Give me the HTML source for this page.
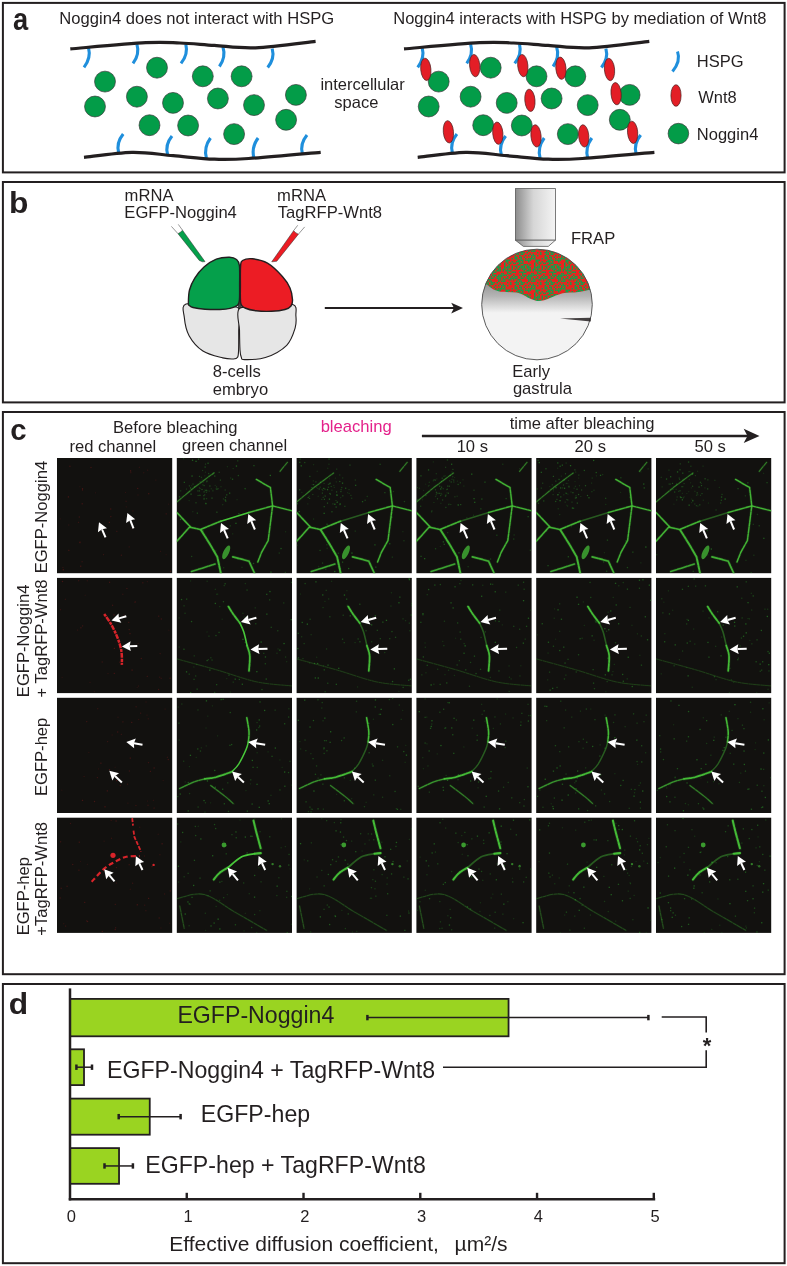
<!DOCTYPE html><html><head><meta charset="utf-8"><style>html,body{margin:0;padding:0;background:#fff;width:787px;height:1266px;overflow:hidden}svg{display:block;will-change:transform}text{font-family:"Liberation Sans",sans-serif}</style></head><body>
<svg width="787" height="1266" viewBox="0 0 787 1266">
<rect x="0" y="0" width="787" height="1266" fill="#fff"/>
<rect x="2.9" y="2.90" width="781.7" height="169.50" fill="none" stroke="#231f20" stroke-width="2"/>
<rect x="2.9" y="182.00" width="781.7" height="220.40" fill="none" stroke="#231f20" stroke-width="2"/>
<rect x="2.9" y="412.00" width="781.7" height="562.20" fill="none" stroke="#231f20" stroke-width="2"/>
<rect x="2.9" y="984.00" width="781.7" height="279.20" fill="none" stroke="#231f20" stroke-width="2"/>
<text transform="translate(12.9,29.5) scale(0.88,1)" x="0" y="0" font-size="31" font-weight="bold" fill="#231f20">a</text>
<text transform="translate(8.9,212.9) scale(1.07,1)" x="0" y="0" font-size="29.7" font-weight="bold" fill="#231f20">b</text>
<text transform="translate(10.2,439.5) scale(0.97,1)" x="0" y="0" font-size="30.3" font-weight="bold" fill="#231f20">c</text>
<text transform="translate(8.87,1013.9) scale(1.08,1)" x="0" y="0" font-size="29.4" font-weight="bold" fill="#231f20">d</text>
<text x="59.34" y="24.00" font-size="16.6" fill="#231f20" >Noggin4 does not interact with HSPG</text>
<text x="393.25" y="23.80" font-size="16.5" fill="#231f20" >Noggin4 interacts with HSPG by mediation of Wnt8</text>
<text x="320.41" y="90.00" font-size="16.5" fill="#231f20" >intercellular</text>
<text x="334.34" y="108.40" font-size="16.5" fill="#231f20" >space</text>
<text x="696.85" y="66.90" font-size="16.5" fill="#231f20" >HSPG</text>
<text x="698.13" y="102.60" font-size="16.5" fill="#231f20" >Wnt8</text>
<text x="696.85" y="140.40" font-size="16.5" fill="#231f20" >Noggin4</text>
<g transform="translate(0,0)">
<path d="M88.5,47.7 Q91.25,58.050000000000004 84,67.4" fill="none" stroke="#1f8fdc" stroke-width="3.1"/>
<path d="M136.9,44.1 Q139.95,54.25 133,63.4" fill="none" stroke="#1f8fdc" stroke-width="3.1"/>
<path d="M185.8,44.1 Q188.4,54.25 181,63.4" fill="none" stroke="#1f8fdc" stroke-width="3.1"/>
<path d="M222.9,46.8 Q226.15,57.15 219.4,66.5" fill="none" stroke="#1f8fdc" stroke-width="3.1"/>
<path d="M272.2,48.6 Q274.95,58.5 267.7,67.4" fill="none" stroke="#1f8fdc" stroke-width="3.1"/>
<path d="M123.2,134.1 Q115.95,143.0 118.7,152.9" fill="none" stroke="#1f8fdc" stroke-width="3.1"/>
<path d="M172,135.9 Q164.8,144.75 167.6,154.6" fill="none" stroke="#1f8fdc" stroke-width="3.1"/>
<path d="M210.5,138 Q203.45,147.6 206.4,158.2" fill="none" stroke="#1f8fdc" stroke-width="3.1"/>
<path d="M258.1,138 Q251.05,147.6 254,158.2" fill="none" stroke="#1f8fdc" stroke-width="3.1"/>
<path d="M307,135 Q299.7,143.9 302.4,153.8" fill="none" stroke="#1f8fdc" stroke-width="3.1"/>
<path d="M70.30,48.90 C82.88,47.87 127.52,43.68 145.80,42.70 C164.08,41.72 168.57,42.55 180.00,43.00 C191.43,43.45 201.82,44.60 214.40,45.40 C226.98,46.20 238.63,48.48 255.50,47.80 C272.37,47.12 305.58,42.38 315.60,41.30" fill="none" stroke="#231f20" stroke-width="3.2"/>
<path d="M84.00,157.40 C92.00,156.55 117.13,152.58 132.00,152.30 C146.87,152.02 159.47,154.55 173.20,155.70 C186.93,156.85 201.82,158.73 214.40,159.20 C226.98,159.67 230.98,159.65 248.70,158.50 C266.42,157.35 308.70,153.33 320.70,152.30" fill="none" stroke="#231f20" stroke-width="3.2"/>
<circle cx="105" cy="81.6" r="10.45" fill="#039c48" stroke="#3a3a3a" stroke-width="0.7"/>
<circle cx="95" cy="106.5" r="10.45" fill="#039c48" stroke="#3a3a3a" stroke-width="0.7"/>
<circle cx="136.9" cy="96.7" r="10.45" fill="#039c48" stroke="#3a3a3a" stroke-width="0.7"/>
<circle cx="157" cy="67.7" r="10.45" fill="#039c48" stroke="#3a3a3a" stroke-width="0.7"/>
<circle cx="173" cy="102.9" r="10.45" fill="#039c48" stroke="#3a3a3a" stroke-width="0.7"/>
<circle cx="149.5" cy="125.2" r="10.45" fill="#039c48" stroke="#3a3a3a" stroke-width="0.7"/>
<circle cx="188.1" cy="125.5" r="10.45" fill="#039c48" stroke="#3a3a3a" stroke-width="0.7"/>
<circle cx="202.8" cy="76.3" r="10.45" fill="#039c48" stroke="#3a3a3a" stroke-width="0.7"/>
<circle cx="241.6" cy="76.3" r="10.45" fill="#039c48" stroke="#3a3a3a" stroke-width="0.7"/>
<circle cx="217.9" cy="98.5" r="10.45" fill="#039c48" stroke="#3a3a3a" stroke-width="0.7"/>
<circle cx="254" cy="105.1" r="10.45" fill="#039c48" stroke="#3a3a3a" stroke-width="0.7"/>
<circle cx="295.9" cy="94.9" r="10.45" fill="#039c48" stroke="#3a3a3a" stroke-width="0.7"/>
<circle cx="286.1" cy="119.8" r="10.45" fill="#039c48" stroke="#3a3a3a" stroke-width="0.7"/>
<circle cx="234.1" cy="134.1" r="10.45" fill="#039c48" stroke="#3a3a3a" stroke-width="0.7"/>
</g>
<g transform="translate(333.7,0)">
<path d="M88.5,47.7 Q91.25,58.050000000000004 84,67.4" fill="none" stroke="#1f8fdc" stroke-width="3.1"/>
<path d="M136.9,44.1 Q139.95,54.25 133,63.4" fill="none" stroke="#1f8fdc" stroke-width="3.1"/>
<path d="M185.8,44.1 Q188.4,54.25 181,63.4" fill="none" stroke="#1f8fdc" stroke-width="3.1"/>
<path d="M222.9,46.8 Q226.15,57.15 219.4,66.5" fill="none" stroke="#1f8fdc" stroke-width="3.1"/>
<path d="M272.2,48.6 Q274.95,58.5 267.7,67.4" fill="none" stroke="#1f8fdc" stroke-width="3.1"/>
<path d="M123.2,134.1 Q115.95,143.0 118.7,152.9" fill="none" stroke="#1f8fdc" stroke-width="3.1"/>
<path d="M172,135.9 Q164.8,144.75 167.6,154.6" fill="none" stroke="#1f8fdc" stroke-width="3.1"/>
<path d="M210.5,138 Q203.45,147.6 206.4,158.2" fill="none" stroke="#1f8fdc" stroke-width="3.1"/>
<path d="M258.1,138 Q251.05,147.6 254,158.2" fill="none" stroke="#1f8fdc" stroke-width="3.1"/>
<path d="M307,135 Q299.7,143.9 302.4,153.8" fill="none" stroke="#1f8fdc" stroke-width="3.1"/>
<path d="M70.30,48.90 C82.88,47.87 127.52,43.68 145.80,42.70 C164.08,41.72 168.57,42.55 180.00,43.00 C191.43,43.45 201.82,44.60 214.40,45.40 C226.98,46.20 238.63,48.48 255.50,47.80 C272.37,47.12 305.58,42.38 315.60,41.30" fill="none" stroke="#231f20" stroke-width="3.2"/>
<path d="M84.00,157.40 C92.00,156.55 117.13,152.58 132.00,152.30 C146.87,152.02 159.47,154.55 173.20,155.70 C186.93,156.85 201.82,158.73 214.40,159.20 C226.98,159.67 230.98,159.65 248.70,158.50 C266.42,157.35 308.70,153.33 320.70,152.30" fill="none" stroke="#231f20" stroke-width="3.2"/>
<circle cx="105" cy="81.6" r="10.45" fill="#039c48" stroke="#3a3a3a" stroke-width="0.7"/>
<circle cx="95" cy="106.5" r="10.45" fill="#039c48" stroke="#3a3a3a" stroke-width="0.7"/>
<circle cx="136.9" cy="96.7" r="10.45" fill="#039c48" stroke="#3a3a3a" stroke-width="0.7"/>
<circle cx="157" cy="67.7" r="10.45" fill="#039c48" stroke="#3a3a3a" stroke-width="0.7"/>
<circle cx="173" cy="102.9" r="10.45" fill="#039c48" stroke="#3a3a3a" stroke-width="0.7"/>
<circle cx="149.5" cy="125.2" r="10.45" fill="#039c48" stroke="#3a3a3a" stroke-width="0.7"/>
<circle cx="188.1" cy="125.5" r="10.45" fill="#039c48" stroke="#3a3a3a" stroke-width="0.7"/>
<circle cx="202.8" cy="76.3" r="10.45" fill="#039c48" stroke="#3a3a3a" stroke-width="0.7"/>
<circle cx="241.6" cy="76.3" r="10.45" fill="#039c48" stroke="#3a3a3a" stroke-width="0.7"/>
<circle cx="217.9" cy="98.5" r="10.45" fill="#039c48" stroke="#3a3a3a" stroke-width="0.7"/>
<circle cx="254" cy="105.1" r="10.45" fill="#039c48" stroke="#3a3a3a" stroke-width="0.7"/>
<circle cx="295.9" cy="94.9" r="10.45" fill="#039c48" stroke="#3a3a3a" stroke-width="0.7"/>
<circle cx="286.1" cy="119.8" r="10.45" fill="#039c48" stroke="#3a3a3a" stroke-width="0.7"/>
<circle cx="234.1" cy="134.1" r="10.45" fill="#039c48" stroke="#3a3a3a" stroke-width="0.7"/>
</g>
<ellipse cx="425.8" cy="69.3" rx="5.1" ry="11.2" transform="rotate(-5 425.8 69.3)" fill="#e31e26" stroke="#4a2020" stroke-width="0.7"/>
<ellipse cx="474.7" cy="65.6" rx="5.1" ry="11.2" transform="rotate(-5 474.7 65.6)" fill="#e31e26" stroke="#4a2020" stroke-width="0.7"/>
<ellipse cx="522.8" cy="65.6" rx="5.1" ry="11.2" transform="rotate(-5 522.8 65.6)" fill="#e31e26" stroke="#4a2020" stroke-width="0.7"/>
<ellipse cx="560.9" cy="68.2" rx="5.1" ry="11.2" transform="rotate(-5 560.9 68.2)" fill="#e31e26" stroke="#4a2020" stroke-width="0.7"/>
<ellipse cx="609.5" cy="69.5" rx="5.1" ry="11.2" transform="rotate(-5 609.5 69.5)" fill="#e31e26" stroke="#4a2020" stroke-width="0.7"/>
<ellipse cx="529.9" cy="100.3" rx="5.1" ry="11.2" transform="rotate(-5 529.9 100.3)" fill="#e31e26" stroke="#4a2020" stroke-width="0.7"/>
<ellipse cx="616.1" cy="93.7" rx="5.1" ry="11.2" transform="rotate(-5 616.1 93.7)" fill="#e31e26" stroke="#4a2020" stroke-width="0.7"/>
<ellipse cx="448.4" cy="131.8" rx="5.1" ry="11.2" transform="rotate(-5 448.4 131.8)" fill="#e31e26" stroke="#4a2020" stroke-width="0.7"/>
<ellipse cx="497.8" cy="133.2" rx="5.1" ry="11.2" transform="rotate(-5 497.8 133.2)" fill="#e31e26" stroke="#4a2020" stroke-width="0.7"/>
<ellipse cx="536" cy="135.9" rx="5.1" ry="11.2" transform="rotate(-5 536 135.9)" fill="#e31e26" stroke="#4a2020" stroke-width="0.7"/>
<ellipse cx="583.7" cy="135.9" rx="5.1" ry="11.2" transform="rotate(-5 583.7 135.9)" fill="#e31e26" stroke="#4a2020" stroke-width="0.7"/>
<ellipse cx="632.6" cy="132.3" rx="5.1" ry="11.2" transform="rotate(-5 632.6 132.3)" fill="#e31e26" stroke="#4a2020" stroke-width="0.7"/>
<path d="M677.5,51.5 Q681,61 672.5,71.5" fill="none" stroke="#1f8fdc" stroke-width="3"/>
<ellipse cx="676" cy="95.5" rx="5.1" ry="10.8" fill="#e31e26" stroke="#4a2020" stroke-width="0.7"/>
<circle cx="678.4" cy="133.6" r="10.3" fill="#039c48" stroke="#3a3a3a" stroke-width="0.7"/>
<text x="124.60" y="200.60" font-size="16.6" fill="#231f20" >mRNA</text>
<text x="124.34" y="218.30" font-size="16.6" fill="#231f20" >EGFP-Noggin4</text>
<text x="277.10" y="200.60" font-size="16.6" fill="#231f20" >mRNA</text>
<text x="277.83" y="218.30" font-size="16.6" fill="#231f20" >TagRFP-Wnt8</text>
<text x="570.94" y="243.70" font-size="16.6" fill="#231f20" >FRAP</text>
<text x="212.77" y="376.50" font-size="16.6" fill="#231f20" >8-cells</text>
<text x="212.80" y="395.00" font-size="16.6" fill="#231f20" >embryo</text>
<text x="512.24" y="377.00" font-size="16.6" fill="#231f20" >Early</text>
<text x="512.90" y="393.90" font-size="16.6" fill="#231f20" >gastrula</text>
<rect x="238" y="301" width="3" height="8" fill="#444"/>
<path d="M186.00,304.00 C180.88,305.82 183.78,312.12 184.30,317.40 C184.82,322.68 186.00,330.10 189.10,335.70 C192.20,341.30 197.30,347.30 202.90,351.00 C208.50,354.70 217.60,356.57 222.70,357.90 C227.80,359.23 231.02,359.10 233.50,359.00 C235.98,358.90 236.75,358.80 237.60,357.30 C238.45,355.80 238.42,354.55 238.60,350.00 C238.78,345.45 238.68,336.95 238.70,330.00 C238.72,323.05 242.65,312.22 238.70,308.30 C234.75,304.38 223.78,307.22 215.00,306.50 C206.22,305.78 191.12,302.18 186.00,304.00Z" fill="#e6e6e6" stroke="#231f20" stroke-width="1.1"/>
<path d="M239.50,308.50 C235.25,312.25 239.42,323.08 239.50,330.00 C239.58,336.92 239.70,345.45 240.00,350.00 C240.30,354.55 240.55,355.70 241.30,357.30 C242.05,358.90 240.48,359.55 244.50,359.60 C248.52,359.65 258.37,359.98 265.40,357.60 C272.43,355.22 281.75,350.22 286.70,345.30 C291.65,340.38 293.57,333.00 295.10,328.10 C296.63,323.20 296.28,319.83 295.90,315.90 C295.52,311.97 297.95,305.90 292.80,304.50 C287.65,303.10 273.88,306.83 265.00,307.50 C256.12,308.17 243.75,304.75 239.50,308.50Z" fill="#e6e6e6" stroke="#231f20" stroke-width="1.1"/>
<path d="M188.40,303.50 C188.40,300.92 188.43,294.23 189.50,290.00 C190.57,285.77 192.38,281.93 194.80,278.10 C197.22,274.27 200.42,270.17 204.00,267.00 C207.58,263.83 212.05,260.73 216.30,259.10 C220.55,257.47 226.13,257.13 229.50,257.20 C232.87,257.27 234.85,258.12 236.50,259.50 C238.15,260.88 238.88,261.25 239.40,265.50 C239.92,269.75 239.60,279.25 239.60,285.00 C239.60,290.75 239.75,296.62 239.40,300.00 C239.05,303.38 239.07,303.90 237.50,305.30 C235.93,306.70 232.92,307.70 230.00,308.40 C227.08,309.10 224.17,309.37 220.00,309.50 C215.83,309.63 209.50,309.53 205.00,309.20 C200.50,308.87 195.58,308.12 193.00,307.50 C190.42,306.88 190.27,306.17 189.50,305.50 C188.73,304.83 188.40,306.08 188.40,303.50Z" fill="#05a04b" stroke="#231f20" stroke-width="1.4"/>
<path d="M240.60,266.00 C240.95,261.92 240.50,261.70 242.50,260.50 C244.50,259.30 248.43,258.35 252.60,258.80 C256.77,259.25 262.53,260.25 267.50,263.20 C272.47,266.15 278.65,272.37 282.40,276.50 C286.15,280.63 288.32,284.15 290.00,288.00 C291.68,291.85 292.33,296.60 292.50,299.60 C292.67,302.60 292.25,304.35 291.00,306.00 C289.75,307.65 288.25,308.62 285.00,309.50 C281.75,310.38 276.33,311.08 271.50,311.30 C266.67,311.52 260.42,311.35 256.00,310.80 C251.58,310.25 247.53,309.22 245.00,308.00 C242.47,306.78 241.57,307.33 240.80,303.50 C240.03,299.67 240.43,291.25 240.40,285.00 C240.37,278.75 240.25,270.08 240.60,266.00Z" fill="#ec1c24" stroke="#231f20" stroke-width="1.4"/>
<path d="M171.4,226.4 L178,233.7 M178.3,224.4 L182.5,230.2" stroke="#6a6a6a" stroke-width="0.7" fill="none"/>
<path d="M178,233.7 Q180.5,232.5 182.5,230.2 L205,261.6 L202.5,261.8 L199.3,260.5 Z" fill="#05a04b" stroke="#2a2a2a" stroke-width="0.5"/>
<path d="M297.7,225.3 L293.6,230.7 M304.7,226.9 L298.4,234.2" stroke="#6a6a6a" stroke-width="0.7" fill="none"/>
<path d="M293.6,230.7 Q295.5,233 298.4,234.2 L276.8,261.2 L274,261.6 L271.7,261.8 Z" fill="#ec1c24" stroke="#2a2a2a" stroke-width="0.5"/>
<line x1="324.8" y1="308.1" x2="455" y2="308.1" stroke="#231f20" stroke-width="2"/>
<path d="M463,308.1 L451.2,302.8 L454,308.1 L451.2,313.4 Z" fill="#231f20"/>
<defs><linearGradient id="obj" x1="0" x2="1" y1="0" y2="0"><stop offset="0" stop-color="#8c8c8c"/><stop offset="0.45" stop-color="#d6d6d6"/><stop offset="1" stop-color="#f4f4f4"/></linearGradient><linearGradient id="gast" x1="0" x2="0" y1="0" y2="1"><stop offset="0" stop-color="#8c8c8c"/><stop offset="0.2" stop-color="#b4b4b4"/><stop offset="0.41" stop-color="#f3f3f3"/><stop offset="1" stop-color="#f3f3f3"/></linearGradient><clipPath id="gclip"><circle cx="537" cy="304.5" r="55.3"/></clipPath></defs>
<rect x="515.4" y="188.6" width="40" height="51.6" fill="url(#obj)" stroke="#5a5a5a" stroke-width="0.8"/>
<path d="M515.4,240.2 L523.4,246.4 L548.3,246.4 L555.4,240.2 Z" fill="url(#obj)" stroke="#5a5a5a" stroke-width="0.8"/>
<g clip-path="url(#gclip)">
<rect x="480" y="280" width="115" height="80" fill="url(#gast)"/>
</g>
<defs><pattern id="rg" width="30" height="30" patternUnits="userSpaceOnUse"><rect width="30" height="30" fill="#e8241f"/>
<rect x="0.0" y="0.0" width="1.5" height="1.5" fill="#12a04a"/>
<rect x="0.0" y="3.0" width="1.5" height="1.5" fill="#12a04a"/>
<rect x="0.0" y="7.5" width="1.5" height="1.5" fill="#12a04a"/>
<rect x="0.0" y="9.0" width="1.5" height="1.5" fill="#12a04a"/>
<rect x="0.0" y="12.0" width="1.5" height="1.5" fill="#12a04a"/>
<rect x="0.0" y="13.5" width="1.5" height="1.5" fill="#12a04a"/>
<rect x="0.0" y="22.5" width="1.5" height="1.5" fill="#12a04a"/>
<rect x="1.5" y="1.5" width="1.5" height="1.5" fill="#12a04a"/>
<rect x="1.5" y="6.0" width="1.5" height="1.5" fill="#12a04a"/>
<rect x="1.5" y="7.5" width="1.5" height="1.5" fill="#12a04a"/>
<rect x="1.5" y="18.0" width="1.5" height="1.5" fill="#12a04a"/>
<rect x="1.5" y="21.0" width="1.5" height="1.5" fill="#12a04a"/>
<rect x="1.5" y="25.5" width="1.5" height="1.5" fill="#12a04a"/>
<rect x="1.5" y="27.0" width="1.5" height="1.5" fill="#12a04a"/>
<rect x="1.5" y="28.5" width="1.5" height="1.5" fill="#12a04a"/>
<rect x="3.0" y="1.5" width="1.5" height="1.5" fill="#12a04a"/>
<rect x="3.0" y="4.5" width="1.5" height="1.5" fill="#12a04a"/>
<rect x="3.0" y="7.5" width="1.5" height="1.5" fill="#12a04a"/>
<rect x="3.0" y="9.0" width="1.5" height="1.5" fill="#12a04a"/>
<rect x="3.0" y="22.5" width="1.5" height="1.5" fill="#12a04a"/>
<rect x="4.5" y="1.5" width="1.5" height="1.5" fill="#12a04a"/>
<rect x="4.5" y="6.0" width="1.5" height="1.5" fill="#12a04a"/>
<rect x="4.5" y="7.5" width="1.5" height="1.5" fill="#12a04a"/>
<rect x="4.5" y="12.0" width="1.5" height="1.5" fill="#12a04a"/>
<rect x="4.5" y="15.0" width="1.5" height="1.5" fill="#12a04a"/>
<rect x="4.5" y="16.5" width="1.5" height="1.5" fill="#12a04a"/>
<rect x="4.5" y="18.0" width="1.5" height="1.5" fill="#12a04a"/>
<rect x="4.5" y="22.5" width="1.5" height="1.5" fill="#12a04a"/>
<rect x="4.5" y="25.5" width="1.5" height="1.5" fill="#12a04a"/>
<rect x="4.5" y="28.5" width="1.5" height="1.5" fill="#12a04a"/>
<rect x="6.0" y="6.0" width="1.5" height="1.5" fill="#12a04a"/>
<rect x="6.0" y="7.5" width="1.5" height="1.5" fill="#12a04a"/>
<rect x="6.0" y="10.5" width="1.5" height="1.5" fill="#12a04a"/>
<rect x="6.0" y="12.0" width="1.5" height="1.5" fill="#12a04a"/>
<rect x="6.0" y="13.5" width="1.5" height="1.5" fill="#12a04a"/>
<rect x="6.0" y="16.5" width="1.5" height="1.5" fill="#12a04a"/>
<rect x="6.0" y="18.0" width="1.5" height="1.5" fill="#12a04a"/>
<rect x="6.0" y="21.0" width="1.5" height="1.5" fill="#12a04a"/>
<rect x="6.0" y="25.5" width="1.5" height="1.5" fill="#12a04a"/>
<rect x="6.0" y="27.0" width="1.5" height="1.5" fill="#12a04a"/>
<rect x="7.5" y="9.0" width="1.5" height="1.5" fill="#12a04a"/>
<rect x="7.5" y="12.0" width="1.5" height="1.5" fill="#12a04a"/>
<rect x="7.5" y="13.5" width="1.5" height="1.5" fill="#12a04a"/>
<rect x="7.5" y="19.5" width="1.5" height="1.5" fill="#12a04a"/>
<rect x="7.5" y="21.0" width="1.5" height="1.5" fill="#12a04a"/>
<rect x="7.5" y="24.0" width="1.5" height="1.5" fill="#12a04a"/>
<rect x="7.5" y="28.5" width="1.5" height="1.5" fill="#12a04a"/>
<rect x="9.0" y="1.5" width="1.5" height="1.5" fill="#12a04a"/>
<rect x="9.0" y="4.5" width="1.5" height="1.5" fill="#12a04a"/>
<rect x="9.0" y="9.0" width="1.5" height="1.5" fill="#12a04a"/>
<rect x="9.0" y="10.5" width="1.5" height="1.5" fill="#12a04a"/>
<rect x="9.0" y="15.0" width="1.5" height="1.5" fill="#12a04a"/>
<rect x="9.0" y="16.5" width="1.5" height="1.5" fill="#12a04a"/>
<rect x="9.0" y="19.5" width="1.5" height="1.5" fill="#12a04a"/>
<rect x="9.0" y="21.0" width="1.5" height="1.5" fill="#12a04a"/>
<rect x="9.0" y="22.5" width="1.5" height="1.5" fill="#12a04a"/>
<rect x="9.0" y="24.0" width="1.5" height="1.5" fill="#12a04a"/>
<rect x="9.0" y="27.0" width="1.5" height="1.5" fill="#12a04a"/>
<rect x="9.0" y="28.5" width="1.5" height="1.5" fill="#12a04a"/>
<rect x="10.5" y="1.5" width="1.5" height="1.5" fill="#12a04a"/>
<rect x="10.5" y="6.0" width="1.5" height="1.5" fill="#12a04a"/>
<rect x="10.5" y="7.5" width="1.5" height="1.5" fill="#12a04a"/>
<rect x="10.5" y="10.5" width="1.5" height="1.5" fill="#12a04a"/>
<rect x="10.5" y="12.0" width="1.5" height="1.5" fill="#12a04a"/>
<rect x="10.5" y="13.5" width="1.5" height="1.5" fill="#12a04a"/>
<rect x="10.5" y="16.5" width="1.5" height="1.5" fill="#12a04a"/>
<rect x="10.5" y="18.0" width="1.5" height="1.5" fill="#12a04a"/>
<rect x="10.5" y="19.5" width="1.5" height="1.5" fill="#12a04a"/>
<rect x="10.5" y="22.5" width="1.5" height="1.5" fill="#12a04a"/>
<rect x="10.5" y="25.5" width="1.5" height="1.5" fill="#12a04a"/>
<rect x="10.5" y="27.0" width="1.5" height="1.5" fill="#12a04a"/>
<rect x="12.0" y="1.5" width="1.5" height="1.5" fill="#12a04a"/>
<rect x="12.0" y="3.0" width="1.5" height="1.5" fill="#12a04a"/>
<rect x="12.0" y="4.5" width="1.5" height="1.5" fill="#12a04a"/>
<rect x="12.0" y="7.5" width="1.5" height="1.5" fill="#12a04a"/>
<rect x="12.0" y="12.0" width="1.5" height="1.5" fill="#12a04a"/>
<rect x="12.0" y="13.5" width="1.5" height="1.5" fill="#12a04a"/>
<rect x="12.0" y="19.5" width="1.5" height="1.5" fill="#12a04a"/>
<rect x="12.0" y="21.0" width="1.5" height="1.5" fill="#12a04a"/>
<rect x="12.0" y="22.5" width="1.5" height="1.5" fill="#12a04a"/>
<rect x="12.0" y="25.5" width="1.5" height="1.5" fill="#12a04a"/>
<rect x="12.0" y="27.0" width="1.5" height="1.5" fill="#12a04a"/>
<rect x="12.0" y="28.5" width="1.5" height="1.5" fill="#12a04a"/>
<rect x="13.5" y="0.0" width="1.5" height="1.5" fill="#12a04a"/>
<rect x="13.5" y="1.5" width="1.5" height="1.5" fill="#12a04a"/>
<rect x="13.5" y="4.5" width="1.5" height="1.5" fill="#12a04a"/>
<rect x="13.5" y="6.0" width="1.5" height="1.5" fill="#12a04a"/>
<rect x="13.5" y="12.0" width="1.5" height="1.5" fill="#12a04a"/>
<rect x="13.5" y="16.5" width="1.5" height="1.5" fill="#12a04a"/>
<rect x="13.5" y="24.0" width="1.5" height="1.5" fill="#12a04a"/>
<rect x="13.5" y="25.5" width="1.5" height="1.5" fill="#12a04a"/>
<rect x="13.5" y="27.0" width="1.5" height="1.5" fill="#12a04a"/>
<rect x="13.5" y="28.5" width="1.5" height="1.5" fill="#12a04a"/>
<rect x="15.0" y="1.5" width="1.5" height="1.5" fill="#12a04a"/>
<rect x="15.0" y="4.5" width="1.5" height="1.5" fill="#12a04a"/>
<rect x="15.0" y="15.0" width="1.5" height="1.5" fill="#12a04a"/>
<rect x="15.0" y="18.0" width="1.5" height="1.5" fill="#12a04a"/>
<rect x="15.0" y="19.5" width="1.5" height="1.5" fill="#12a04a"/>
<rect x="15.0" y="24.0" width="1.5" height="1.5" fill="#12a04a"/>
<rect x="15.0" y="28.5" width="1.5" height="1.5" fill="#12a04a"/>
<rect x="16.5" y="0.0" width="1.5" height="1.5" fill="#12a04a"/>
<rect x="16.5" y="6.0" width="1.5" height="1.5" fill="#12a04a"/>
<rect x="16.5" y="7.5" width="1.5" height="1.5" fill="#12a04a"/>
<rect x="16.5" y="12.0" width="1.5" height="1.5" fill="#12a04a"/>
<rect x="16.5" y="19.5" width="1.5" height="1.5" fill="#12a04a"/>
<rect x="16.5" y="24.0" width="1.5" height="1.5" fill="#12a04a"/>
<rect x="16.5" y="25.5" width="1.5" height="1.5" fill="#12a04a"/>
<rect x="16.5" y="27.0" width="1.5" height="1.5" fill="#12a04a"/>
<rect x="18.0" y="0.0" width="1.5" height="1.5" fill="#12a04a"/>
<rect x="18.0" y="4.5" width="1.5" height="1.5" fill="#12a04a"/>
<rect x="18.0" y="6.0" width="1.5" height="1.5" fill="#12a04a"/>
<rect x="18.0" y="7.5" width="1.5" height="1.5" fill="#12a04a"/>
<rect x="18.0" y="9.0" width="1.5" height="1.5" fill="#12a04a"/>
<rect x="18.0" y="10.5" width="1.5" height="1.5" fill="#12a04a"/>
<rect x="18.0" y="15.0" width="1.5" height="1.5" fill="#12a04a"/>
<rect x="18.0" y="18.0" width="1.5" height="1.5" fill="#12a04a"/>
<rect x="18.0" y="19.5" width="1.5" height="1.5" fill="#12a04a"/>
<rect x="18.0" y="21.0" width="1.5" height="1.5" fill="#12a04a"/>
<rect x="18.0" y="25.5" width="1.5" height="1.5" fill="#12a04a"/>
<rect x="18.0" y="27.0" width="1.5" height="1.5" fill="#12a04a"/>
<rect x="18.0" y="28.5" width="1.5" height="1.5" fill="#12a04a"/>
<rect x="19.5" y="0.0" width="1.5" height="1.5" fill="#12a04a"/>
<rect x="19.5" y="4.5" width="1.5" height="1.5" fill="#12a04a"/>
<rect x="19.5" y="6.0" width="1.5" height="1.5" fill="#12a04a"/>
<rect x="19.5" y="7.5" width="1.5" height="1.5" fill="#12a04a"/>
<rect x="19.5" y="9.0" width="1.5" height="1.5" fill="#12a04a"/>
<rect x="19.5" y="13.5" width="1.5" height="1.5" fill="#12a04a"/>
<rect x="19.5" y="18.0" width="1.5" height="1.5" fill="#12a04a"/>
<rect x="19.5" y="19.5" width="1.5" height="1.5" fill="#12a04a"/>
<rect x="19.5" y="24.0" width="1.5" height="1.5" fill="#12a04a"/>
<rect x="19.5" y="27.0" width="1.5" height="1.5" fill="#12a04a"/>
<rect x="19.5" y="28.5" width="1.5" height="1.5" fill="#12a04a"/>
<rect x="21.0" y="3.0" width="1.5" height="1.5" fill="#12a04a"/>
<rect x="21.0" y="4.5" width="1.5" height="1.5" fill="#12a04a"/>
<rect x="21.0" y="6.0" width="1.5" height="1.5" fill="#12a04a"/>
<rect x="21.0" y="10.5" width="1.5" height="1.5" fill="#12a04a"/>
<rect x="21.0" y="15.0" width="1.5" height="1.5" fill="#12a04a"/>
<rect x="21.0" y="16.5" width="1.5" height="1.5" fill="#12a04a"/>
<rect x="21.0" y="18.0" width="1.5" height="1.5" fill="#12a04a"/>
<rect x="22.5" y="0.0" width="1.5" height="1.5" fill="#12a04a"/>
<rect x="22.5" y="3.0" width="1.5" height="1.5" fill="#12a04a"/>
<rect x="22.5" y="4.5" width="1.5" height="1.5" fill="#12a04a"/>
<rect x="22.5" y="7.5" width="1.5" height="1.5" fill="#12a04a"/>
<rect x="22.5" y="9.0" width="1.5" height="1.5" fill="#12a04a"/>
<rect x="22.5" y="10.5" width="1.5" height="1.5" fill="#12a04a"/>
<rect x="22.5" y="13.5" width="1.5" height="1.5" fill="#12a04a"/>
<rect x="22.5" y="15.0" width="1.5" height="1.5" fill="#12a04a"/>
<rect x="22.5" y="18.0" width="1.5" height="1.5" fill="#12a04a"/>
<rect x="22.5" y="28.5" width="1.5" height="1.5" fill="#12a04a"/>
<rect x="24.0" y="4.5" width="1.5" height="1.5" fill="#12a04a"/>
<rect x="24.0" y="9.0" width="1.5" height="1.5" fill="#12a04a"/>
<rect x="24.0" y="10.5" width="1.5" height="1.5" fill="#12a04a"/>
<rect x="24.0" y="15.0" width="1.5" height="1.5" fill="#12a04a"/>
<rect x="24.0" y="16.5" width="1.5" height="1.5" fill="#12a04a"/>
<rect x="24.0" y="18.0" width="1.5" height="1.5" fill="#12a04a"/>
<rect x="24.0" y="22.5" width="1.5" height="1.5" fill="#12a04a"/>
<rect x="24.0" y="24.0" width="1.5" height="1.5" fill="#12a04a"/>
<rect x="24.0" y="25.5" width="1.5" height="1.5" fill="#12a04a"/>
<rect x="24.0" y="27.0" width="1.5" height="1.5" fill="#12a04a"/>
<rect x="24.0" y="28.5" width="1.5" height="1.5" fill="#12a04a"/>
<rect x="25.5" y="0.0" width="1.5" height="1.5" fill="#12a04a"/>
<rect x="25.5" y="4.5" width="1.5" height="1.5" fill="#12a04a"/>
<rect x="25.5" y="7.5" width="1.5" height="1.5" fill="#12a04a"/>
<rect x="25.5" y="19.5" width="1.5" height="1.5" fill="#12a04a"/>
<rect x="25.5" y="21.0" width="1.5" height="1.5" fill="#12a04a"/>
<rect x="25.5" y="27.0" width="1.5" height="1.5" fill="#12a04a"/>
<rect x="27.0" y="0.0" width="1.5" height="1.5" fill="#12a04a"/>
<rect x="27.0" y="1.5" width="1.5" height="1.5" fill="#12a04a"/>
<rect x="27.0" y="3.0" width="1.5" height="1.5" fill="#12a04a"/>
<rect x="27.0" y="6.0" width="1.5" height="1.5" fill="#12a04a"/>
<rect x="27.0" y="7.5" width="1.5" height="1.5" fill="#12a04a"/>
<rect x="27.0" y="12.0" width="1.5" height="1.5" fill="#12a04a"/>
<rect x="27.0" y="15.0" width="1.5" height="1.5" fill="#12a04a"/>
<rect x="27.0" y="19.5" width="1.5" height="1.5" fill="#12a04a"/>
<rect x="27.0" y="21.0" width="1.5" height="1.5" fill="#12a04a"/>
<rect x="27.0" y="22.5" width="1.5" height="1.5" fill="#12a04a"/>
<rect x="27.0" y="25.5" width="1.5" height="1.5" fill="#12a04a"/>
<rect x="27.0" y="27.0" width="1.5" height="1.5" fill="#12a04a"/>
<rect x="27.0" y="28.5" width="1.5" height="1.5" fill="#12a04a"/>
<rect x="28.5" y="0.0" width="1.5" height="1.5" fill="#12a04a"/>
<rect x="28.5" y="3.0" width="1.5" height="1.5" fill="#12a04a"/>
<rect x="28.5" y="9.0" width="1.5" height="1.5" fill="#12a04a"/>
<rect x="28.5" y="19.5" width="1.5" height="1.5" fill="#12a04a"/>
<rect x="28.5" y="24.0" width="1.5" height="1.5" fill="#12a04a"/>
<rect x="28.5" y="25.5" width="1.5" height="1.5" fill="#12a04a"/>
<rect x="28.5" y="27.0" width="1.5" height="1.5" fill="#12a04a"/>
</pattern><clipPath id="capclip"><path d="M470,240 L600,240 L600,290 L588.3,290 C580,292 576.7,292.6 570,292.6 C562,292.8 559,294.4 550,298 C545,300.5 540,301.5 536,300.8 C528,299 522,293 516.3,292.6 C508,292 503,291.7 500.2,291.7 C493,290.5 490,287 486.9,284.6 L470,284.6 Z"/></clipPath></defs>
<g clip-path="url(#gclip)"><rect x="470" y="240" width="130" height="70" fill="url(#rg)" clip-path="url(#capclip)"/></g>
<circle cx="537" cy="304.5" r="55.3" fill="none" stroke="#4a4a4a" stroke-width="0.9"/>
<path d="M560,318.4 L590.8,317.7 L590.8,321.6 Z" fill="#231f20" opacity="0.85"/>
<text x="113.04" y="433.00" font-size="16.6" fill="#231f20" >Before bleaching</text>
<text x="69.40" y="451.50" font-size="16.6" fill="#231f20" >red channel</text>
<text x="182.00" y="450.60" font-size="16.6" fill="#231f20" >green channel</text>
<text x="320.64" y="432.10" font-size="16.6" fill="#e4218b" >bleaching</text>
<text x="509.63" y="429.30" font-size="16.6" fill="#231f20" >time after bleaching</text>
<text x="456.64" y="452.00" font-size="16.6" fill="#231f20" >10 s</text>
<text x="574.57" y="451.80" font-size="16.6" fill="#231f20" >20 s</text>
<text x="694.44" y="451.60" font-size="16.6" fill="#231f20" >50 s</text>
<line x1="421.9" y1="436" x2="748" y2="436" stroke="#231f20" stroke-width="2.5"/>
<path d="M759.5,435.9 L743.7,428.8 L747.5,435.9 L743.7,443 Z" fill="#231f20"/>
<text transform="translate(46.90,573.36) rotate(-90)" x="0" y="0" font-size="16.6" fill="#231f20">EGFP-Noggin4</text>
<text transform="translate(29.10,697.16) rotate(-90)" x="0" y="0" font-size="16.6" fill="#231f20">EGFP-Noggin4</text>
<text transform="translate(47.10,697.60) rotate(-90)" x="0" y="0" font-size="16.6" fill="#231f20">+ TagRFP-Wnt8</text>
<text transform="translate(46.60,796.06) rotate(-90)" x="0" y="0" font-size="16.6" fill="#231f20">EGFP-hep</text>
<text transform="translate(29.20,935.36) rotate(-90)" x="0" y="0" font-size="16.6" fill="#231f20">EGFP-hep</text>
<text transform="translate(46.60,935.80) rotate(-90)" x="0" y="0" font-size="16.6" fill="#231f20">+TagRFP-Wnt8</text>
<rect x="57.00" y="458.00" width="115.2" height="115.2" fill="#12110f"/>
<rect x="176.80" y="458.00" width="115.2" height="115.2" fill="#12110f"/>
<rect x="296.60" y="458.00" width="115.2" height="115.2" fill="#12110f"/>
<rect x="416.40" y="458.00" width="115.2" height="115.2" fill="#12110f"/>
<rect x="536.20" y="458.00" width="115.2" height="115.2" fill="#12110f"/>
<rect x="656.00" y="458.00" width="115.2" height="115.2" fill="#12110f"/>
<rect x="57.00" y="577.90" width="115.2" height="115.2" fill="#12110f"/>
<rect x="176.80" y="577.90" width="115.2" height="115.2" fill="#12110f"/>
<rect x="296.60" y="577.90" width="115.2" height="115.2" fill="#12110f"/>
<rect x="416.40" y="577.90" width="115.2" height="115.2" fill="#12110f"/>
<rect x="536.20" y="577.90" width="115.2" height="115.2" fill="#12110f"/>
<rect x="656.00" y="577.90" width="115.2" height="115.2" fill="#12110f"/>
<rect x="57.00" y="697.80" width="115.2" height="115.2" fill="#12110f"/>
<rect x="176.80" y="697.80" width="115.2" height="115.2" fill="#12110f"/>
<rect x="296.60" y="697.80" width="115.2" height="115.2" fill="#12110f"/>
<rect x="416.40" y="697.80" width="115.2" height="115.2" fill="#12110f"/>
<rect x="536.20" y="697.80" width="115.2" height="115.2" fill="#12110f"/>
<rect x="656.00" y="697.80" width="115.2" height="115.2" fill="#12110f"/>
<rect x="57.00" y="817.70" width="115.2" height="115.2" fill="#12110f"/>
<rect x="176.80" y="817.70" width="115.2" height="115.2" fill="#12110f"/>
<rect x="296.60" y="817.70" width="115.2" height="115.2" fill="#12110f"/>
<rect x="416.40" y="817.70" width="115.2" height="115.2" fill="#12110f"/>
<rect x="536.20" y="817.70" width="115.2" height="115.2" fill="#12110f"/>
<rect x="656.00" y="817.70" width="115.2" height="115.2" fill="#12110f"/>
<g transform="translate(176.80,458.00)">
<clipPath id="tc10"><rect width="115.2" height="115.2"/></clipPath><g clip-path="url(#tc10)">
<rect x="37.3" y="17.4" width="1.3" height="1.3" fill="#2fae2f" opacity="0.38"/>
<rect x="50.0" y="8.0" width="1.3" height="1.3" fill="#2fae2f" opacity="0.18"/>
<rect x="25.7" y="72.3" width="1.3" height="1.3" fill="#2fae2f" opacity="0.35"/>
<rect x="13.6" y="35.5" width="1.3" height="1.3" fill="#2fae2f" opacity="0.44"/>
<rect x="6.9" y="23.7" width="1.3" height="1.3" fill="#2fae2f" opacity="0.39"/>
<rect x="49.3" y="36.2" width="1.3" height="1.3" fill="#2fae2f" opacity="0.35"/>
<rect x="52.2" y="34.5" width="1.3" height="1.3" fill="#2fae2f" opacity="0.43"/>
<rect x="60.5" y="100.8" width="1.3" height="1.3" fill="#2fae2f" opacity="0.25"/>
<rect x="4.5" y="77.0" width="1.3" height="1.3" fill="#2fae2f" opacity="0.35"/>
<rect x="76.5" y="7.0" width="1.3" height="1.3" fill="#2fae2f" opacity="0.38"/>
<rect x="53.2" y="19.4" width="1.3" height="1.3" fill="#2fae2f" opacity="0.19"/>
<rect x="28.5" y="45.0" width="1.3" height="1.3" fill="#2fae2f" opacity="0.45"/>
<rect x="101.8" y="94.4" width="1.3" height="1.3" fill="#2fae2f" opacity="0.25"/>
<rect x="47.8" y="41.3" width="1.3" height="1.3" fill="#2fae2f" opacity="0.46"/>
<rect x="26.7" y="26.9" width="1.3" height="1.3" fill="#2fae2f" opacity="0.32"/>
<rect x="67.9" y="30.3" width="1.3" height="1.3" fill="#2fae2f" opacity="0.15"/>
<rect x="48.3" y="42.5" width="1.3" height="1.3" fill="#2fae2f" opacity="0.35"/>
<rect x="103.6" y="89.9" width="1.3" height="1.3" fill="#2fae2f" opacity="0.43"/>
<rect x="45.2" y="46.0" width="1.3" height="1.3" fill="#2fae2f" opacity="0.19"/>
<rect x="24.0" y="18.7" width="1.3" height="1.3" fill="#2fae2f" opacity="0.27"/>
<rect x="6.1" y="0.0" width="1.3" height="1.3" fill="#2fae2f" opacity="0.20"/>
<rect x="11.7" y="41.9" width="1.3" height="1.3" fill="#2fae2f" opacity="0.16"/>
<rect x="29.1" y="40.0" width="1.3" height="1.3" fill="#2fae2f" opacity="0.28"/>
<rect x="14.2" y="97.8" width="1.3" height="1.3" fill="#2fae2f" opacity="0.31"/>
<rect x="55.7" y="9.9" width="1.3" height="1.3" fill="#2fae2f" opacity="0.19"/>
<rect x="39.5" y="30.5" width="1.3" height="1.3" fill="#2fae2f" opacity="0.44"/>
<rect x="18.6" y="2.7" width="1.3" height="1.3" fill="#2fae2f" opacity="0.48"/>
<rect x="60.9" y="16.9" width="1.3" height="1.3" fill="#2fae2f" opacity="0.34"/>
<rect x="3.1" y="60.8" width="1.3" height="1.3" fill="#2fae2f" opacity="0.45"/>
<rect x="93.5" y="113.5" width="1.3" height="1.3" fill="#2fae2f" opacity="0.43"/>
<rect x="59.6" y="41.0" width="1.3" height="1.3" fill="#2fae2f" opacity="0.16"/>
<rect x="3.2" y="32.2" width="1.3" height="1.3" fill="#2fae2f" opacity="0.24"/>
<rect x="107.9" y="113.8" width="1.3" height="1.3" fill="#2fae2f" opacity="0.28"/>
<rect x="25.4" y="26.1" width="1.3" height="1.3" fill="#2fae2f" opacity="0.22"/>
<rect x="23.5" y="71.9" width="1.3" height="1.3" fill="#2fae2f" opacity="0.44"/>
<rect x="55.2" y="75.2" width="1.3" height="1.3" fill="#2fae2f" opacity="0.18"/>
<rect x="76.1" y="104.8" width="1.3" height="1.3" fill="#2fae2f" opacity="0.41"/>
<rect x="55.1" y="20.6" width="1.3" height="1.3" fill="#2fae2f" opacity="0.43"/>
<rect x="38.3" y="92.3" width="1.3" height="1.3" fill="#2fae2f" opacity="0.29"/>
<rect x="46.2" y="109.1" width="1.3" height="1.3" fill="#2fae2f" opacity="0.21"/>
<rect x="14.6" y="17.4" width="1.3" height="1.3" fill="#2fae2f" opacity="0.47"/>
<rect x="92.9" y="16.8" width="1.3" height="1.3" fill="#2fae2f" opacity="0.49"/>
<rect x="15.1" y="1.6" width="1.3" height="1.3" fill="#2fae2f" opacity="0.49"/>
<rect x="74.8" y="60.7" width="1.3" height="1.3" fill="#2fae2f" opacity="0.30"/>
<rect x="29.0" y="33.7" width="1.3" height="1.3" fill="#2fae2f" opacity="0.23"/>
<rect x="67.6" y="29.9" width="1.3" height="1.3" fill="#2fae2f" opacity="0.30"/>
<rect x="52.8" y="67.2" width="1.3" height="1.3" fill="#2fae2f" opacity="0.30"/>
<rect x="60.3" y="2.2" width="1.3" height="1.3" fill="#2fae2f" opacity="0.30"/>
<rect x="21.1" y="0.5" width="1.3" height="1.3" fill="#2fae2f" opacity="0.43"/>
<rect x="19.9" y="54.5" width="1.3" height="1.3" fill="#2fae2f" opacity="0.34"/>
<rect x="28.6" y="31.9" width="1.3" height="1.3" fill="#2fae2f" opacity="0.42"/>
<rect x="58.5" y="64.7" width="1.3" height="1.3" fill="#2fae2f" opacity="0.47"/>
<rect x="61.4" y="55.1" width="1.3" height="1.3" fill="#2fae2f" opacity="0.39"/>
<rect x="64.5" y="108.7" width="1.3" height="1.3" fill="#2fae2f" opacity="0.20"/>
<rect x="27.7" y="8.4" width="1.3" height="1.3" fill="#2fae2f" opacity="0.38"/>
<rect x="22.5" y="36.7" width="1.3" height="1.3" fill="#2fae2f" opacity="0.40"/>
<rect x="2.1" y="38.2" width="1.3" height="1.3" fill="#2fae2f" opacity="0.37"/>
<rect x="59.0" y="7.4" width="1.3" height="1.3" fill="#2fae2f" opacity="0.49"/>
<rect x="30.6" y="4.6" width="1.3" height="1.3" fill="#2fae2f" opacity="0.42"/>
<rect x="31.2" y="14.9" width="1.3" height="1.3" fill="#2fae2f" opacity="0.30"/>
<rect x="108.1" y="73.1" width="1.3" height="1.3" fill="#2fae2f" opacity="0.18"/>
<rect x="32.5" y="27.4" width="1.2" height="1.2" fill="#3cbe3c" opacity="0.36"/>
<rect x="20.4" y="32.3" width="1.2" height="1.2" fill="#3cbe3c" opacity="0.27"/>
<rect x="37.8" y="26.8" width="1.2" height="1.2" fill="#3cbe3c" opacity="0.16"/>
<rect x="22.0" y="28.9" width="1.2" height="1.2" fill="#3cbe3c" opacity="0.15"/>
<rect x="31.9" y="32.5" width="1.2" height="1.2" fill="#3cbe3c" opacity="0.18"/>
<rect x="26.4" y="37.1" width="1.2" height="1.2" fill="#3cbe3c" opacity="0.33"/>
<rect x="26.8" y="40.3" width="1.2" height="1.2" fill="#3cbe3c" opacity="0.17"/>
<rect x="28.8" y="31.4" width="1.2" height="1.2" fill="#3cbe3c" opacity="0.19"/>
<rect x="47.8" y="31.4" width="1.2" height="1.2" fill="#3cbe3c" opacity="0.27"/>
<rect x="34.6" y="39.5" width="1.2" height="1.2" fill="#3cbe3c" opacity="0.38"/>
<rect x="46.0" y="40.3" width="1.2" height="1.2" fill="#3cbe3c" opacity="0.24"/>
<rect x="9.1" y="30.5" width="1.2" height="1.2" fill="#3cbe3c" opacity="0.23"/>
<rect x="13.2" y="29.4" width="1.2" height="1.2" fill="#3cbe3c" opacity="0.40"/>
<rect x="18.6" y="44.2" width="1.2" height="1.2" fill="#3cbe3c" opacity="0.32"/>
<rect x="22.6" y="23.1" width="1.2" height="1.2" fill="#3cbe3c" opacity="0.22"/>
<rect x="35.5" y="31.6" width="1.2" height="1.2" fill="#3cbe3c" opacity="0.14"/>
<rect x="29.5" y="23.1" width="1.2" height="1.2" fill="#3cbe3c" opacity="0.17"/>
<rect x="48.2" y="38.7" width="1.2" height="1.2" fill="#3cbe3c" opacity="0.36"/>
<rect x="25.7" y="23.6" width="1.2" height="1.2" fill="#3cbe3c" opacity="0.19"/>
<rect x="26.7" y="39.6" width="1.2" height="1.2" fill="#3cbe3c" opacity="0.16"/>
<rect x="21.9" y="32.3" width="1.2" height="1.2" fill="#3cbe3c" opacity="0.39"/>
<rect x="43.6" y="28.1" width="1.2" height="1.2" fill="#3cbe3c" opacity="0.19"/>
<rect x="39.2" y="28.3" width="1.2" height="1.2" fill="#3cbe3c" opacity="0.22"/>
<rect x="40.8" y="30.1" width="1.2" height="1.2" fill="#3cbe3c" opacity="0.25"/>
<rect x="22.6" y="29.9" width="1.2" height="1.2" fill="#3cbe3c" opacity="0.26"/>
<rect x="38.6" y="30.2" width="1.2" height="1.2" fill="#3cbe3c" opacity="0.15"/>
<rect x="27.4" y="31.5" width="1.2" height="1.2" fill="#3cbe3c" opacity="0.13"/>
<rect x="27.3" y="36.2" width="1.2" height="1.2" fill="#3cbe3c" opacity="0.28"/>
<rect x="12.0" y="27.3" width="1.2" height="1.2" fill="#3cbe3c" opacity="0.30"/>
<rect x="25.2" y="11.9" width="1.2" height="1.2" fill="#3cbe3c" opacity="0.23"/>
<rect x="15.4" y="53.1" width="1.2" height="1.2" fill="#3cbe3c" opacity="0.16"/>
<rect x="27.4" y="17.2" width="1.2" height="1.2" fill="#3cbe3c" opacity="0.13"/>
<rect x="41.8" y="13.7" width="1.2" height="1.2" fill="#3cbe3c" opacity="0.30"/>
<rect x="28.0" y="13.6" width="1.2" height="1.2" fill="#3cbe3c" opacity="0.16"/>
<rect x="17.1" y="28.4" width="1.2" height="1.2" fill="#3cbe3c" opacity="0.35"/>
<rect x="36.9" y="14.1" width="1.2" height="1.2" fill="#3cbe3c" opacity="0.28"/>
<rect x="43.0" y="21.5" width="1.2" height="1.2" fill="#3cbe3c" opacity="0.31"/>
<rect x="30.3" y="32.2" width="1.2" height="1.2" fill="#3cbe3c" opacity="0.16"/>
<rect x="26.7" y="33.3" width="1.2" height="1.2" fill="#3cbe3c" opacity="0.35"/>
<rect x="15.6" y="25.5" width="1.2" height="1.2" fill="#3cbe3c" opacity="0.30"/>
<rect x="24.6" y="20.5" width="1.2" height="1.2" fill="#3cbe3c" opacity="0.12"/>
<rect x="35.4" y="15.7" width="1.2" height="1.2" fill="#3cbe3c" opacity="0.26"/>
<rect x="14.3" y="27.1" width="1.2" height="1.2" fill="#3cbe3c" opacity="0.14"/>
<rect x="29.3" y="23.2" width="1.2" height="1.2" fill="#3cbe3c" opacity="0.14"/>
<rect x="28.3" y="44.5" width="1.2" height="1.2" fill="#3cbe3c" opacity="0.18"/>
<rect x="28.1" y="5.5" width="1.2" height="1.2" fill="#3cbe3c" opacity="0.26"/>
<rect x="20.7" y="36.9" width="1.2" height="1.2" fill="#3cbe3c" opacity="0.31"/>
<rect x="31.6" y="17.6" width="1.2" height="1.2" fill="#3cbe3c" opacity="0.30"/>
<rect x="35.5" y="32.4" width="1.2" height="1.2" fill="#3cbe3c" opacity="0.19"/>
<rect x="29.6" y="22.3" width="1.2" height="1.2" fill="#3cbe3c" opacity="0.28"/>
<rect x="33.9" y="30.2" width="1.2" height="1.2" fill="#3cbe3c" opacity="0.20"/>
<rect x="22.1" y="17.8" width="1.2" height="1.2" fill="#3cbe3c" opacity="0.31"/>
<rect x="26.6" y="40.5" width="1.2" height="1.2" fill="#3cbe3c" opacity="0.25"/>
<rect x="24.6" y="30.9" width="1.2" height="1.2" fill="#3cbe3c" opacity="0.37"/>
<rect x="39.5" y="53.6" width="1.2" height="1.2" fill="#3cbe3c" opacity="0.38"/>
<path d="M0.00,44.00 L18.00,29.00 L37.00,15.00" fill="none" stroke="#48c83a" stroke-width="2.44" opacity="0.090" stroke-linecap="round"/>
<path d="M0.00,44.00 L18.00,29.00 L37.00,15.00" fill="none" stroke="#48c83a" stroke-width="1.04" opacity="0.55" stroke-linecap="round" stroke-dasharray="6 1.2 3 1"/>
<path d="M0.00,54.50 L13.30,68.50 L0.00,83.30" fill="none" stroke="#48c83a" stroke-width="2.92" opacity="0.142" stroke-linecap="round"/>
<path d="M0.00,54.50 L13.30,68.50 L0.00,83.30" fill="none" stroke="#48c83a" stroke-width="1.52" opacity="0.87" stroke-linecap="round" stroke-dasharray="6 1.2 3 1"/>
<path d="M24.30,72.20 L33.00,86.00 L40.50,98.80 L44.20,116.00" fill="none" stroke="#48c83a" stroke-width="3.32" opacity="0.142" stroke-linecap="round"/>
<path d="M24.30,72.20 L33.00,86.00 L40.50,98.80 L44.20,116.00" fill="none" stroke="#48c83a" stroke-width="1.92" opacity="0.87" stroke-linecap="round" stroke-dasharray="6 1.2 3 1"/>
<path d="M79.60,21.40 L93.60,29.50 L95.80,47.90 L91.40,82.50 L84.80,94.30 L81.00,104.00" fill="none" stroke="#48c83a" stroke-width="2.84" opacity="0.142" stroke-linecap="round"/>
<path d="M79.60,21.40 L93.60,29.50 L95.80,47.90 L91.40,82.50 L84.80,94.30 L81.00,104.00" fill="none" stroke="#48c83a" stroke-width="1.44" opacity="0.87" stroke-linecap="round" stroke-dasharray="6 1.2 3 1"/>
<path d="M14.70,113.50 L38.30,106.10" fill="none" stroke="#48c83a" stroke-width="3.00" opacity="0.128" stroke-linecap="round"/>
<path d="M14.70,113.50 L38.30,106.10" fill="none" stroke="#48c83a" stroke-width="1.60" opacity="0.78" stroke-linecap="round" stroke-dasharray="6 1.2 3 1"/>
<path d="M56.00,98.80 L72.20,103.20 L78.10,116.00" fill="none" stroke="#48c83a" stroke-width="3.16" opacity="0.135" stroke-linecap="round"/>
<path d="M56.00,98.80 L72.20,103.20 L78.10,116.00" fill="none" stroke="#48c83a" stroke-width="1.76" opacity="0.83" stroke-linecap="round" stroke-dasharray="6 1.2 3 1"/>
<path d="M103.20,13.30 L110.60,4.40" fill="none" stroke="#48c83a" stroke-width="2.52" opacity="0.090" stroke-linecap="round"/>
<path d="M103.20,13.30 L110.60,4.40" fill="none" stroke="#48c83a" stroke-width="1.12" opacity="0.55" stroke-linecap="round" stroke-dasharray="6 1.2 3 1"/>
<path d="M72.20,54.50 L95.80,47.90 L116.00,53.00" fill="none" stroke="#48c83a" stroke-width="2.84" opacity="0.142" stroke-linecap="round"/>
<path d="M72.20,54.50 L95.80,47.90 L116.00,53.00" fill="none" stroke="#48c83a" stroke-width="1.44" opacity="0.87" stroke-linecap="round" stroke-dasharray="6 1.2 3 1"/>
<path d="M13.30,69.30 L23.60,71.50 L44.00,63.20" fill="none" stroke="#48c83a" stroke-width="2.92" opacity="0.142" stroke-linecap="round"/>
<path d="M13.30,69.30 L23.60,71.50 L44.00,63.20" fill="none" stroke="#48c83a" stroke-width="1.52" opacity="0.87" stroke-linecap="round" stroke-dasharray="6 1.2 3 1"/>
<path d="M44.00,63.20 L72.20,54.50" fill="none" stroke="#48c83a" stroke-width="1.44" opacity="1.0" stroke-linecap="round"/>
<ellipse cx="49.4" cy="94.3" rx="7.5" ry="2.8" transform="rotate(-65 49.4 94.3)" fill="#48c83a" opacity="0.7"/>
</g></g>
<line x1="227.70" y1="538.30" x2="224.09" y2="530.00" stroke="#ffffff" stroke-width="2.0"/>
<path d="M221.00,522.90 L229.00,529.01 L224.09,530.00 L220.02,532.92 Z" fill="#ffffff"/>
<line x1="254.90" y1="529.50" x2="251.33" y2="521.12" stroke="#ffffff" stroke-width="2.0"/>
<path d="M248.30,514.00 L256.26,520.18 L251.33,521.12 L247.24,524.02 Z" fill="#ffffff"/>
<g transform="translate(296.60,458.00)">
<clipPath id="tc20"><rect width="115.2" height="115.2"/></clipPath><g clip-path="url(#tc20)">
<rect x="2.0" y="52.9" width="1.3" height="1.3" fill="#2fae2f" opacity="0.49"/>
<rect x="51.8" y="30.9" width="1.3" height="1.3" fill="#2fae2f" opacity="0.22"/>
<rect x="16.3" y="60.4" width="1.3" height="1.3" fill="#2fae2f" opacity="0.20"/>
<rect x="94.5" y="58.6" width="1.3" height="1.3" fill="#2fae2f" opacity="0.40"/>
<rect x="2.9" y="0.4" width="1.3" height="1.3" fill="#2fae2f" opacity="0.32"/>
<rect x="51.9" y="34.8" width="1.3" height="1.3" fill="#2fae2f" opacity="0.20"/>
<rect x="39.6" y="36.4" width="1.3" height="1.3" fill="#2fae2f" opacity="0.44"/>
<rect x="0.2" y="86.5" width="1.3" height="1.3" fill="#2fae2f" opacity="0.19"/>
<rect x="106.7" y="82.1" width="1.3" height="1.3" fill="#2fae2f" opacity="0.25"/>
<rect x="42.9" y="45.3" width="1.3" height="1.3" fill="#2fae2f" opacity="0.50"/>
<rect x="67.9" y="41.6" width="1.3" height="1.3" fill="#2fae2f" opacity="0.30"/>
<rect x="31.7" y="5.6" width="1.3" height="1.3" fill="#2fae2f" opacity="0.19"/>
<rect x="96.2" y="32.9" width="1.3" height="1.3" fill="#2fae2f" opacity="0.24"/>
<rect x="43.0" y="110.2" width="1.3" height="1.3" fill="#2fae2f" opacity="0.43"/>
<rect x="72.7" y="105.2" width="1.3" height="1.3" fill="#2fae2f" opacity="0.34"/>
<rect x="82.9" y="5.7" width="1.3" height="1.3" fill="#2fae2f" opacity="0.31"/>
<rect x="54.4" y="39.6" width="1.3" height="1.3" fill="#2fae2f" opacity="0.25"/>
<rect x="45.4" y="19.3" width="1.3" height="1.3" fill="#2fae2f" opacity="0.21"/>
<rect x="25.3" y="104.4" width="1.3" height="1.3" fill="#2fae2f" opacity="0.31"/>
<rect x="16.1" y="22.2" width="1.3" height="1.3" fill="#2fae2f" opacity="0.18"/>
<rect x="39.4" y="10.5" width="1.3" height="1.3" fill="#2fae2f" opacity="0.23"/>
<rect x="29.8" y="65.6" width="1.3" height="1.3" fill="#2fae2f" opacity="0.41"/>
<rect x="47.6" y="47.7" width="1.3" height="1.3" fill="#2fae2f" opacity="0.33"/>
<rect x="43.4" y="39.0" width="1.3" height="1.3" fill="#2fae2f" opacity="0.17"/>
<rect x="58.0" y="72.5" width="1.3" height="1.3" fill="#2fae2f" opacity="0.23"/>
<rect x="31.2" y="28.6" width="1.3" height="1.3" fill="#2fae2f" opacity="0.29"/>
<rect x="51.4" y="109.9" width="1.3" height="1.3" fill="#2fae2f" opacity="0.46"/>
<rect x="2.5" y="3.7" width="1.3" height="1.3" fill="#2fae2f" opacity="0.40"/>
<rect x="0.0" y="45.1" width="1.3" height="1.3" fill="#2fae2f" opacity="0.47"/>
<rect x="95.1" y="98.5" width="1.3" height="1.3" fill="#2fae2f" opacity="0.24"/>
<rect x="12.6" y="17.8" width="1.3" height="1.3" fill="#2fae2f" opacity="0.33"/>
<rect x="78.6" y="108.5" width="1.3" height="1.3" fill="#2fae2f" opacity="0.38"/>
<rect x="14.7" y="29.0" width="1.3" height="1.3" fill="#2fae2f" opacity="0.37"/>
<rect x="34.7" y="53.1" width="1.3" height="1.3" fill="#2fae2f" opacity="0.38"/>
<rect x="28.5" y="110.7" width="1.3" height="1.3" fill="#2fae2f" opacity="0.26"/>
<rect x="48.4" y="29.6" width="1.3" height="1.3" fill="#2fae2f" opacity="0.38"/>
<rect x="38.9" y="48.4" width="1.3" height="1.3" fill="#2fae2f" opacity="0.39"/>
<rect x="22.8" y="91.8" width="1.3" height="1.3" fill="#2fae2f" opacity="0.33"/>
<rect x="87.6" y="34.0" width="1.3" height="1.3" fill="#2fae2f" opacity="0.32"/>
<rect x="21.6" y="25.7" width="1.3" height="1.3" fill="#2fae2f" opacity="0.30"/>
<rect x="45.3" y="24.5" width="1.3" height="1.3" fill="#2fae2f" opacity="0.49"/>
<rect x="16.3" y="6.0" width="1.3" height="1.3" fill="#2fae2f" opacity="0.17"/>
<rect x="45.3" y="103.5" width="1.3" height="1.3" fill="#2fae2f" opacity="0.41"/>
<rect x="21.4" y="107.8" width="1.3" height="1.3" fill="#2fae2f" opacity="0.16"/>
<rect x="38.2" y="19.5" width="1.3" height="1.3" fill="#2fae2f" opacity="0.15"/>
<rect x="32.2" y="40.5" width="1.3" height="1.3" fill="#2fae2f" opacity="0.48"/>
<rect x="41.1" y="94.6" width="1.3" height="1.3" fill="#2fae2f" opacity="0.30"/>
<rect x="4.0" y="7.2" width="1.3" height="1.3" fill="#2fae2f" opacity="0.47"/>
<rect x="29.6" y="86.1" width="1.3" height="1.3" fill="#2fae2f" opacity="0.27"/>
<rect x="31.8" y="0.4" width="1.3" height="1.3" fill="#2fae2f" opacity="0.41"/>
<rect x="105.6" y="73.0" width="1.3" height="1.3" fill="#2fae2f" opacity="0.16"/>
<rect x="26.9" y="54.7" width="1.3" height="1.3" fill="#2fae2f" opacity="0.48"/>
<rect x="44.5" y="28.9" width="1.3" height="1.3" fill="#2fae2f" opacity="0.30"/>
<rect x="92.5" y="85.1" width="1.3" height="1.3" fill="#2fae2f" opacity="0.42"/>
<rect x="70.0" y="37.8" width="1.3" height="1.3" fill="#2fae2f" opacity="0.26"/>
<rect x="7.5" y="3.9" width="1.3" height="1.3" fill="#2fae2f" opacity="0.34"/>
<rect x="37.5" y="112.9" width="1.3" height="1.3" fill="#2fae2f" opacity="0.50"/>
<rect x="30.5" y="9.7" width="1.3" height="1.3" fill="#2fae2f" opacity="0.18"/>
<rect x="27.0" y="48.0" width="1.3" height="1.3" fill="#2fae2f" opacity="0.37"/>
<rect x="77.7" y="86.2" width="1.3" height="1.3" fill="#2fae2f" opacity="0.38"/>
<rect x="65.3" y="43.0" width="1.3" height="1.3" fill="#2fae2f" opacity="0.41"/>
<rect x="22.9" y="28.5" width="1.3" height="1.3" fill="#2fae2f" opacity="0.24"/>
<rect x="37.6" y="45.6" width="1.3" height="1.3" fill="#2fae2f" opacity="0.50"/>
<rect x="58.4" y="26.7" width="1.3" height="1.3" fill="#2fae2f" opacity="0.43"/>
<rect x="54.7" y="94.4" width="1.3" height="1.3" fill="#2fae2f" opacity="0.47"/>
<rect x="4.6" y="33.8" width="1.3" height="1.3" fill="#2fae2f" opacity="0.19"/>
<rect x="107.2" y="42.9" width="1.3" height="1.3" fill="#2fae2f" opacity="0.31"/>
<rect x="29.9" y="89.6" width="1.3" height="1.3" fill="#2fae2f" opacity="0.19"/>
<rect x="42.5" y="16.3" width="1.3" height="1.3" fill="#2fae2f" opacity="0.22"/>
<rect x="30.5" y="31.3" width="1.2" height="1.2" fill="#3cbe3c" opacity="0.21"/>
<rect x="26.9" y="24.8" width="1.2" height="1.2" fill="#3cbe3c" opacity="0.21"/>
<rect x="35.7" y="45.3" width="1.2" height="1.2" fill="#3cbe3c" opacity="0.27"/>
<rect x="34.7" y="31.6" width="1.2" height="1.2" fill="#3cbe3c" opacity="0.23"/>
<rect x="15.1" y="26.0" width="1.2" height="1.2" fill="#3cbe3c" opacity="0.15"/>
<rect x="38.8" y="41.9" width="1.2" height="1.2" fill="#3cbe3c" opacity="0.23"/>
<rect x="28.0" y="37.5" width="1.2" height="1.2" fill="#3cbe3c" opacity="0.39"/>
<rect x="24.6" y="40.8" width="1.2" height="1.2" fill="#3cbe3c" opacity="0.22"/>
<rect x="11.0" y="39.0" width="1.2" height="1.2" fill="#3cbe3c" opacity="0.40"/>
<rect x="25.2" y="34.5" width="1.2" height="1.2" fill="#3cbe3c" opacity="0.32"/>
<rect x="30.3" y="30.9" width="1.2" height="1.2" fill="#3cbe3c" opacity="0.37"/>
<rect x="11.9" y="37.7" width="1.2" height="1.2" fill="#3cbe3c" opacity="0.23"/>
<rect x="39.1" y="23.3" width="1.2" height="1.2" fill="#3cbe3c" opacity="0.17"/>
<rect x="43.9" y="31.1" width="1.2" height="1.2" fill="#3cbe3c" opacity="0.30"/>
<rect x="34.0" y="27.9" width="1.2" height="1.2" fill="#3cbe3c" opacity="0.29"/>
<rect x="21.0" y="37.7" width="1.2" height="1.2" fill="#3cbe3c" opacity="0.16"/>
<rect x="27.2" y="40.7" width="1.2" height="1.2" fill="#3cbe3c" opacity="0.38"/>
<rect x="39.9" y="36.6" width="1.2" height="1.2" fill="#3cbe3c" opacity="0.35"/>
<rect x="37.1" y="28.8" width="1.2" height="1.2" fill="#3cbe3c" opacity="0.16"/>
<rect x="58.1" y="21.4" width="1.2" height="1.2" fill="#3cbe3c" opacity="0.26"/>
<rect x="53.7" y="36.8" width="1.2" height="1.2" fill="#3cbe3c" opacity="0.23"/>
<rect x="42.6" y="22.9" width="1.2" height="1.2" fill="#3cbe3c" opacity="0.35"/>
<rect x="40.3" y="43.4" width="1.2" height="1.2" fill="#3cbe3c" opacity="0.18"/>
<rect x="12.4" y="39.8" width="1.2" height="1.2" fill="#3cbe3c" opacity="0.35"/>
<rect x="33.2" y="35.8" width="1.2" height="1.2" fill="#3cbe3c" opacity="0.23"/>
<rect x="19.2" y="29.0" width="1.2" height="1.2" fill="#3cbe3c" opacity="0.15"/>
<rect x="30.3" y="44.5" width="1.2" height="1.2" fill="#3cbe3c" opacity="0.37"/>
<rect x="43.7" y="33.0" width="1.2" height="1.2" fill="#3cbe3c" opacity="0.33"/>
<rect x="50.4" y="34.1" width="1.2" height="1.2" fill="#3cbe3c" opacity="0.15"/>
<rect x="18.7" y="23.3" width="1.2" height="1.2" fill="#3cbe3c" opacity="0.30"/>
<rect x="26.0" y="38.8" width="1.2" height="1.2" fill="#3cbe3c" opacity="0.28"/>
<rect x="15.6" y="35.9" width="1.2" height="1.2" fill="#3cbe3c" opacity="0.25"/>
<rect x="27.8" y="30.7" width="1.2" height="1.2" fill="#3cbe3c" opacity="0.29"/>
<rect x="22.0" y="30.4" width="1.2" height="1.2" fill="#3cbe3c" opacity="0.33"/>
<rect x="32.3" y="20.2" width="1.2" height="1.2" fill="#3cbe3c" opacity="0.17"/>
<rect x="24.8" y="30.7" width="1.2" height="1.2" fill="#3cbe3c" opacity="0.16"/>
<rect x="25.6" y="31.7" width="1.2" height="1.2" fill="#3cbe3c" opacity="0.24"/>
<rect x="26.8" y="29.8" width="1.2" height="1.2" fill="#3cbe3c" opacity="0.30"/>
<rect x="45.6" y="37.2" width="1.2" height="1.2" fill="#3cbe3c" opacity="0.34"/>
<rect x="26.3" y="29.8" width="1.2" height="1.2" fill="#3cbe3c" opacity="0.26"/>
<rect x="10.6" y="45.3" width="1.2" height="1.2" fill="#3cbe3c" opacity="0.16"/>
<rect x="52.8" y="6.5" width="1.2" height="1.2" fill="#3cbe3c" opacity="0.32"/>
<rect x="32.9" y="24.6" width="1.2" height="1.2" fill="#3cbe3c" opacity="0.39"/>
<rect x="2.5" y="31.2" width="1.2" height="1.2" fill="#3cbe3c" opacity="0.38"/>
<rect x="39.9" y="43.7" width="1.2" height="1.2" fill="#3cbe3c" opacity="0.38"/>
<rect x="39.4" y="33.3" width="1.2" height="1.2" fill="#3cbe3c" opacity="0.33"/>
<rect x="42.7" y="46.1" width="1.2" height="1.2" fill="#3cbe3c" opacity="0.20"/>
<rect x="32.5" y="25.4" width="1.2" height="1.2" fill="#3cbe3c" opacity="0.26"/>
<rect x="36.6" y="27.0" width="1.2" height="1.2" fill="#3cbe3c" opacity="0.19"/>
<rect x="20.4" y="29.7" width="1.2" height="1.2" fill="#3cbe3c" opacity="0.13"/>
<rect x="32.7" y="34.9" width="1.2" height="1.2" fill="#3cbe3c" opacity="0.38"/>
<rect x="20.0" y="12.7" width="1.2" height="1.2" fill="#3cbe3c" opacity="0.17"/>
<rect x="31.2" y="25.7" width="1.2" height="1.2" fill="#3cbe3c" opacity="0.27"/>
<rect x="23.2" y="23.6" width="1.2" height="1.2" fill="#3cbe3c" opacity="0.36"/>
<rect x="16.4" y="26.0" width="1.2" height="1.2" fill="#3cbe3c" opacity="0.37"/>
<path d="M0.00,44.00 L18.00,29.00 L37.00,15.00" fill="none" stroke="#48c83a" stroke-width="2.44" opacity="0.090" stroke-linecap="round"/>
<path d="M0.00,44.00 L18.00,29.00 L37.00,15.00" fill="none" stroke="#48c83a" stroke-width="1.04" opacity="0.55" stroke-linecap="round" stroke-dasharray="6 1.2 3 1"/>
<path d="M0.00,54.50 L13.30,68.50 L0.00,83.30" fill="none" stroke="#48c83a" stroke-width="2.92" opacity="0.142" stroke-linecap="round"/>
<path d="M0.00,54.50 L13.30,68.50 L0.00,83.30" fill="none" stroke="#48c83a" stroke-width="1.52" opacity="0.87" stroke-linecap="round" stroke-dasharray="6 1.2 3 1"/>
<path d="M24.30,72.20 L33.00,86.00 L40.50,98.80 L44.20,116.00" fill="none" stroke="#48c83a" stroke-width="3.32" opacity="0.142" stroke-linecap="round"/>
<path d="M24.30,72.20 L33.00,86.00 L40.50,98.80 L44.20,116.00" fill="none" stroke="#48c83a" stroke-width="1.92" opacity="0.87" stroke-linecap="round" stroke-dasharray="6 1.2 3 1"/>
<path d="M79.60,21.40 L93.60,29.50 L95.80,47.90 L91.40,82.50 L84.80,94.30 L81.00,104.00" fill="none" stroke="#48c83a" stroke-width="2.84" opacity="0.142" stroke-linecap="round"/>
<path d="M79.60,21.40 L93.60,29.50 L95.80,47.90 L91.40,82.50 L84.80,94.30 L81.00,104.00" fill="none" stroke="#48c83a" stroke-width="1.44" opacity="0.87" stroke-linecap="round" stroke-dasharray="6 1.2 3 1"/>
<path d="M14.70,113.50 L38.30,106.10" fill="none" stroke="#48c83a" stroke-width="3.00" opacity="0.128" stroke-linecap="round"/>
<path d="M14.70,113.50 L38.30,106.10" fill="none" stroke="#48c83a" stroke-width="1.60" opacity="0.78" stroke-linecap="round" stroke-dasharray="6 1.2 3 1"/>
<path d="M56.00,98.80 L72.20,103.20 L78.10,116.00" fill="none" stroke="#48c83a" stroke-width="3.16" opacity="0.135" stroke-linecap="round"/>
<path d="M56.00,98.80 L72.20,103.20 L78.10,116.00" fill="none" stroke="#48c83a" stroke-width="1.76" opacity="0.83" stroke-linecap="round" stroke-dasharray="6 1.2 3 1"/>
<path d="M103.20,13.30 L110.60,4.40" fill="none" stroke="#48c83a" stroke-width="2.52" opacity="0.090" stroke-linecap="round"/>
<path d="M103.20,13.30 L110.60,4.40" fill="none" stroke="#48c83a" stroke-width="1.12" opacity="0.55" stroke-linecap="round" stroke-dasharray="6 1.2 3 1"/>
<path d="M72.20,54.50 L95.80,47.90 L116.00,53.00" fill="none" stroke="#48c83a" stroke-width="2.84" opacity="0.142" stroke-linecap="round"/>
<path d="M72.20,54.50 L95.80,47.90 L116.00,53.00" fill="none" stroke="#48c83a" stroke-width="1.44" opacity="0.87" stroke-linecap="round" stroke-dasharray="6 1.2 3 1"/>
<path d="M13.30,69.30 L23.60,71.50 L44.00,63.20" fill="none" stroke="#48c83a" stroke-width="2.92" opacity="0.142" stroke-linecap="round"/>
<path d="M13.30,69.30 L23.60,71.50 L44.00,63.20" fill="none" stroke="#48c83a" stroke-width="1.52" opacity="0.87" stroke-linecap="round" stroke-dasharray="6 1.2 3 1"/>
<path d="M44.00,63.20 L72.20,54.50" fill="none" stroke="#48c83a" stroke-width="1.44" opacity="0.4" stroke-linecap="round"/>
<ellipse cx="49.4" cy="94.3" rx="7.5" ry="2.8" transform="rotate(-65 49.4 94.3)" fill="#48c83a" opacity="0.7"/>
</g></g>
<line x1="347.50" y1="538.30" x2="343.89" y2="530.00" stroke="#ffffff" stroke-width="2.0"/>
<path d="M340.80,522.90 L348.80,529.01 L343.89,530.00 L339.82,532.92 Z" fill="#ffffff"/>
<line x1="374.70" y1="529.50" x2="371.13" y2="521.12" stroke="#ffffff" stroke-width="2.0"/>
<path d="M368.10,514.00 L376.06,520.18 L371.13,521.12 L367.04,524.02 Z" fill="#ffffff"/>
<g transform="translate(416.40,458.00)">
<clipPath id="tc30"><rect width="115.2" height="115.2"/></clipPath><g clip-path="url(#tc30)">
<rect x="85.7" y="5.6" width="1.3" height="1.3" fill="#2fae2f" opacity="0.24"/>
<rect x="3.9" y="17.2" width="1.3" height="1.3" fill="#2fae2f" opacity="0.37"/>
<rect x="49.8" y="59.1" width="1.3" height="1.3" fill="#2fae2f" opacity="0.20"/>
<rect x="0.3" y="40.9" width="1.3" height="1.3" fill="#2fae2f" opacity="0.19"/>
<rect x="41.1" y="25.8" width="1.3" height="1.3" fill="#2fae2f" opacity="0.35"/>
<rect x="67.9" y="23.5" width="1.3" height="1.3" fill="#2fae2f" opacity="0.37"/>
<rect x="54.7" y="15.5" width="1.3" height="1.3" fill="#2fae2f" opacity="0.48"/>
<rect x="28.1" y="17.2" width="1.3" height="1.3" fill="#2fae2f" opacity="0.18"/>
<rect x="73.5" y="100.4" width="1.3" height="1.3" fill="#2fae2f" opacity="0.29"/>
<rect x="30.4" y="1.3" width="1.3" height="1.3" fill="#2fae2f" opacity="0.38"/>
<rect x="64.8" y="40.4" width="1.3" height="1.3" fill="#2fae2f" opacity="0.38"/>
<rect x="51.1" y="108.0" width="1.3" height="1.3" fill="#2fae2f" opacity="0.24"/>
<rect x="46.8" y="27.4" width="1.3" height="1.3" fill="#2fae2f" opacity="0.17"/>
<rect x="34.6" y="5.6" width="1.3" height="1.3" fill="#2fae2f" opacity="0.46"/>
<rect x="12.1" y="26.8" width="1.3" height="1.3" fill="#2fae2f" opacity="0.16"/>
<rect x="63.8" y="50.2" width="1.3" height="1.3" fill="#2fae2f" opacity="0.33"/>
<rect x="30.6" y="74.0" width="1.3" height="1.3" fill="#2fae2f" opacity="0.23"/>
<rect x="27.2" y="85.7" width="1.3" height="1.3" fill="#2fae2f" opacity="0.41"/>
<rect x="79.8" y="76.6" width="1.3" height="1.3" fill="#2fae2f" opacity="0.31"/>
<rect x="96.7" y="80.4" width="1.3" height="1.3" fill="#2fae2f" opacity="0.30"/>
<rect x="16.3" y="3.3" width="1.3" height="1.3" fill="#2fae2f" opacity="0.16"/>
<rect x="41.9" y="94.2" width="1.3" height="1.3" fill="#2fae2f" opacity="0.46"/>
<rect x="7.6" y="100.0" width="1.3" height="1.3" fill="#2fae2f" opacity="0.48"/>
<rect x="12.3" y="23.7" width="1.3" height="1.3" fill="#2fae2f" opacity="0.19"/>
<rect x="4.0" y="97.7" width="1.3" height="1.3" fill="#2fae2f" opacity="0.37"/>
<rect x="11.5" y="11.3" width="1.3" height="1.3" fill="#2fae2f" opacity="0.42"/>
<rect x="23.6" y="36.8" width="1.3" height="1.3" fill="#2fae2f" opacity="0.30"/>
<rect x="2.4" y="29.6" width="1.3" height="1.3" fill="#2fae2f" opacity="0.25"/>
<rect x="111.1" y="58.0" width="1.3" height="1.3" fill="#2fae2f" opacity="0.37"/>
<rect x="3.6" y="47.6" width="1.3" height="1.3" fill="#2fae2f" opacity="0.30"/>
<rect x="89.1" y="39.9" width="1.3" height="1.3" fill="#2fae2f" opacity="0.34"/>
<rect x="23.3" y="87.8" width="1.3" height="1.3" fill="#2fae2f" opacity="0.15"/>
<rect x="56.5" y="56.6" width="1.3" height="1.3" fill="#2fae2f" opacity="0.21"/>
<rect x="57.0" y="40.0" width="1.3" height="1.3" fill="#2fae2f" opacity="0.44"/>
<rect x="90.8" y="80.3" width="1.3" height="1.3" fill="#2fae2f" opacity="0.37"/>
<rect x="41.0" y="46.2" width="1.3" height="1.3" fill="#2fae2f" opacity="0.29"/>
<rect x="102.6" y="9.9" width="1.3" height="1.3" fill="#2fae2f" opacity="0.16"/>
<rect x="23.7" y="30.3" width="1.3" height="1.3" fill="#2fae2f" opacity="0.47"/>
<rect x="57.7" y="43.7" width="1.3" height="1.3" fill="#2fae2f" opacity="0.46"/>
<rect x="40.1" y="37.6" width="1.3" height="1.3" fill="#2fae2f" opacity="0.20"/>
<rect x="97.1" y="76.3" width="1.3" height="1.3" fill="#2fae2f" opacity="0.21"/>
<rect x="14.5" y="53.2" width="1.3" height="1.3" fill="#2fae2f" opacity="0.23"/>
<rect x="22.1" y="34.7" width="1.3" height="1.3" fill="#2fae2f" opacity="0.40"/>
<rect x="28.5" y="37.6" width="1.3" height="1.3" fill="#2fae2f" opacity="0.33"/>
<rect x="18.5" y="37.8" width="1.3" height="1.3" fill="#2fae2f" opacity="0.22"/>
<rect x="113.3" y="91.6" width="1.3" height="1.3" fill="#2fae2f" opacity="0.30"/>
<rect x="23.8" y="44.7" width="1.3" height="1.3" fill="#2fae2f" opacity="0.16"/>
<rect x="26.3" y="83.2" width="1.3" height="1.3" fill="#2fae2f" opacity="0.42"/>
<rect x="28.8" y="48.8" width="1.3" height="1.3" fill="#2fae2f" opacity="0.31"/>
<rect x="18.5" y="90.1" width="1.3" height="1.3" fill="#2fae2f" opacity="0.33"/>
<rect x="31.6" y="46.0" width="1.3" height="1.3" fill="#2fae2f" opacity="0.15"/>
<rect x="20.0" y="34.6" width="1.2" height="1.2" fill="#3cbe3c" opacity="0.32"/>
<rect x="24.8" y="35.7" width="1.2" height="1.2" fill="#3cbe3c" opacity="0.18"/>
<rect x="28.6" y="8.7" width="1.2" height="1.2" fill="#3cbe3c" opacity="0.27"/>
<rect x="33.8" y="45.9" width="1.2" height="1.2" fill="#3cbe3c" opacity="0.23"/>
<rect x="31.4" y="34.6" width="1.2" height="1.2" fill="#3cbe3c" opacity="0.34"/>
<rect x="35.7" y="18.1" width="1.2" height="1.2" fill="#3cbe3c" opacity="0.25"/>
<rect x="22.7" y="27.6" width="1.2" height="1.2" fill="#3cbe3c" opacity="0.39"/>
<rect x="20.5" y="40.2" width="1.2" height="1.2" fill="#3cbe3c" opacity="0.35"/>
<rect x="35.0" y="20.7" width="1.2" height="1.2" fill="#3cbe3c" opacity="0.20"/>
<rect x="24.6" y="28.6" width="1.2" height="1.2" fill="#3cbe3c" opacity="0.35"/>
<rect x="16.9" y="43.9" width="1.2" height="1.2" fill="#3cbe3c" opacity="0.19"/>
<rect x="24.0" y="34.8" width="1.2" height="1.2" fill="#3cbe3c" opacity="0.24"/>
<rect x="30.3" y="30.6" width="1.2" height="1.2" fill="#3cbe3c" opacity="0.32"/>
<rect x="28.4" y="36.6" width="1.2" height="1.2" fill="#3cbe3c" opacity="0.20"/>
<rect x="18.5" y="31.2" width="1.2" height="1.2" fill="#3cbe3c" opacity="0.30"/>
<rect x="24.4" y="22.8" width="1.2" height="1.2" fill="#3cbe3c" opacity="0.38"/>
<rect x="32.3" y="27.6" width="1.2" height="1.2" fill="#3cbe3c" opacity="0.35"/>
<rect x="46.0" y="21.2" width="1.2" height="1.2" fill="#3cbe3c" opacity="0.16"/>
<rect x="37.6" y="18.9" width="1.2" height="1.2" fill="#3cbe3c" opacity="0.12"/>
<rect x="57.0" y="31.6" width="1.2" height="1.2" fill="#3cbe3c" opacity="0.30"/>
<rect x="30.0" y="34.2" width="1.2" height="1.2" fill="#3cbe3c" opacity="0.16"/>
<rect x="32.0" y="45.5" width="1.2" height="1.2" fill="#3cbe3c" opacity="0.22"/>
<rect x="43.7" y="46.0" width="1.2" height="1.2" fill="#3cbe3c" opacity="0.34"/>
<rect x="41.4" y="46.5" width="1.2" height="1.2" fill="#3cbe3c" opacity="0.29"/>
<rect x="33.2" y="16.9" width="1.2" height="1.2" fill="#3cbe3c" opacity="0.37"/>
<rect x="35.0" y="13.3" width="1.2" height="1.2" fill="#3cbe3c" opacity="0.18"/>
<rect x="25.2" y="19.6" width="1.2" height="1.2" fill="#3cbe3c" opacity="0.33"/>
<rect x="8.9" y="37.0" width="1.2" height="1.2" fill="#3cbe3c" opacity="0.28"/>
<rect x="29.3" y="36.5" width="1.2" height="1.2" fill="#3cbe3c" opacity="0.16"/>
<rect x="26.2" y="30.1" width="1.2" height="1.2" fill="#3cbe3c" opacity="0.25"/>
<rect x="37.9" y="38.2" width="1.2" height="1.2" fill="#3cbe3c" opacity="0.26"/>
<rect x="8.7" y="25.6" width="1.2" height="1.2" fill="#3cbe3c" opacity="0.12"/>
<rect x="36.7" y="21.5" width="1.2" height="1.2" fill="#3cbe3c" opacity="0.28"/>
<rect x="19.3" y="15.1" width="1.2" height="1.2" fill="#3cbe3c" opacity="0.22"/>
<rect x="5.6" y="41.2" width="1.2" height="1.2" fill="#3cbe3c" opacity="0.14"/>
<rect x="19.8" y="20.3" width="1.2" height="1.2" fill="#3cbe3c" opacity="0.13"/>
<rect x="17.1" y="21.3" width="1.2" height="1.2" fill="#3cbe3c" opacity="0.38"/>
<rect x="14.9" y="52.3" width="1.2" height="1.2" fill="#3cbe3c" opacity="0.26"/>
<rect x="6.6" y="31.8" width="1.2" height="1.2" fill="#3cbe3c" opacity="0.13"/>
<rect x="26.9" y="17.6" width="1.2" height="1.2" fill="#3cbe3c" opacity="0.21"/>
<rect x="36.8" y="23.4" width="1.2" height="1.2" fill="#3cbe3c" opacity="0.25"/>
<rect x="11.4" y="27.5" width="1.2" height="1.2" fill="#3cbe3c" opacity="0.18"/>
<rect x="19.4" y="33.7" width="1.2" height="1.2" fill="#3cbe3c" opacity="0.28"/>
<rect x="34.2" y="23.4" width="1.2" height="1.2" fill="#3cbe3c" opacity="0.35"/>
<rect x="19.3" y="36.1" width="1.2" height="1.2" fill="#3cbe3c" opacity="0.20"/>
<rect x="0.1" y="29.0" width="1.2" height="1.2" fill="#3cbe3c" opacity="0.30"/>
<rect x="32.6" y="22.2" width="1.2" height="1.2" fill="#3cbe3c" opacity="0.21"/>
<rect x="25.6" y="41.4" width="1.2" height="1.2" fill="#3cbe3c" opacity="0.30"/>
<rect x="30.7" y="27.5" width="1.2" height="1.2" fill="#3cbe3c" opacity="0.32"/>
<rect x="40.4" y="22.6" width="1.2" height="1.2" fill="#3cbe3c" opacity="0.13"/>
<rect x="29.6" y="31.0" width="1.2" height="1.2" fill="#3cbe3c" opacity="0.17"/>
<rect x="43.3" y="24.2" width="1.2" height="1.2" fill="#3cbe3c" opacity="0.30"/>
<rect x="35.9" y="10.8" width="1.2" height="1.2" fill="#3cbe3c" opacity="0.29"/>
<rect x="18.5" y="21.5" width="1.2" height="1.2" fill="#3cbe3c" opacity="0.31"/>
<rect x="16.3" y="22.3" width="1.2" height="1.2" fill="#3cbe3c" opacity="0.18"/>
<path d="M0.00,44.00 L18.00,29.00 L37.00,15.00" fill="none" stroke="#48c83a" stroke-width="2.44" opacity="0.090" stroke-linecap="round"/>
<path d="M0.00,44.00 L18.00,29.00 L37.00,15.00" fill="none" stroke="#48c83a" stroke-width="1.04" opacity="0.55" stroke-linecap="round" stroke-dasharray="6 1.2 3 1"/>
<path d="M0.00,54.50 L13.30,68.50 L0.00,83.30" fill="none" stroke="#48c83a" stroke-width="2.92" opacity="0.142" stroke-linecap="round"/>
<path d="M0.00,54.50 L13.30,68.50 L0.00,83.30" fill="none" stroke="#48c83a" stroke-width="1.52" opacity="0.87" stroke-linecap="round" stroke-dasharray="6 1.2 3 1"/>
<path d="M24.30,72.20 L33.00,86.00 L40.50,98.80 L44.20,116.00" fill="none" stroke="#48c83a" stroke-width="3.32" opacity="0.142" stroke-linecap="round"/>
<path d="M24.30,72.20 L33.00,86.00 L40.50,98.80 L44.20,116.00" fill="none" stroke="#48c83a" stroke-width="1.92" opacity="0.87" stroke-linecap="round" stroke-dasharray="6 1.2 3 1"/>
<path d="M79.60,21.40 L93.60,29.50 L95.80,47.90 L91.40,82.50 L84.80,94.30 L81.00,104.00" fill="none" stroke="#48c83a" stroke-width="2.84" opacity="0.142" stroke-linecap="round"/>
<path d="M79.60,21.40 L93.60,29.50 L95.80,47.90 L91.40,82.50 L84.80,94.30 L81.00,104.00" fill="none" stroke="#48c83a" stroke-width="1.44" opacity="0.87" stroke-linecap="round" stroke-dasharray="6 1.2 3 1"/>
<path d="M14.70,113.50 L38.30,106.10" fill="none" stroke="#48c83a" stroke-width="3.00" opacity="0.128" stroke-linecap="round"/>
<path d="M14.70,113.50 L38.30,106.10" fill="none" stroke="#48c83a" stroke-width="1.60" opacity="0.78" stroke-linecap="round" stroke-dasharray="6 1.2 3 1"/>
<path d="M56.00,98.80 L72.20,103.20 L78.10,116.00" fill="none" stroke="#48c83a" stroke-width="3.16" opacity="0.135" stroke-linecap="round"/>
<path d="M56.00,98.80 L72.20,103.20 L78.10,116.00" fill="none" stroke="#48c83a" stroke-width="1.76" opacity="0.83" stroke-linecap="round" stroke-dasharray="6 1.2 3 1"/>
<path d="M103.20,13.30 L110.60,4.40" fill="none" stroke="#48c83a" stroke-width="2.52" opacity="0.090" stroke-linecap="round"/>
<path d="M103.20,13.30 L110.60,4.40" fill="none" stroke="#48c83a" stroke-width="1.12" opacity="0.55" stroke-linecap="round" stroke-dasharray="6 1.2 3 1"/>
<path d="M72.20,54.50 L95.80,47.90 L116.00,53.00" fill="none" stroke="#48c83a" stroke-width="2.84" opacity="0.142" stroke-linecap="round"/>
<path d="M72.20,54.50 L95.80,47.90 L116.00,53.00" fill="none" stroke="#48c83a" stroke-width="1.44" opacity="0.87" stroke-linecap="round" stroke-dasharray="6 1.2 3 1"/>
<path d="M13.30,69.30 L23.60,71.50 L44.00,63.20" fill="none" stroke="#48c83a" stroke-width="2.92" opacity="0.142" stroke-linecap="round"/>
<path d="M13.30,69.30 L23.60,71.50 L44.00,63.20" fill="none" stroke="#48c83a" stroke-width="1.52" opacity="0.87" stroke-linecap="round" stroke-dasharray="6 1.2 3 1"/>
<path d="M44.00,63.20 L72.20,54.50" fill="none" stroke="#48c83a" stroke-width="1.44" opacity="0.4" stroke-linecap="round"/>
<ellipse cx="49.4" cy="94.3" rx="7.5" ry="2.8" transform="rotate(-65 49.4 94.3)" fill="#48c83a" opacity="0.7"/>
</g></g>
<line x1="467.30" y1="538.30" x2="463.69" y2="530.00" stroke="#ffffff" stroke-width="2.0"/>
<path d="M460.60,522.90 L468.60,529.01 L463.69,530.00 L459.62,532.92 Z" fill="#ffffff"/>
<line x1="494.50" y1="529.50" x2="490.93" y2="521.12" stroke="#ffffff" stroke-width="2.0"/>
<path d="M487.90,514.00 L495.86,520.18 L490.93,521.12 L486.84,524.02 Z" fill="#ffffff"/>
<g transform="translate(536.20,458.00)">
<clipPath id="tc40"><rect width="115.2" height="115.2"/></clipPath><g clip-path="url(#tc40)">
<rect x="76.8" y="52.7" width="1.3" height="1.3" fill="#2fae2f" opacity="0.19"/>
<rect x="20.9" y="4.3" width="1.3" height="1.3" fill="#2fae2f" opacity="0.42"/>
<rect x="29.7" y="34.8" width="1.3" height="1.3" fill="#2fae2f" opacity="0.30"/>
<rect x="36.7" y="49.6" width="1.3" height="1.3" fill="#2fae2f" opacity="0.37"/>
<rect x="4.5" y="13.7" width="1.3" height="1.3" fill="#2fae2f" opacity="0.43"/>
<rect x="1.6" y="44.6" width="1.3" height="1.3" fill="#2fae2f" opacity="0.36"/>
<rect x="47.5" y="11.8" width="1.3" height="1.3" fill="#2fae2f" opacity="0.38"/>
<rect x="24.5" y="17.5" width="1.3" height="1.3" fill="#2fae2f" opacity="0.16"/>
<rect x="111.3" y="10.2" width="1.3" height="1.3" fill="#2fae2f" opacity="0.20"/>
<rect x="89.2" y="82.2" width="1.3" height="1.3" fill="#2fae2f" opacity="0.41"/>
<rect x="9.7" y="72.4" width="1.3" height="1.3" fill="#2fae2f" opacity="0.31"/>
<rect x="107.4" y="29.3" width="1.3" height="1.3" fill="#2fae2f" opacity="0.40"/>
<rect x="1.3" y="1.7" width="1.3" height="1.3" fill="#2fae2f" opacity="0.38"/>
<rect x="84.0" y="19.1" width="1.3" height="1.3" fill="#2fae2f" opacity="0.32"/>
<rect x="6.9" y="42.3" width="1.3" height="1.3" fill="#2fae2f" opacity="0.35"/>
<rect x="90.6" y="108.9" width="1.3" height="1.3" fill="#2fae2f" opacity="0.35"/>
<rect x="33.7" y="7.0" width="1.3" height="1.3" fill="#2fae2f" opacity="0.49"/>
<rect x="69.8" y="112.6" width="1.3" height="1.3" fill="#2fae2f" opacity="0.36"/>
<rect x="35.6" y="49.4" width="1.3" height="1.3" fill="#2fae2f" opacity="0.46"/>
<rect x="0.2" y="30.3" width="1.3" height="1.3" fill="#2fae2f" opacity="0.30"/>
<rect x="67.6" y="94.0" width="1.3" height="1.3" fill="#2fae2f" opacity="0.16"/>
<rect x="96.0" y="93.5" width="1.3" height="1.3" fill="#2fae2f" opacity="0.35"/>
<rect x="31.5" y="98.1" width="1.3" height="1.3" fill="#2fae2f" opacity="0.39"/>
<rect x="23.8" y="29.3" width="1.3" height="1.3" fill="#2fae2f" opacity="0.41"/>
<rect x="66.8" y="103.3" width="1.3" height="1.3" fill="#2fae2f" opacity="0.33"/>
<rect x="22.2" y="20.8" width="1.3" height="1.3" fill="#2fae2f" opacity="0.40"/>
<rect x="59.6" y="17.2" width="1.3" height="1.3" fill="#2fae2f" opacity="0.17"/>
<rect x="68.8" y="39.7" width="1.3" height="1.3" fill="#2fae2f" opacity="0.33"/>
<rect x="2.4" y="3.9" width="1.3" height="1.3" fill="#2fae2f" opacity="0.50"/>
<rect x="109.0" y="88.4" width="1.3" height="1.3" fill="#2fae2f" opacity="0.49"/>
<rect x="29.3" y="4.4" width="1.3" height="1.3" fill="#2fae2f" opacity="0.22"/>
<rect x="20.8" y="9.6" width="1.3" height="1.3" fill="#2fae2f" opacity="0.17"/>
<rect x="68.9" y="45.8" width="1.3" height="1.3" fill="#2fae2f" opacity="0.19"/>
<rect x="4.5" y="29.5" width="1.3" height="1.3" fill="#2fae2f" opacity="0.27"/>
<rect x="104.0" y="104.2" width="1.3" height="1.3" fill="#2fae2f" opacity="0.17"/>
<rect x="34.4" y="68.1" width="1.3" height="1.3" fill="#2fae2f" opacity="0.19"/>
<rect x="37.3" y="29.6" width="1.3" height="1.3" fill="#2fae2f" opacity="0.19"/>
<rect x="55.4" y="19.4" width="1.3" height="1.3" fill="#2fae2f" opacity="0.23"/>
<rect x="106.9" y="25.4" width="1.3" height="1.3" fill="#2fae2f" opacity="0.45"/>
<rect x="11.2" y="107.0" width="1.3" height="1.3" fill="#2fae2f" opacity="0.37"/>
<rect x="52.1" y="39.1" width="1.3" height="1.3" fill="#2fae2f" opacity="0.44"/>
<rect x="25.5" y="6.5" width="1.3" height="1.3" fill="#2fae2f" opacity="0.40"/>
<rect x="63.7" y="16.7" width="1.3" height="1.3" fill="#2fae2f" opacity="0.45"/>
<rect x="30.7" y="47.4" width="1.3" height="1.3" fill="#2fae2f" opacity="0.20"/>
<rect x="104.0" y="13.2" width="1.3" height="1.3" fill="#2fae2f" opacity="0.17"/>
<rect x="55.0" y="33.0" width="1.3" height="1.3" fill="#2fae2f" opacity="0.24"/>
<rect x="23.2" y="42.0" width="1.3" height="1.3" fill="#2fae2f" opacity="0.50"/>
<rect x="83.7" y="33.8" width="1.3" height="1.3" fill="#2fae2f" opacity="0.16"/>
<rect x="21.4" y="50.1" width="1.3" height="1.3" fill="#2fae2f" opacity="0.23"/>
<rect x="65.8" y="15.9" width="1.3" height="1.3" fill="#2fae2f" opacity="0.21"/>
<rect x="9.1" y="10.1" width="1.3" height="1.3" fill="#2fae2f" opacity="0.36"/>
<rect x="57.1" y="31.6" width="1.3" height="1.3" fill="#2fae2f" opacity="0.22"/>
<rect x="70.6" y="81.5" width="1.3" height="1.3" fill="#2fae2f" opacity="0.35"/>
<rect x="23.3" y="7.6" width="1.3" height="1.3" fill="#2fae2f" opacity="0.41"/>
<rect x="93.4" y="38.6" width="1.3" height="1.3" fill="#2fae2f" opacity="0.45"/>
<rect x="56.8" y="1.8" width="1.3" height="1.3" fill="#2fae2f" opacity="0.47"/>
<rect x="18.8" y="42.8" width="1.3" height="1.3" fill="#2fae2f" opacity="0.36"/>
<rect x="59.4" y="13.9" width="1.3" height="1.3" fill="#2fae2f" opacity="0.40"/>
<rect x="38.9" y="13.5" width="1.2" height="1.2" fill="#3cbe3c" opacity="0.21"/>
<rect x="27.4" y="21.4" width="1.2" height="1.2" fill="#3cbe3c" opacity="0.33"/>
<rect x="50.7" y="36.9" width="1.2" height="1.2" fill="#3cbe3c" opacity="0.39"/>
<rect x="16.8" y="30.4" width="1.2" height="1.2" fill="#3cbe3c" opacity="0.27"/>
<rect x="27.8" y="29.6" width="1.2" height="1.2" fill="#3cbe3c" opacity="0.39"/>
<rect x="31.1" y="35.6" width="1.2" height="1.2" fill="#3cbe3c" opacity="0.15"/>
<rect x="29.9" y="46.6" width="1.2" height="1.2" fill="#3cbe3c" opacity="0.13"/>
<rect x="44.0" y="37.9" width="1.2" height="1.2" fill="#3cbe3c" opacity="0.17"/>
<rect x="44.8" y="31.4" width="1.2" height="1.2" fill="#3cbe3c" opacity="0.28"/>
<rect x="13.0" y="28.0" width="1.2" height="1.2" fill="#3cbe3c" opacity="0.15"/>
<rect x="41.9" y="19.5" width="1.2" height="1.2" fill="#3cbe3c" opacity="0.13"/>
<rect x="39.2" y="37.3" width="1.2" height="1.2" fill="#3cbe3c" opacity="0.26"/>
<rect x="29.0" y="34.5" width="1.2" height="1.2" fill="#3cbe3c" opacity="0.23"/>
<rect x="39.6" y="39.1" width="1.2" height="1.2" fill="#3cbe3c" opacity="0.36"/>
<rect x="38.6" y="39.4" width="1.2" height="1.2" fill="#3cbe3c" opacity="0.33"/>
<rect x="40.5" y="44.5" width="1.2" height="1.2" fill="#3cbe3c" opacity="0.38"/>
<rect x="21.2" y="36.0" width="1.2" height="1.2" fill="#3cbe3c" opacity="0.36"/>
<rect x="19.1" y="28.6" width="1.2" height="1.2" fill="#3cbe3c" opacity="0.38"/>
<rect x="31.7" y="21.9" width="1.2" height="1.2" fill="#3cbe3c" opacity="0.19"/>
<rect x="24.0" y="38.3" width="1.2" height="1.2" fill="#3cbe3c" opacity="0.39"/>
<rect x="38.1" y="11.3" width="1.2" height="1.2" fill="#3cbe3c" opacity="0.35"/>
<rect x="32.1" y="27.6" width="1.2" height="1.2" fill="#3cbe3c" opacity="0.26"/>
<rect x="54.8" y="24.5" width="1.2" height="1.2" fill="#3cbe3c" opacity="0.19"/>
<rect x="16.3" y="36.0" width="1.2" height="1.2" fill="#3cbe3c" opacity="0.22"/>
<rect x="25.9" y="29.3" width="1.2" height="1.2" fill="#3cbe3c" opacity="0.24"/>
<rect x="27.7" y="29.9" width="1.2" height="1.2" fill="#3cbe3c" opacity="0.16"/>
<rect x="48.7" y="27.1" width="1.2" height="1.2" fill="#3cbe3c" opacity="0.38"/>
<rect x="16.6" y="17.8" width="1.2" height="1.2" fill="#3cbe3c" opacity="0.37"/>
<rect x="32.2" y="28.4" width="1.2" height="1.2" fill="#3cbe3c" opacity="0.30"/>
<rect x="28.4" y="43.5" width="1.2" height="1.2" fill="#3cbe3c" opacity="0.20"/>
<rect x="5.9" y="24.6" width="1.2" height="1.2" fill="#3cbe3c" opacity="0.29"/>
<rect x="30.0" y="40.9" width="1.2" height="1.2" fill="#3cbe3c" opacity="0.24"/>
<rect x="38.6" y="27.7" width="1.2" height="1.2" fill="#3cbe3c" opacity="0.21"/>
<rect x="26.7" y="26.4" width="1.2" height="1.2" fill="#3cbe3c" opacity="0.29"/>
<rect x="42.7" y="27.1" width="1.2" height="1.2" fill="#3cbe3c" opacity="0.20"/>
<rect x="16.7" y="32.3" width="1.2" height="1.2" fill="#3cbe3c" opacity="0.16"/>
<rect x="34.2" y="33.4" width="1.2" height="1.2" fill="#3cbe3c" opacity="0.20"/>
<rect x="22.4" y="34.1" width="1.2" height="1.2" fill="#3cbe3c" opacity="0.19"/>
<rect x="41.8" y="35.9" width="1.2" height="1.2" fill="#3cbe3c" opacity="0.36"/>
<rect x="19.0" y="22.5" width="1.2" height="1.2" fill="#3cbe3c" opacity="0.30"/>
<rect x="35.2" y="43.5" width="1.2" height="1.2" fill="#3cbe3c" opacity="0.25"/>
<rect x="15.5" y="26.3" width="1.2" height="1.2" fill="#3cbe3c" opacity="0.25"/>
<rect x="27.0" y="36.2" width="1.2" height="1.2" fill="#3cbe3c" opacity="0.18"/>
<rect x="19.2" y="29.3" width="1.2" height="1.2" fill="#3cbe3c" opacity="0.28"/>
<rect x="40.2" y="30.6" width="1.2" height="1.2" fill="#3cbe3c" opacity="0.36"/>
<rect x="31.0" y="41.4" width="1.2" height="1.2" fill="#3cbe3c" opacity="0.26"/>
<rect x="22.9" y="56.0" width="1.2" height="1.2" fill="#3cbe3c" opacity="0.20"/>
<rect x="30.9" y="24.8" width="1.2" height="1.2" fill="#3cbe3c" opacity="0.14"/>
<rect x="38.2" y="23.0" width="1.2" height="1.2" fill="#3cbe3c" opacity="0.14"/>
<rect x="21.0" y="36.3" width="1.2" height="1.2" fill="#3cbe3c" opacity="0.33"/>
<rect x="36.1" y="34.1" width="1.2" height="1.2" fill="#3cbe3c" opacity="0.39"/>
<rect x="29.5" y="24.8" width="1.2" height="1.2" fill="#3cbe3c" opacity="0.21"/>
<rect x="20.1" y="40.8" width="1.2" height="1.2" fill="#3cbe3c" opacity="0.29"/>
<rect x="42.0" y="16.5" width="1.2" height="1.2" fill="#3cbe3c" opacity="0.26"/>
<rect x="28.7" y="15.2" width="1.2" height="1.2" fill="#3cbe3c" opacity="0.33"/>
<path d="M0.00,44.00 L18.00,29.00 L37.00,15.00" fill="none" stroke="#48c83a" stroke-width="2.44" opacity="0.090" stroke-linecap="round"/>
<path d="M0.00,44.00 L18.00,29.00 L37.00,15.00" fill="none" stroke="#48c83a" stroke-width="1.04" opacity="0.55" stroke-linecap="round" stroke-dasharray="6 1.2 3 1"/>
<path d="M0.00,54.50 L13.30,68.50 L0.00,83.30" fill="none" stroke="#48c83a" stroke-width="2.92" opacity="0.142" stroke-linecap="round"/>
<path d="M0.00,54.50 L13.30,68.50 L0.00,83.30" fill="none" stroke="#48c83a" stroke-width="1.52" opacity="0.87" stroke-linecap="round" stroke-dasharray="6 1.2 3 1"/>
<path d="M24.30,72.20 L33.00,86.00 L40.50,98.80 L44.20,116.00" fill="none" stroke="#48c83a" stroke-width="3.32" opacity="0.142" stroke-linecap="round"/>
<path d="M24.30,72.20 L33.00,86.00 L40.50,98.80 L44.20,116.00" fill="none" stroke="#48c83a" stroke-width="1.92" opacity="0.87" stroke-linecap="round" stroke-dasharray="6 1.2 3 1"/>
<path d="M79.60,21.40 L93.60,29.50 L95.80,47.90 L91.40,82.50 L84.80,94.30 L81.00,104.00" fill="none" stroke="#48c83a" stroke-width="2.84" opacity="0.142" stroke-linecap="round"/>
<path d="M79.60,21.40 L93.60,29.50 L95.80,47.90 L91.40,82.50 L84.80,94.30 L81.00,104.00" fill="none" stroke="#48c83a" stroke-width="1.44" opacity="0.87" stroke-linecap="round" stroke-dasharray="6 1.2 3 1"/>
<path d="M14.70,113.50 L38.30,106.10" fill="none" stroke="#48c83a" stroke-width="3.00" opacity="0.128" stroke-linecap="round"/>
<path d="M14.70,113.50 L38.30,106.10" fill="none" stroke="#48c83a" stroke-width="1.60" opacity="0.78" stroke-linecap="round" stroke-dasharray="6 1.2 3 1"/>
<path d="M56.00,98.80 L72.20,103.20 L78.10,116.00" fill="none" stroke="#48c83a" stroke-width="3.16" opacity="0.135" stroke-linecap="round"/>
<path d="M56.00,98.80 L72.20,103.20 L78.10,116.00" fill="none" stroke="#48c83a" stroke-width="1.76" opacity="0.83" stroke-linecap="round" stroke-dasharray="6 1.2 3 1"/>
<path d="M103.20,13.30 L110.60,4.40" fill="none" stroke="#48c83a" stroke-width="2.52" opacity="0.090" stroke-linecap="round"/>
<path d="M103.20,13.30 L110.60,4.40" fill="none" stroke="#48c83a" stroke-width="1.12" opacity="0.55" stroke-linecap="round" stroke-dasharray="6 1.2 3 1"/>
<path d="M72.20,54.50 L95.80,47.90 L116.00,53.00" fill="none" stroke="#48c83a" stroke-width="2.84" opacity="0.142" stroke-linecap="round"/>
<path d="M72.20,54.50 L95.80,47.90 L116.00,53.00" fill="none" stroke="#48c83a" stroke-width="1.44" opacity="0.87" stroke-linecap="round" stroke-dasharray="6 1.2 3 1"/>
<path d="M13.30,69.30 L23.60,71.50 L44.00,63.20" fill="none" stroke="#48c83a" stroke-width="2.92" opacity="0.142" stroke-linecap="round"/>
<path d="M13.30,69.30 L23.60,71.50 L44.00,63.20" fill="none" stroke="#48c83a" stroke-width="1.52" opacity="0.87" stroke-linecap="round" stroke-dasharray="6 1.2 3 1"/>
<path d="M44.00,63.20 L72.20,54.50" fill="none" stroke="#48c83a" stroke-width="1.44" opacity="0.4" stroke-linecap="round"/>
<ellipse cx="49.4" cy="94.3" rx="7.5" ry="2.8" transform="rotate(-65 49.4 94.3)" fill="#48c83a" opacity="0.7"/>
</g></g>
<line x1="587.10" y1="538.30" x2="583.49" y2="530.00" stroke="#ffffff" stroke-width="2.0"/>
<path d="M580.40,522.90 L588.40,529.01 L583.49,530.00 L579.42,532.92 Z" fill="#ffffff"/>
<line x1="614.30" y1="529.50" x2="610.73" y2="521.12" stroke="#ffffff" stroke-width="2.0"/>
<path d="M607.70,514.00 L615.66,520.18 L610.73,521.12 L606.64,524.02 Z" fill="#ffffff"/>
<g transform="translate(656.00,458.00)">
<clipPath id="tc50"><rect width="115.2" height="115.2"/></clipPath><g clip-path="url(#tc50)">
<rect x="54.7" y="90.4" width="1.3" height="1.3" fill="#2fae2f" opacity="0.47"/>
<rect x="64.0" y="44.3" width="1.3" height="1.3" fill="#2fae2f" opacity="0.26"/>
<rect x="51.2" y="21.2" width="1.3" height="1.3" fill="#2fae2f" opacity="0.26"/>
<rect x="97.2" y="96.6" width="1.3" height="1.3" fill="#2fae2f" opacity="0.22"/>
<rect x="68.5" y="40.4" width="1.3" height="1.3" fill="#2fae2f" opacity="0.48"/>
<rect x="43.1" y="46.2" width="1.3" height="1.3" fill="#2fae2f" opacity="0.35"/>
<rect x="66.1" y="101.4" width="1.3" height="1.3" fill="#2fae2f" opacity="0.32"/>
<rect x="50.7" y="72.0" width="1.3" height="1.3" fill="#2fae2f" opacity="0.27"/>
<rect x="36.6" y="112.7" width="1.3" height="1.3" fill="#2fae2f" opacity="0.33"/>
<rect x="94.5" y="114.1" width="1.3" height="1.3" fill="#2fae2f" opacity="0.30"/>
<rect x="18.0" y="33.4" width="1.3" height="1.3" fill="#2fae2f" opacity="0.33"/>
<rect x="58.2" y="21.7" width="1.3" height="1.3" fill="#2fae2f" opacity="0.21"/>
<rect x="14.0" y="18.1" width="1.3" height="1.3" fill="#2fae2f" opacity="0.42"/>
<rect x="12.3" y="11.5" width="1.3" height="1.3" fill="#2fae2f" opacity="0.21"/>
<rect x="88.8" y="37.2" width="1.3" height="1.3" fill="#2fae2f" opacity="0.27"/>
<rect x="19.5" y="30.7" width="1.3" height="1.3" fill="#2fae2f" opacity="0.18"/>
<rect x="51.8" y="44.4" width="1.3" height="1.3" fill="#2fae2f" opacity="0.17"/>
<rect x="102.6" y="67.1" width="1.3" height="1.3" fill="#2fae2f" opacity="0.30"/>
<rect x="100.8" y="55.8" width="1.3" height="1.3" fill="#2fae2f" opacity="0.24"/>
<rect x="20.0" y="41.3" width="1.3" height="1.3" fill="#2fae2f" opacity="0.22"/>
<rect x="46.4" y="7.5" width="1.3" height="1.3" fill="#2fae2f" opacity="0.19"/>
<rect x="22.0" y="32.7" width="1.3" height="1.3" fill="#2fae2f" opacity="0.23"/>
<rect x="51.1" y="96.3" width="1.3" height="1.3" fill="#2fae2f" opacity="0.21"/>
<rect x="110.4" y="24.0" width="1.3" height="1.3" fill="#2fae2f" opacity="0.33"/>
<rect x="81.4" y="30.0" width="1.3" height="1.3" fill="#2fae2f" opacity="0.36"/>
<rect x="42.4" y="28.4" width="1.3" height="1.3" fill="#2fae2f" opacity="0.36"/>
<rect x="65.4" y="35.8" width="1.3" height="1.3" fill="#2fae2f" opacity="0.29"/>
<rect x="9.9" y="20.4" width="1.3" height="1.3" fill="#2fae2f" opacity="0.45"/>
<rect x="64.7" y="41.6" width="1.3" height="1.3" fill="#2fae2f" opacity="0.33"/>
<rect x="34.2" y="7.6" width="1.3" height="1.3" fill="#2fae2f" opacity="0.26"/>
<rect x="26.1" y="14.5" width="1.3" height="1.3" fill="#2fae2f" opacity="0.40"/>
<rect x="32.5" y="46.5" width="1.3" height="1.3" fill="#2fae2f" opacity="0.47"/>
<rect x="89.3" y="101.7" width="1.3" height="1.3" fill="#2fae2f" opacity="0.20"/>
<rect x="31.9" y="3.4" width="1.3" height="1.3" fill="#2fae2f" opacity="0.39"/>
<rect x="20.9" y="13.3" width="1.3" height="1.3" fill="#2fae2f" opacity="0.47"/>
<rect x="4.6" y="18.7" width="1.3" height="1.3" fill="#2fae2f" opacity="0.22"/>
<rect x="34.9" y="43.9" width="1.3" height="1.3" fill="#2fae2f" opacity="0.16"/>
<rect x="96.7" y="65.7" width="1.3" height="1.3" fill="#2fae2f" opacity="0.24"/>
<rect x="0.1" y="96.1" width="1.3" height="1.3" fill="#2fae2f" opacity="0.25"/>
<rect x="5.5" y="28.2" width="1.3" height="1.3" fill="#2fae2f" opacity="0.19"/>
<rect x="91.2" y="24.2" width="1.3" height="1.3" fill="#2fae2f" opacity="0.41"/>
<rect x="107.2" y="79.7" width="1.3" height="1.3" fill="#2fae2f" opacity="0.44"/>
<rect x="106.9" y="14.7" width="1.3" height="1.3" fill="#2fae2f" opacity="0.17"/>
<rect x="62.7" y="28.8" width="1.3" height="1.3" fill="#2fae2f" opacity="0.17"/>
<rect x="41.2" y="47.4" width="1.3" height="1.3" fill="#2fae2f" opacity="0.22"/>
<rect x="35.8" y="15.7" width="1.3" height="1.3" fill="#2fae2f" opacity="0.40"/>
<rect x="59.4" y="51.3" width="1.3" height="1.3" fill="#2fae2f" opacity="0.27"/>
<rect x="64.9" y="38.4" width="1.3" height="1.3" fill="#2fae2f" opacity="0.44"/>
<rect x="12.3" y="25.5" width="1.2" height="1.2" fill="#3cbe3c" opacity="0.17"/>
<rect x="22.6" y="19.5" width="1.2" height="1.2" fill="#3cbe3c" opacity="0.25"/>
<rect x="32.1" y="13.1" width="1.2" height="1.2" fill="#3cbe3c" opacity="0.15"/>
<rect x="27.5" y="38.3" width="1.2" height="1.2" fill="#3cbe3c" opacity="0.18"/>
<rect x="38.3" y="32.7" width="1.2" height="1.2" fill="#3cbe3c" opacity="0.18"/>
<rect x="26.4" y="20.6" width="1.2" height="1.2" fill="#3cbe3c" opacity="0.15"/>
<rect x="24.4" y="39.0" width="1.2" height="1.2" fill="#3cbe3c" opacity="0.22"/>
<rect x="32.1" y="33.0" width="1.2" height="1.2" fill="#3cbe3c" opacity="0.12"/>
<rect x="48.3" y="29.3" width="1.2" height="1.2" fill="#3cbe3c" opacity="0.14"/>
<rect x="23.7" y="5.3" width="1.2" height="1.2" fill="#3cbe3c" opacity="0.28"/>
<rect x="39.9" y="36.6" width="1.2" height="1.2" fill="#3cbe3c" opacity="0.24"/>
<rect x="35.1" y="40.5" width="1.2" height="1.2" fill="#3cbe3c" opacity="0.12"/>
<rect x="43.8" y="23.7" width="1.2" height="1.2" fill="#3cbe3c" opacity="0.30"/>
<rect x="44.7" y="24.8" width="1.2" height="1.2" fill="#3cbe3c" opacity="0.19"/>
<rect x="30.2" y="34.9" width="1.2" height="1.2" fill="#3cbe3c" opacity="0.13"/>
<rect x="33.2" y="13.0" width="1.2" height="1.2" fill="#3cbe3c" opacity="0.20"/>
<rect x="36.2" y="41.8" width="1.2" height="1.2" fill="#3cbe3c" opacity="0.36"/>
<rect x="36.0" y="27.6" width="1.2" height="1.2" fill="#3cbe3c" opacity="0.34"/>
<rect x="38.8" y="17.0" width="1.2" height="1.2" fill="#3cbe3c" opacity="0.21"/>
<rect x="38.2" y="45.4" width="1.2" height="1.2" fill="#3cbe3c" opacity="0.21"/>
<rect x="20.6" y="38.4" width="1.2" height="1.2" fill="#3cbe3c" opacity="0.22"/>
<rect x="34.0" y="24.2" width="1.2" height="1.2" fill="#3cbe3c" opacity="0.13"/>
<rect x="15.9" y="24.8" width="1.2" height="1.2" fill="#3cbe3c" opacity="0.35"/>
<rect x="23.4" y="11.2" width="1.2" height="1.2" fill="#3cbe3c" opacity="0.38"/>
<rect x="17.1" y="30.4" width="1.2" height="1.2" fill="#3cbe3c" opacity="0.16"/>
<rect x="25.6" y="41.3" width="1.2" height="1.2" fill="#3cbe3c" opacity="0.14"/>
<rect x="27.5" y="25.0" width="1.2" height="1.2" fill="#3cbe3c" opacity="0.24"/>
<rect x="34.7" y="29.3" width="1.2" height="1.2" fill="#3cbe3c" opacity="0.13"/>
<rect x="23.4" y="32.2" width="1.2" height="1.2" fill="#3cbe3c" opacity="0.32"/>
<rect x="51.1" y="30.3" width="1.2" height="1.2" fill="#3cbe3c" opacity="0.36"/>
<rect x="32.7" y="20.8" width="1.2" height="1.2" fill="#3cbe3c" opacity="0.20"/>
<rect x="23.0" y="20.8" width="1.2" height="1.2" fill="#3cbe3c" opacity="0.24"/>
<rect x="23.7" y="38.2" width="1.2" height="1.2" fill="#3cbe3c" opacity="0.31"/>
<rect x="41.0" y="12.7" width="1.2" height="1.2" fill="#3cbe3c" opacity="0.17"/>
<rect x="26.6" y="39.3" width="1.2" height="1.2" fill="#3cbe3c" opacity="0.28"/>
<rect x="25.8" y="34.8" width="1.2" height="1.2" fill="#3cbe3c" opacity="0.14"/>
<rect x="24.5" y="38.9" width="1.2" height="1.2" fill="#3cbe3c" opacity="0.39"/>
<rect x="48.5" y="20.2" width="1.2" height="1.2" fill="#3cbe3c" opacity="0.39"/>
<rect x="44.9" y="27.0" width="1.2" height="1.2" fill="#3cbe3c" opacity="0.35"/>
<rect x="45.4" y="35.0" width="1.2" height="1.2" fill="#3cbe3c" opacity="0.29"/>
<rect x="25.8" y="41.2" width="1.2" height="1.2" fill="#3cbe3c" opacity="0.39"/>
<rect x="14.2" y="31.6" width="1.2" height="1.2" fill="#3cbe3c" opacity="0.20"/>
<rect x="17.3" y="45.6" width="1.2" height="1.2" fill="#3cbe3c" opacity="0.13"/>
<rect x="36.2" y="42.6" width="1.2" height="1.2" fill="#3cbe3c" opacity="0.25"/>
<rect x="43.9" y="36.7" width="1.2" height="1.2" fill="#3cbe3c" opacity="0.22"/>
<rect x="20.0" y="25.5" width="1.2" height="1.2" fill="#3cbe3c" opacity="0.27"/>
<rect x="19.9" y="26.4" width="1.2" height="1.2" fill="#3cbe3c" opacity="0.15"/>
<rect x="39.8" y="47.1" width="1.2" height="1.2" fill="#3cbe3c" opacity="0.27"/>
<rect x="46.7" y="41.6" width="1.2" height="1.2" fill="#3cbe3c" opacity="0.19"/>
<rect x="41.2" y="36.2" width="1.2" height="1.2" fill="#3cbe3c" opacity="0.19"/>
<rect x="16.1" y="30.8" width="1.2" height="1.2" fill="#3cbe3c" opacity="0.18"/>
<rect x="25.2" y="28.1" width="1.2" height="1.2" fill="#3cbe3c" opacity="0.26"/>
<rect x="26.2" y="28.1" width="1.2" height="1.2" fill="#3cbe3c" opacity="0.23"/>
<rect x="40.6" y="34.3" width="1.2" height="1.2" fill="#3cbe3c" opacity="0.36"/>
<rect x="13.5" y="25.5" width="1.2" height="1.2" fill="#3cbe3c" opacity="0.33"/>
<path d="M0.00,44.00 L18.00,29.00 L37.00,15.00" fill="none" stroke="#48c83a" stroke-width="2.44" opacity="0.090" stroke-linecap="round"/>
<path d="M0.00,44.00 L18.00,29.00 L37.00,15.00" fill="none" stroke="#48c83a" stroke-width="1.04" opacity="0.55" stroke-linecap="round" stroke-dasharray="6 1.2 3 1"/>
<path d="M0.00,54.50 L13.30,68.50 L0.00,83.30" fill="none" stroke="#48c83a" stroke-width="2.92" opacity="0.142" stroke-linecap="round"/>
<path d="M0.00,54.50 L13.30,68.50 L0.00,83.30" fill="none" stroke="#48c83a" stroke-width="1.52" opacity="0.87" stroke-linecap="round" stroke-dasharray="6 1.2 3 1"/>
<path d="M24.30,72.20 L33.00,86.00 L40.50,98.80 L44.20,116.00" fill="none" stroke="#48c83a" stroke-width="3.32" opacity="0.142" stroke-linecap="round"/>
<path d="M24.30,72.20 L33.00,86.00 L40.50,98.80 L44.20,116.00" fill="none" stroke="#48c83a" stroke-width="1.92" opacity="0.87" stroke-linecap="round" stroke-dasharray="6 1.2 3 1"/>
<path d="M79.60,21.40 L93.60,29.50 L95.80,47.90 L91.40,82.50 L84.80,94.30 L81.00,104.00" fill="none" stroke="#48c83a" stroke-width="2.84" opacity="0.142" stroke-linecap="round"/>
<path d="M79.60,21.40 L93.60,29.50 L95.80,47.90 L91.40,82.50 L84.80,94.30 L81.00,104.00" fill="none" stroke="#48c83a" stroke-width="1.44" opacity="0.87" stroke-linecap="round" stroke-dasharray="6 1.2 3 1"/>
<path d="M14.70,113.50 L38.30,106.10" fill="none" stroke="#48c83a" stroke-width="3.00" opacity="0.128" stroke-linecap="round"/>
<path d="M14.70,113.50 L38.30,106.10" fill="none" stroke="#48c83a" stroke-width="1.60" opacity="0.78" stroke-linecap="round" stroke-dasharray="6 1.2 3 1"/>
<path d="M56.00,98.80 L72.20,103.20 L78.10,116.00" fill="none" stroke="#48c83a" stroke-width="3.16" opacity="0.135" stroke-linecap="round"/>
<path d="M56.00,98.80 L72.20,103.20 L78.10,116.00" fill="none" stroke="#48c83a" stroke-width="1.76" opacity="0.83" stroke-linecap="round" stroke-dasharray="6 1.2 3 1"/>
<path d="M103.20,13.30 L110.60,4.40" fill="none" stroke="#48c83a" stroke-width="2.52" opacity="0.090" stroke-linecap="round"/>
<path d="M103.20,13.30 L110.60,4.40" fill="none" stroke="#48c83a" stroke-width="1.12" opacity="0.55" stroke-linecap="round" stroke-dasharray="6 1.2 3 1"/>
<path d="M72.20,54.50 L95.80,47.90 L116.00,53.00" fill="none" stroke="#48c83a" stroke-width="2.84" opacity="0.142" stroke-linecap="round"/>
<path d="M72.20,54.50 L95.80,47.90 L116.00,53.00" fill="none" stroke="#48c83a" stroke-width="1.44" opacity="0.87" stroke-linecap="round" stroke-dasharray="6 1.2 3 1"/>
<path d="M13.30,69.30 L23.60,71.50 L44.00,63.20" fill="none" stroke="#48c83a" stroke-width="2.92" opacity="0.142" stroke-linecap="round"/>
<path d="M13.30,69.30 L23.60,71.50 L44.00,63.20" fill="none" stroke="#48c83a" stroke-width="1.52" opacity="0.87" stroke-linecap="round" stroke-dasharray="6 1.2 3 1"/>
<path d="M44.00,63.20 L72.20,54.50" fill="none" stroke="#48c83a" stroke-width="1.44" opacity="0.4" stroke-linecap="round"/>
<ellipse cx="49.4" cy="94.3" rx="7.5" ry="2.8" transform="rotate(-65 49.4 94.3)" fill="#48c83a" opacity="0.7"/>
</g></g>
<line x1="706.90" y1="538.30" x2="703.29" y2="530.00" stroke="#ffffff" stroke-width="2.0"/>
<path d="M700.20,522.90 L708.20,529.01 L703.29,530.00 L699.22,532.92 Z" fill="#ffffff"/>
<line x1="734.10" y1="529.50" x2="730.53" y2="521.12" stroke="#ffffff" stroke-width="2.0"/>
<path d="M727.50,514.00 L735.46,520.18 L730.53,521.12 L726.44,524.02 Z" fill="#ffffff"/>
<g transform="translate(176.80,577.90)">
<clipPath id="tc11"><rect width="115.2" height="115.2"/></clipPath><g clip-path="url(#tc11)">
<rect x="13.2" y="114.1" width="1.3" height="1.3" fill="#2fae2f" opacity="0.40"/>
<rect x="11.8" y="95.6" width="1.3" height="1.3" fill="#2fae2f" opacity="0.29"/>
<rect x="19.7" y="110.6" width="1.3" height="1.3" fill="#2fae2f" opacity="0.35"/>
<rect x="89.3" y="15.8" width="1.3" height="1.3" fill="#2fae2f" opacity="0.42"/>
<rect x="6.6" y="27.3" width="1.3" height="1.3" fill="#2fae2f" opacity="0.28"/>
<rect x="1.7" y="68.5" width="1.3" height="1.3" fill="#2fae2f" opacity="0.22"/>
<rect x="34.6" y="81.5" width="1.3" height="1.3" fill="#2fae2f" opacity="0.30"/>
<rect x="102.4" y="71.6" width="1.3" height="1.3" fill="#2fae2f" opacity="0.46"/>
<rect x="64.9" y="105.7" width="1.3" height="1.3" fill="#2fae2f" opacity="0.45"/>
<rect x="19.4" y="85.9" width="1.3" height="1.3" fill="#2fae2f" opacity="0.27"/>
<rect x="88.0" y="78.4" width="1.3" height="1.3" fill="#2fae2f" opacity="0.44"/>
<rect x="14.1" y="43.0" width="1.3" height="1.3" fill="#2fae2f" opacity="0.41"/>
<rect x="109.2" y="83.1" width="1.3" height="1.3" fill="#2fae2f" opacity="0.17"/>
<rect x="69.6" y="11.5" width="1.3" height="1.3" fill="#2fae2f" opacity="0.34"/>
<rect x="92.5" y="13.0" width="1.3" height="1.3" fill="#2fae2f" opacity="0.47"/>
<rect x="77.8" y="29.3" width="1.3" height="1.3" fill="#2fae2f" opacity="0.22"/>
<rect x="51.5" y="96.6" width="1.3" height="1.3" fill="#2fae2f" opacity="0.35"/>
<rect x="13.1" y="2.4" width="1.3" height="1.3" fill="#2fae2f" opacity="0.19"/>
<rect x="92.2" y="21.3" width="1.3" height="1.3" fill="#2fae2f" opacity="0.34"/>
<rect x="33.4" y="79.2" width="1.3" height="1.3" fill="#2fae2f" opacity="0.28"/>
<rect x="16.6" y="100.8" width="1.3" height="1.3" fill="#2fae2f" opacity="0.34"/>
<rect x="79.4" y="93.1" width="1.3" height="1.3" fill="#2fae2f" opacity="0.48"/>
<rect x="1.6" y="39.4" width="1.3" height="1.3" fill="#2fae2f" opacity="0.20"/>
<rect x="57.8" y="100.6" width="1.3" height="1.3" fill="#2fae2f" opacity="0.43"/>
<rect x="4.1" y="21.0" width="1.3" height="1.3" fill="#2fae2f" opacity="0.44"/>
<rect x="78.3" y="45.2" width="1.3" height="1.3" fill="#2fae2f" opacity="0.32"/>
<rect x="18.2" y="97.4" width="1.3" height="1.3" fill="#2fae2f" opacity="0.29"/>
<rect x="100.6" y="70.4" width="1.3" height="1.3" fill="#2fae2f" opacity="0.18"/>
<rect x="37.9" y="24.9" width="1.3" height="1.3" fill="#2fae2f" opacity="0.46"/>
<rect x="67.9" y="5.0" width="1.3" height="1.3" fill="#2fae2f" opacity="0.21"/>
<rect x="41.6" y="53.9" width="1.3" height="1.3" fill="#2fae2f" opacity="0.35"/>
<rect x="44.7" y="40.7" width="1.3" height="1.3" fill="#2fae2f" opacity="0.15"/>
<rect x="66.7" y="38.5" width="1.3" height="1.3" fill="#2fae2f" opacity="0.16"/>
<rect x="52.9" y="113.6" width="1.3" height="1.3" fill="#2fae2f" opacity="0.17"/>
<rect x="16.8" y="77.3" width="1.3" height="1.3" fill="#2fae2f" opacity="0.25"/>
<rect x="31.5" y="57.6" width="1.3" height="1.3" fill="#2fae2f" opacity="0.24"/>
<rect x="65.5" y="60.8" width="1.3" height="1.3" fill="#2fae2f" opacity="0.48"/>
<rect x="114.3" y="3.9" width="1.3" height="1.3" fill="#2fae2f" opacity="0.35"/>
<rect x="88.8" y="100.5" width="1.3" height="1.3" fill="#2fae2f" opacity="0.42"/>
<rect x="72.9" y="73.1" width="1.3" height="1.3" fill="#2fae2f" opacity="0.28"/>
<rect x="32.4" y="91.6" width="1.3" height="1.3" fill="#2fae2f" opacity="0.46"/>
<rect x="108.1" y="78.5" width="1.3" height="1.3" fill="#2fae2f" opacity="0.26"/>
<rect x="87.9" y="85.2" width="1.3" height="1.3" fill="#2fae2f" opacity="0.33"/>
<rect x="73.2" y="40.4" width="1.3" height="1.3" fill="#2fae2f" opacity="0.34"/>
<rect x="46.8" y="7.0" width="1.3" height="1.3" fill="#2fae2f" opacity="0.27"/>
<rect x="37.2" y="113.9" width="1.3" height="1.3" fill="#2fae2f" opacity="0.32"/>
<rect x="42.3" y="28.0" width="1.3" height="1.3" fill="#2fae2f" opacity="0.23"/>
<rect x="40.2" y="15.6" width="1.3" height="1.3" fill="#2fae2f" opacity="0.15"/>
<rect x="100.3" y="52.2" width="1.3" height="1.3" fill="#2fae2f" opacity="0.31"/>
<rect x="65.5" y="34.8" width="1.3" height="1.3" fill="#2fae2f" opacity="0.21"/>
<rect x="7.6" y="34.7" width="1.3" height="1.3" fill="#2fae2f" opacity="0.26"/>
<rect x="83.7" y="63.5" width="1.3" height="1.3" fill="#2fae2f" opacity="0.48"/>
<rect x="39.2" y="106.1" width="1.3" height="1.3" fill="#2fae2f" opacity="0.35"/>
<rect x="9.2" y="20.6" width="1.3" height="1.3" fill="#2fae2f" opacity="0.35"/>
<rect x="113.8" y="41.1" width="1.3" height="1.3" fill="#2fae2f" opacity="0.42"/>
<rect x="49.3" y="100.0" width="1.3" height="1.3" fill="#2fae2f" opacity="0.17"/>
<rect x="55.8" y="103.6" width="1.3" height="1.3" fill="#2fae2f" opacity="0.25"/>
<rect x="29.7" y="2.7" width="1.3" height="1.3" fill="#2fae2f" opacity="0.21"/>
<rect x="30.9" y="81.1" width="1.3" height="1.3" fill="#2fae2f" opacity="0.23"/>
<rect x="46.0" y="23.1" width="1.3" height="1.3" fill="#2fae2f" opacity="0.36"/>
<rect x="99.5" y="74.7" width="1.3" height="1.3" fill="#2fae2f" opacity="0.22"/>
<rect x="84.5" y="111.0" width="1.3" height="1.3" fill="#2fae2f" opacity="0.36"/>
<rect x="9.1" y="93.3" width="1.3" height="1.3" fill="#2fae2f" opacity="0.46"/>
<rect x="39.3" y="15.7" width="1.3" height="1.3" fill="#2fae2f" opacity="0.22"/>
<rect x="61.9" y="100.9" width="1.3" height="1.3" fill="#2fae2f" opacity="0.37"/>
<rect x="106.3" y="24.4" width="1.3" height="1.3" fill="#2fae2f" opacity="0.26"/>
<rect x="86.3" y="74.8" width="1.3" height="1.3" fill="#2fae2f" opacity="0.29"/>
<rect x="78.2" y="38.9" width="1.3" height="1.3" fill="#2fae2f" opacity="0.17"/>
<rect x="47.7" y="5.2" width="1.3" height="1.3" fill="#2fae2f" opacity="0.37"/>
<rect x="38.5" y="57.0" width="1.3" height="1.3" fill="#2fae2f" opacity="0.36"/>
<rect x="29.6" y="53.4" width="1.3" height="1.3" fill="#2fae2f" opacity="0.15"/>
<rect x="106.6" y="65.0" width="1.3" height="1.3" fill="#2fae2f" opacity="0.50"/>
<rect x="6.5" y="70.7" width="1.3" height="1.3" fill="#2fae2f" opacity="0.40"/>
<rect x="37.9" y="10.8" width="1.3" height="1.3" fill="#2fae2f" opacity="0.20"/>
<rect x="16.4" y="88.4" width="1.3" height="1.3" fill="#2fae2f" opacity="0.18"/>
<rect x="93.8" y="48.8" width="1.3" height="1.3" fill="#2fae2f" opacity="0.34"/>
<rect x="67.8" y="63.9" width="1.3" height="1.3" fill="#2fae2f" opacity="0.38"/>
<rect x="69.3" y="38.1" width="1.3" height="1.3" fill="#2fae2f" opacity="0.41"/>
<rect x="29.7" y="82.0" width="1.3" height="1.3" fill="#2fae2f" opacity="0.42"/>
<rect x="89.4" y="35.6" width="1.3" height="1.3" fill="#2fae2f" opacity="0.42"/>
<path d="M0.00,81.00 C6.67,82.83 26.67,88.17 40.00,92.00 C53.33,95.83 67.50,101.33 80.00,104.00 C92.50,106.67 109.17,107.33 115.00,108.00" fill="none" stroke="#48c83a" stroke-width="2.36" opacity="0.037" stroke-linecap="round"/>
<path d="M0.00,81.00 C6.67,82.83 26.67,88.17 40.00,92.00 C53.33,95.83 67.50,101.33 80.00,104.00 C92.50,106.67 109.17,107.33 115.00,108.00" fill="none" stroke="#48c83a" stroke-width="0.96" opacity="0.23" stroke-linecap="round" stroke-dasharray="6 1.2 3 1"/>
<path d="M51.60,28.70 C52.50,30.08 55.08,34.27 57.00,37.00 C58.92,39.73 62.08,43.75 63.10,45.10" fill="none" stroke="#48c83a" stroke-width="3.16" opacity="0.150" stroke-linecap="round"/>
<path d="M51.60,28.70 C52.50,30.08 55.08,34.27 57.00,37.00 C58.92,39.73 62.08,43.75 63.10,45.10" fill="none" stroke="#48c83a" stroke-width="1.76" opacity="0.92" stroke-linecap="round" stroke-dasharray="6 1.2 3 1"/>
<path d="M70.30,67.70 C70.75,69.42 72.68,73.80 73.00,78.00 C73.32,82.20 72.33,90.42 72.20,92.90" fill="none" stroke="#48c83a" stroke-width="3.16" opacity="0.150" stroke-linecap="round"/>
<path d="M70.30,67.70 C70.75,69.42 72.68,73.80 73.00,78.00 C73.32,82.20 72.33,90.42 72.20,92.90" fill="none" stroke="#48c83a" stroke-width="1.76" opacity="0.92" stroke-linecap="round" stroke-dasharray="6 1.2 3 1"/>
<path d="M63.10,45.10 C63.75,46.58 65.80,50.23 67.00,54.00 C68.20,57.77 69.75,65.42 70.30,67.70" fill="none" stroke="#48c83a" stroke-width="1.60" opacity="1.0" stroke-linecap="round"/>
</g></g>
<line x1="256.40" y1="617.70" x2="248.35" y2="619.99" stroke="#ffffff" stroke-width="2.0"/>
<path d="M240.90,622.10 L248.03,614.98 L248.35,619.99 L250.70,624.41 Z" fill="#ffffff"/>
<line x1="267.50" y1="648.70" x2="258.24" y2="649.08" stroke="#ffffff" stroke-width="2.0"/>
<path d="M250.50,649.40 L259.09,644.14 L258.24,649.08 L259.49,653.93 Z" fill="#ffffff"/>
<g transform="translate(296.60,577.90)">
<clipPath id="tc21"><rect width="115.2" height="115.2"/></clipPath><g clip-path="url(#tc21)">
<rect x="112.6" y="52.2" width="1.3" height="1.3" fill="#2fae2f" opacity="0.25"/>
<rect x="60.3" y="108.4" width="1.3" height="1.3" fill="#2fae2f" opacity="0.20"/>
<rect x="1.0" y="54.8" width="1.3" height="1.3" fill="#2fae2f" opacity="0.38"/>
<rect x="89.2" y="41.8" width="1.3" height="1.3" fill="#2fae2f" opacity="0.50"/>
<rect x="26.3" y="87.2" width="1.3" height="1.3" fill="#2fae2f" opacity="0.18"/>
<rect x="3.2" y="15.5" width="1.3" height="1.3" fill="#2fae2f" opacity="0.17"/>
<rect x="57.8" y="64.0" width="1.3" height="1.3" fill="#2fae2f" opacity="0.21"/>
<rect x="108.3" y="42.1" width="1.3" height="1.3" fill="#2fae2f" opacity="0.20"/>
<rect x="20.4" y="85.0" width="1.3" height="1.3" fill="#2fae2f" opacity="0.47"/>
<rect x="18.7" y="3.3" width="1.3" height="1.3" fill="#2fae2f" opacity="0.42"/>
<rect x="27.9" y="113.2" width="1.3" height="1.3" fill="#2fae2f" opacity="0.32"/>
<rect x="73.3" y="39.7" width="1.3" height="1.3" fill="#2fae2f" opacity="0.43"/>
<rect x="53.0" y="37.3" width="1.3" height="1.3" fill="#2fae2f" opacity="0.47"/>
<rect x="12.4" y="84.5" width="1.3" height="1.3" fill="#2fae2f" opacity="0.17"/>
<rect x="74.4" y="46.3" width="1.3" height="1.3" fill="#2fae2f" opacity="0.45"/>
<rect x="6.9" y="65.0" width="1.3" height="1.3" fill="#2fae2f" opacity="0.29"/>
<rect x="105.9" y="108.9" width="1.3" height="1.3" fill="#2fae2f" opacity="0.37"/>
<rect x="25.8" y="29.0" width="1.3" height="1.3" fill="#2fae2f" opacity="0.24"/>
<rect x="50.0" y="26.7" width="1.3" height="1.3" fill="#2fae2f" opacity="0.22"/>
<rect x="87.5" y="74.0" width="1.3" height="1.3" fill="#2fae2f" opacity="0.25"/>
<rect x="114.5" y="25.0" width="1.3" height="1.3" fill="#2fae2f" opacity="0.35"/>
<rect x="18.1" y="99.4" width="1.3" height="1.3" fill="#2fae2f" opacity="0.45"/>
<rect x="30.8" y="86.6" width="1.3" height="1.3" fill="#2fae2f" opacity="0.44"/>
<rect x="32.6" y="38.2" width="1.3" height="1.3" fill="#2fae2f" opacity="0.32"/>
<rect x="102.6" y="18.6" width="1.3" height="1.3" fill="#2fae2f" opacity="0.39"/>
<rect x="68.8" y="52.2" width="1.3" height="1.3" fill="#2fae2f" opacity="0.35"/>
<rect x="101.7" y="24.2" width="1.3" height="1.3" fill="#2fae2f" opacity="0.46"/>
<rect x="41.5" y="89.8" width="1.3" height="1.3" fill="#2fae2f" opacity="0.45"/>
<rect x="21.0" y="99.5" width="1.3" height="1.3" fill="#2fae2f" opacity="0.50"/>
<rect x="34.3" y="2.8" width="1.3" height="1.3" fill="#2fae2f" opacity="0.19"/>
<rect x="112.2" y="1.1" width="1.3" height="1.3" fill="#2fae2f" opacity="0.47"/>
<rect x="17.4" y="84.8" width="1.3" height="1.3" fill="#2fae2f" opacity="0.18"/>
<rect x="19.4" y="78.7" width="1.3" height="1.3" fill="#2fae2f" opacity="0.18"/>
<rect x="39.1" y="105.8" width="1.3" height="1.3" fill="#2fae2f" opacity="0.40"/>
<rect x="101.6" y="112.9" width="1.3" height="1.3" fill="#2fae2f" opacity="0.16"/>
<rect x="27.0" y="91.3" width="1.3" height="1.3" fill="#2fae2f" opacity="0.39"/>
<rect x="4.4" y="58.2" width="1.3" height="1.3" fill="#2fae2f" opacity="0.23"/>
<rect x="49.6" y="12.1" width="1.3" height="1.3" fill="#2fae2f" opacity="0.16"/>
<rect x="114.1" y="36.5" width="1.3" height="1.3" fill="#2fae2f" opacity="0.46"/>
<rect x="13.9" y="56.1" width="1.3" height="1.3" fill="#2fae2f" opacity="0.20"/>
<rect x="49.4" y="20.6" width="1.3" height="1.3" fill="#2fae2f" opacity="0.39"/>
<rect x="17.0" y="85.0" width="1.3" height="1.3" fill="#2fae2f" opacity="0.33"/>
<rect x="12.9" y="40.7" width="1.3" height="1.3" fill="#2fae2f" opacity="0.32"/>
<rect x="105.8" y="40.3" width="1.3" height="1.3" fill="#2fae2f" opacity="0.23"/>
<rect x="111.5" y="101.7" width="1.3" height="1.3" fill="#2fae2f" opacity="0.41"/>
<rect x="31.4" y="20.4" width="1.3" height="1.3" fill="#2fae2f" opacity="0.24"/>
<rect x="7.9" y="5.0" width="1.3" height="1.3" fill="#2fae2f" opacity="0.33"/>
<rect x="47.0" y="64.1" width="1.3" height="1.3" fill="#2fae2f" opacity="0.28"/>
<rect x="1.2" y="79.3" width="1.3" height="1.3" fill="#2fae2f" opacity="0.38"/>
<rect x="62.7" y="63.2" width="1.3" height="1.3" fill="#2fae2f" opacity="0.39"/>
<rect x="113.2" y="100.7" width="1.3" height="1.3" fill="#2fae2f" opacity="0.40"/>
<rect x="46.0" y="36.7" width="1.3" height="1.3" fill="#2fae2f" opacity="0.30"/>
<rect x="112.1" y="44.6" width="1.3" height="1.3" fill="#2fae2f" opacity="0.28"/>
<rect x="47.2" y="16.5" width="1.3" height="1.3" fill="#2fae2f" opacity="0.50"/>
<rect x="0.6" y="70.0" width="1.3" height="1.3" fill="#2fae2f" opacity="0.47"/>
<rect x="29.3" y="70.4" width="1.3" height="1.3" fill="#2fae2f" opacity="0.28"/>
<rect x="27.7" y="22.9" width="1.3" height="1.3" fill="#2fae2f" opacity="0.19"/>
<rect x="97.1" y="90.3" width="1.3" height="1.3" fill="#2fae2f" opacity="0.47"/>
<rect x="5.7" y="80.0" width="1.3" height="1.3" fill="#2fae2f" opacity="0.26"/>
<rect x="74.4" y="63.2" width="1.3" height="1.3" fill="#2fae2f" opacity="0.26"/>
<rect x="111.9" y="0.1" width="1.3" height="1.3" fill="#2fae2f" opacity="0.41"/>
<rect x="98.3" y="58.8" width="1.3" height="1.3" fill="#2fae2f" opacity="0.36"/>
<rect x="114.6" y="27.0" width="1.3" height="1.3" fill="#2fae2f" opacity="0.37"/>
<rect x="85.6" y="43.6" width="1.3" height="1.3" fill="#2fae2f" opacity="0.40"/>
<rect x="45.3" y="60.6" width="1.3" height="1.3" fill="#2fae2f" opacity="0.36"/>
<rect x="78.0" y="37.1" width="1.3" height="1.3" fill="#2fae2f" opacity="0.37"/>
<rect x="62.6" y="25.7" width="1.3" height="1.3" fill="#2fae2f" opacity="0.36"/>
<rect x="30.5" y="104.7" width="1.3" height="1.3" fill="#2fae2f" opacity="0.32"/>
<rect x="83.1" y="60.1" width="1.3" height="1.3" fill="#2fae2f" opacity="0.32"/>
<rect x="25.5" y="16.4" width="1.3" height="1.3" fill="#2fae2f" opacity="0.47"/>
<rect x="60.9" y="60.4" width="1.3" height="1.3" fill="#2fae2f" opacity="0.33"/>
<rect x="93.7" y="27.5" width="1.3" height="1.3" fill="#2fae2f" opacity="0.21"/>
<rect x="94.7" y="53.0" width="1.3" height="1.3" fill="#2fae2f" opacity="0.37"/>
<rect x="95.3" y="103.0" width="1.3" height="1.3" fill="#2fae2f" opacity="0.45"/>
<rect x="5.0" y="43.9" width="1.3" height="1.3" fill="#2fae2f" opacity="0.44"/>
<rect x="94.2" y="14.2" width="1.3" height="1.3" fill="#2fae2f" opacity="0.20"/>
<rect x="29.0" y="11.8" width="1.3" height="1.3" fill="#2fae2f" opacity="0.27"/>
<rect x="92.5" y="60.1" width="1.3" height="1.3" fill="#2fae2f" opacity="0.31"/>
<rect x="10.1" y="45.6" width="1.3" height="1.3" fill="#2fae2f" opacity="0.50"/>
<rect x="80.1" y="51.8" width="1.3" height="1.3" fill="#2fae2f" opacity="0.32"/>
<path d="M0.00,81.00 C6.67,82.83 26.67,88.17 40.00,92.00 C53.33,95.83 67.50,101.33 80.00,104.00 C92.50,106.67 109.17,107.33 115.00,108.00" fill="none" stroke="#48c83a" stroke-width="2.36" opacity="0.037" stroke-linecap="round"/>
<path d="M0.00,81.00 C6.67,82.83 26.67,88.17 40.00,92.00 C53.33,95.83 67.50,101.33 80.00,104.00 C92.50,106.67 109.17,107.33 115.00,108.00" fill="none" stroke="#48c83a" stroke-width="0.96" opacity="0.23" stroke-linecap="round" stroke-dasharray="6 1.2 3 1"/>
<path d="M51.60,28.70 C52.50,30.08 55.08,34.27 57.00,37.00 C58.92,39.73 62.08,43.75 63.10,45.10" fill="none" stroke="#48c83a" stroke-width="3.16" opacity="0.150" stroke-linecap="round"/>
<path d="M51.60,28.70 C52.50,30.08 55.08,34.27 57.00,37.00 C58.92,39.73 62.08,43.75 63.10,45.10" fill="none" stroke="#48c83a" stroke-width="1.76" opacity="0.92" stroke-linecap="round" stroke-dasharray="6 1.2 3 1"/>
<path d="M70.30,67.70 C70.75,69.42 72.68,73.80 73.00,78.00 C73.32,82.20 72.33,90.42 72.20,92.90" fill="none" stroke="#48c83a" stroke-width="3.16" opacity="0.150" stroke-linecap="round"/>
<path d="M70.30,67.70 C70.75,69.42 72.68,73.80 73.00,78.00 C73.32,82.20 72.33,90.42 72.20,92.90" fill="none" stroke="#48c83a" stroke-width="1.76" opacity="0.92" stroke-linecap="round" stroke-dasharray="6 1.2 3 1"/>
<path d="M63.10,45.10 C63.75,46.58 65.80,50.23 67.00,54.00 C68.20,57.77 69.75,65.42 70.30,67.70" fill="none" stroke="#48c83a" stroke-width="1.60" opacity="0.4" stroke-linecap="round"/>
</g></g>
<line x1="376.20" y1="617.70" x2="368.15" y2="619.99" stroke="#ffffff" stroke-width="2.0"/>
<path d="M360.70,622.10 L367.83,614.98 L368.15,619.99 L370.50,624.41 Z" fill="#ffffff"/>
<line x1="387.30" y1="648.70" x2="378.04" y2="649.08" stroke="#ffffff" stroke-width="2.0"/>
<path d="M370.30,649.40 L378.89,644.14 L378.04,649.08 L379.29,653.93 Z" fill="#ffffff"/>
<g transform="translate(416.40,577.90)">
<clipPath id="tc31"><rect width="115.2" height="115.2"/></clipPath><g clip-path="url(#tc31)">
<rect x="92.0" y="87.4" width="1.3" height="1.3" fill="#2fae2f" opacity="0.20"/>
<rect x="78.4" y="42.3" width="1.3" height="1.3" fill="#2fae2f" opacity="0.33"/>
<rect x="27.4" y="42.7" width="1.3" height="1.3" fill="#2fae2f" opacity="0.27"/>
<rect x="43.9" y="2.0" width="1.3" height="1.3" fill="#2fae2f" opacity="0.22"/>
<rect x="65.7" y="6.7" width="1.3" height="1.3" fill="#2fae2f" opacity="0.21"/>
<rect x="82.7" y="31.6" width="1.3" height="1.3" fill="#2fae2f" opacity="0.26"/>
<rect x="27.9" y="96.1" width="1.3" height="1.3" fill="#2fae2f" opacity="0.18"/>
<rect x="73.3" y="98.9" width="1.3" height="1.3" fill="#2fae2f" opacity="0.22"/>
<rect x="48.7" y="91.3" width="1.3" height="1.3" fill="#2fae2f" opacity="0.37"/>
<rect x="42.8" y="5.1" width="1.3" height="1.3" fill="#2fae2f" opacity="0.30"/>
<rect x="42.3" y="82.1" width="1.3" height="1.3" fill="#2fae2f" opacity="0.25"/>
<rect x="47.0" y="74.7" width="1.3" height="1.3" fill="#2fae2f" opacity="0.43"/>
<rect x="40.6" y="44.4" width="1.3" height="1.3" fill="#2fae2f" opacity="0.35"/>
<rect x="106.5" y="22.1" width="1.3" height="1.3" fill="#2fae2f" opacity="0.49"/>
<rect x="82.0" y="42.9" width="1.3" height="1.3" fill="#2fae2f" opacity="0.38"/>
<rect x="38.0" y="8.2" width="1.3" height="1.3" fill="#2fae2f" opacity="0.41"/>
<rect x="43.7" y="60.6" width="1.3" height="1.3" fill="#2fae2f" opacity="0.32"/>
<rect x="103.8" y="87.2" width="1.3" height="1.3" fill="#2fae2f" opacity="0.16"/>
<rect x="68.3" y="53.3" width="1.3" height="1.3" fill="#2fae2f" opacity="0.31"/>
<rect x="96.7" y="47.8" width="1.3" height="1.3" fill="#2fae2f" opacity="0.32"/>
<rect x="102.6" y="50.7" width="1.3" height="1.3" fill="#2fae2f" opacity="0.32"/>
<rect x="59.0" y="95.0" width="1.3" height="1.3" fill="#2fae2f" opacity="0.38"/>
<rect x="85.3" y="46.3" width="1.3" height="1.3" fill="#2fae2f" opacity="0.16"/>
<rect x="78.3" y="63.8" width="1.3" height="1.3" fill="#2fae2f" opacity="0.42"/>
<rect x="88.7" y="13.6" width="1.3" height="1.3" fill="#2fae2f" opacity="0.23"/>
<rect x="8.9" y="94.2" width="1.3" height="1.3" fill="#2fae2f" opacity="0.19"/>
<rect x="10.2" y="86.8" width="1.3" height="1.3" fill="#2fae2f" opacity="0.35"/>
<rect x="6.3" y="78.4" width="1.3" height="1.3" fill="#2fae2f" opacity="0.40"/>
<rect x="55.6" y="6.3" width="1.3" height="1.3" fill="#2fae2f" opacity="0.39"/>
<rect x="48.1" y="67.3" width="1.3" height="1.3" fill="#2fae2f" opacity="0.50"/>
<rect x="94.1" y="100.4" width="1.3" height="1.3" fill="#2fae2f" opacity="0.20"/>
<rect x="38.5" y="59.7" width="1.3" height="1.3" fill="#2fae2f" opacity="0.15"/>
<rect x="113.9" y="31.6" width="1.3" height="1.3" fill="#2fae2f" opacity="0.24"/>
<rect x="36.1" y="29.4" width="1.3" height="1.3" fill="#2fae2f" opacity="0.45"/>
<rect x="64.0" y="58.9" width="1.3" height="1.3" fill="#2fae2f" opacity="0.30"/>
<rect x="5.9" y="35.1" width="1.3" height="1.3" fill="#2fae2f" opacity="0.45"/>
<rect x="92.4" y="98.7" width="1.3" height="1.3" fill="#2fae2f" opacity="0.24"/>
<rect x="23.3" y="6.0" width="1.3" height="1.3" fill="#2fae2f" opacity="0.34"/>
<rect x="43.1" y="53.5" width="1.3" height="1.3" fill="#2fae2f" opacity="0.32"/>
<rect x="67.3" y="42.1" width="1.3" height="1.3" fill="#2fae2f" opacity="0.43"/>
<rect x="23.1" y="105.9" width="1.3" height="1.3" fill="#2fae2f" opacity="0.34"/>
<rect x="5.9" y="36.2" width="1.3" height="1.3" fill="#2fae2f" opacity="0.34"/>
<rect x="47.1" y="65.1" width="1.3" height="1.3" fill="#2fae2f" opacity="0.26"/>
<rect x="31.5" y="91.7" width="1.3" height="1.3" fill="#2fae2f" opacity="0.25"/>
<rect x="81.9" y="92.4" width="1.3" height="1.3" fill="#2fae2f" opacity="0.36"/>
<rect x="52.4" y="107.7" width="1.3" height="1.3" fill="#2fae2f" opacity="0.31"/>
<rect x="101.2" y="6.6" width="1.3" height="1.3" fill="#2fae2f" opacity="0.30"/>
<rect x="73.6" y="5.6" width="1.3" height="1.3" fill="#2fae2f" opacity="0.45"/>
<rect x="8.3" y="68.7" width="1.3" height="1.3" fill="#2fae2f" opacity="0.21"/>
<rect x="106.3" y="64.6" width="1.3" height="1.3" fill="#2fae2f" opacity="0.43"/>
<rect x="57.4" y="77.6" width="1.3" height="1.3" fill="#2fae2f" opacity="0.39"/>
<rect x="34.0" y="24.3" width="1.3" height="1.3" fill="#2fae2f" opacity="0.44"/>
<rect x="16.8" y="105.7" width="1.3" height="1.3" fill="#2fae2f" opacity="0.22"/>
<rect x="11.6" y="11.0" width="1.3" height="1.3" fill="#2fae2f" opacity="0.42"/>
<rect x="109.5" y="47.8" width="1.3" height="1.3" fill="#2fae2f" opacity="0.38"/>
<rect x="29.7" y="104.4" width="1.3" height="1.3" fill="#2fae2f" opacity="0.39"/>
<rect x="17.8" y="6.5" width="1.3" height="1.3" fill="#2fae2f" opacity="0.39"/>
<rect x="4.8" y="96.3" width="1.3" height="1.3" fill="#2fae2f" opacity="0.25"/>
<rect x="26.8" y="67.1" width="1.3" height="1.3" fill="#2fae2f" opacity="0.26"/>
<rect x="64.6" y="17.7" width="1.3" height="1.3" fill="#2fae2f" opacity="0.47"/>
<rect x="37.4" y="96.9" width="1.3" height="1.3" fill="#2fae2f" opacity="0.20"/>
<rect x="92.1" y="112.9" width="1.3" height="1.3" fill="#2fae2f" opacity="0.29"/>
<rect x="3.8" y="43.8" width="1.3" height="1.3" fill="#2fae2f" opacity="0.37"/>
<rect x="25.7" y="62.9" width="1.3" height="1.3" fill="#2fae2f" opacity="0.18"/>
<rect x="53.5" y="83.9" width="1.3" height="1.3" fill="#2fae2f" opacity="0.30"/>
<rect x="78.2" y="13.2" width="1.3" height="1.3" fill="#2fae2f" opacity="0.44"/>
<rect x="14.1" y="106.4" width="1.3" height="1.3" fill="#2fae2f" opacity="0.50"/>
<rect x="108.2" y="60.6" width="1.3" height="1.3" fill="#2fae2f" opacity="0.25"/>
<rect x="40.1" y="86.4" width="1.3" height="1.3" fill="#2fae2f" opacity="0.32"/>
<rect x="107.1" y="10.7" width="1.3" height="1.3" fill="#2fae2f" opacity="0.32"/>
<rect x="99.5" y="68.9" width="1.3" height="1.3" fill="#2fae2f" opacity="0.34"/>
<rect x="10.2" y="16.1" width="1.3" height="1.3" fill="#2fae2f" opacity="0.24"/>
<rect x="102.9" y="97.4" width="1.3" height="1.3" fill="#2fae2f" opacity="0.23"/>
<rect x="106.5" y="3.7" width="1.3" height="1.3" fill="#2fae2f" opacity="0.36"/>
<rect x="111.4" y="39.7" width="1.3" height="1.3" fill="#2fae2f" opacity="0.48"/>
<rect x="75.6" y="5.8" width="1.3" height="1.3" fill="#2fae2f" opacity="0.27"/>
<rect x="51.8" y="28.5" width="1.3" height="1.3" fill="#2fae2f" opacity="0.41"/>
<rect x="20.6" y="90.7" width="1.3" height="1.3" fill="#2fae2f" opacity="0.25"/>
<rect x="8.0" y="64.4" width="1.3" height="1.3" fill="#2fae2f" opacity="0.18"/>
<rect x="63.5" y="90.8" width="1.3" height="1.3" fill="#2fae2f" opacity="0.36"/>
<path d="M0.00,81.00 C6.67,82.83 26.67,88.17 40.00,92.00 C53.33,95.83 67.50,101.33 80.00,104.00 C92.50,106.67 109.17,107.33 115.00,108.00" fill="none" stroke="#48c83a" stroke-width="2.36" opacity="0.037" stroke-linecap="round"/>
<path d="M0.00,81.00 C6.67,82.83 26.67,88.17 40.00,92.00 C53.33,95.83 67.50,101.33 80.00,104.00 C92.50,106.67 109.17,107.33 115.00,108.00" fill="none" stroke="#48c83a" stroke-width="0.96" opacity="0.23" stroke-linecap="round" stroke-dasharray="6 1.2 3 1"/>
<path d="M51.60,28.70 C52.50,30.08 55.08,34.27 57.00,37.00 C58.92,39.73 62.08,43.75 63.10,45.10" fill="none" stroke="#48c83a" stroke-width="3.16" opacity="0.150" stroke-linecap="round"/>
<path d="M51.60,28.70 C52.50,30.08 55.08,34.27 57.00,37.00 C58.92,39.73 62.08,43.75 63.10,45.10" fill="none" stroke="#48c83a" stroke-width="1.76" opacity="0.92" stroke-linecap="round" stroke-dasharray="6 1.2 3 1"/>
<path d="M70.30,67.70 C70.75,69.42 72.68,73.80 73.00,78.00 C73.32,82.20 72.33,90.42 72.20,92.90" fill="none" stroke="#48c83a" stroke-width="3.16" opacity="0.150" stroke-linecap="round"/>
<path d="M70.30,67.70 C70.75,69.42 72.68,73.80 73.00,78.00 C73.32,82.20 72.33,90.42 72.20,92.90" fill="none" stroke="#48c83a" stroke-width="1.76" opacity="0.92" stroke-linecap="round" stroke-dasharray="6 1.2 3 1"/>
<path d="M63.10,45.10 C63.75,46.58 65.80,50.23 67.00,54.00 C68.20,57.77 69.75,65.42 70.30,67.70" fill="none" stroke="#48c83a" stroke-width="1.60" opacity="0.4" stroke-linecap="round"/>
</g></g>
<line x1="496.00" y1="617.70" x2="487.95" y2="619.99" stroke="#ffffff" stroke-width="2.0"/>
<path d="M480.50,622.10 L487.63,614.98 L487.95,619.99 L490.30,624.41 Z" fill="#ffffff"/>
<line x1="507.10" y1="648.70" x2="497.84" y2="649.08" stroke="#ffffff" stroke-width="2.0"/>
<path d="M490.10,649.40 L498.69,644.14 L497.84,649.08 L499.09,653.93 Z" fill="#ffffff"/>
<g transform="translate(536.20,577.90)">
<clipPath id="tc41"><rect width="115.2" height="115.2"/></clipPath><g clip-path="url(#tc41)">
<rect x="53.2" y="3.9" width="1.3" height="1.3" fill="#2fae2f" opacity="0.33"/>
<rect x="11.2" y="74.5" width="1.3" height="1.3" fill="#2fae2f" opacity="0.20"/>
<rect x="66.6" y="40.7" width="1.3" height="1.3" fill="#2fae2f" opacity="0.28"/>
<rect x="76.4" y="18.9" width="1.3" height="1.3" fill="#2fae2f" opacity="0.21"/>
<rect x="108.5" y="38.2" width="1.3" height="1.3" fill="#2fae2f" opacity="0.44"/>
<rect x="100.6" y="55.3" width="1.3" height="1.3" fill="#2fae2f" opacity="0.20"/>
<rect x="10.8" y="101.3" width="1.3" height="1.3" fill="#2fae2f" opacity="0.19"/>
<rect x="57.2" y="61.7" width="1.3" height="1.3" fill="#2fae2f" opacity="0.19"/>
<rect x="53.9" y="18.9" width="1.3" height="1.3" fill="#2fae2f" opacity="0.34"/>
<rect x="58.4" y="42.3" width="1.3" height="1.3" fill="#2fae2f" opacity="0.22"/>
<rect x="46.5" y="23.4" width="1.3" height="1.3" fill="#2fae2f" opacity="0.19"/>
<rect x="27.6" y="100.4" width="1.3" height="1.3" fill="#2fae2f" opacity="0.33"/>
<rect x="102.6" y="1.7" width="1.3" height="1.3" fill="#2fae2f" opacity="0.48"/>
<rect x="56.3" y="91.1" width="1.3" height="1.3" fill="#2fae2f" opacity="0.35"/>
<rect x="79.4" y="26.4" width="1.3" height="1.3" fill="#2fae2f" opacity="0.41"/>
<rect x="17.7" y="30.4" width="1.3" height="1.3" fill="#2fae2f" opacity="0.16"/>
<rect x="45.3" y="59.7" width="1.3" height="1.3" fill="#2fae2f" opacity="0.25"/>
<rect x="102.6" y="9.7" width="1.3" height="1.3" fill="#2fae2f" opacity="0.35"/>
<rect x="26.9" y="68.6" width="1.3" height="1.3" fill="#2fae2f" opacity="0.42"/>
<rect x="81.9" y="7.2" width="1.3" height="1.3" fill="#2fae2f" opacity="0.24"/>
<rect x="69.0" y="113.2" width="1.3" height="1.3" fill="#2fae2f" opacity="0.16"/>
<rect x="71.2" y="79.7" width="1.3" height="1.3" fill="#2fae2f" opacity="0.44"/>
<rect x="39.4" y="93.4" width="1.3" height="1.3" fill="#2fae2f" opacity="0.31"/>
<rect x="106.1" y="1.2" width="1.3" height="1.3" fill="#2fae2f" opacity="0.48"/>
<rect x="47.5" y="46.9" width="1.3" height="1.3" fill="#2fae2f" opacity="0.18"/>
<rect x="28.2" y="84.5" width="1.3" height="1.3" fill="#2fae2f" opacity="0.39"/>
<rect x="17.4" y="39.7" width="1.3" height="1.3" fill="#2fae2f" opacity="0.20"/>
<rect x="22.8" y="25.3" width="1.3" height="1.3" fill="#2fae2f" opacity="0.27"/>
<rect x="112.4" y="114.9" width="1.3" height="1.3" fill="#2fae2f" opacity="0.43"/>
<rect x="55.3" y="57.3" width="1.3" height="1.3" fill="#2fae2f" opacity="0.42"/>
<rect x="104.6" y="86.6" width="1.3" height="1.3" fill="#2fae2f" opacity="0.37"/>
<rect x="22.9" y="72.0" width="1.3" height="1.3" fill="#2fae2f" opacity="0.45"/>
<rect x="90.6" y="10.6" width="1.3" height="1.3" fill="#2fae2f" opacity="0.40"/>
<rect x="40.2" y="18.7" width="1.3" height="1.3" fill="#2fae2f" opacity="0.49"/>
<rect x="77.5" y="85.9" width="1.3" height="1.3" fill="#2fae2f" opacity="0.20"/>
<rect x="95.4" y="108.0" width="1.3" height="1.3" fill="#2fae2f" opacity="0.47"/>
<rect x="85.8" y="95.9" width="1.3" height="1.3" fill="#2fae2f" opacity="0.43"/>
<rect x="68.0" y="50.1" width="1.3" height="1.3" fill="#2fae2f" opacity="0.44"/>
<rect x="90.4" y="100.3" width="1.3" height="1.3" fill="#2fae2f" opacity="0.25"/>
<rect x="110.7" y="61.2" width="1.3" height="1.3" fill="#2fae2f" opacity="0.48"/>
<rect x="13.3" y="111.6" width="1.3" height="1.3" fill="#2fae2f" opacity="0.43"/>
<rect x="29.0" y="96.6" width="1.3" height="1.3" fill="#2fae2f" opacity="0.23"/>
<rect x="22.8" y="52.8" width="1.3" height="1.3" fill="#2fae2f" opacity="0.23"/>
<rect x="56.7" y="104.6" width="1.3" height="1.3" fill="#2fae2f" opacity="0.39"/>
<rect x="81.8" y="45.2" width="1.3" height="1.3" fill="#2fae2f" opacity="0.42"/>
<rect x="91.4" y="78.7" width="1.3" height="1.3" fill="#2fae2f" opacity="0.48"/>
<rect x="95.1" y="46.8" width="1.3" height="1.3" fill="#2fae2f" opacity="0.18"/>
<rect x="75.2" y="96.3" width="1.3" height="1.3" fill="#2fae2f" opacity="0.27"/>
<rect x="68.5" y="96.3" width="1.3" height="1.3" fill="#2fae2f" opacity="0.43"/>
<rect x="0.5" y="56.3" width="1.3" height="1.3" fill="#2fae2f" opacity="0.16"/>
<rect x="12.7" y="93.6" width="1.3" height="1.3" fill="#2fae2f" opacity="0.30"/>
<rect x="69.7" y="52.7" width="1.3" height="1.3" fill="#2fae2f" opacity="0.27"/>
<rect x="24.6" y="40.7" width="1.3" height="1.3" fill="#2fae2f" opacity="0.45"/>
<rect x="71.3" y="33.7" width="1.3" height="1.3" fill="#2fae2f" opacity="0.18"/>
<rect x="31.2" y="80.8" width="1.3" height="1.3" fill="#2fae2f" opacity="0.30"/>
<rect x="76.1" y="93.0" width="1.3" height="1.3" fill="#2fae2f" opacity="0.19"/>
<rect x="78.7" y="4.8" width="1.3" height="1.3" fill="#2fae2f" opacity="0.44"/>
<rect x="21.2" y="31.3" width="1.3" height="1.3" fill="#2fae2f" opacity="0.49"/>
<rect x="41.7" y="25.8" width="1.3" height="1.3" fill="#2fae2f" opacity="0.46"/>
<rect x="70.3" y="103.0" width="1.3" height="1.3" fill="#2fae2f" opacity="0.29"/>
<rect x="57.6" y="110.1" width="1.3" height="1.3" fill="#2fae2f" opacity="0.33"/>
<rect x="113.9" y="21.8" width="1.3" height="1.3" fill="#2fae2f" opacity="0.44"/>
<rect x="18.7" y="60.7" width="1.3" height="1.3" fill="#2fae2f" opacity="0.15"/>
<rect x="20.2" y="108.9" width="1.3" height="1.3" fill="#2fae2f" opacity="0.31"/>
<rect x="93.2" y="28.9" width="1.3" height="1.3" fill="#2fae2f" opacity="0.27"/>
<rect x="11.6" y="63.7" width="1.3" height="1.3" fill="#2fae2f" opacity="0.45"/>
<rect x="59.2" y="43.4" width="1.3" height="1.3" fill="#2fae2f" opacity="0.48"/>
<rect x="103.0" y="76.8" width="1.3" height="1.3" fill="#2fae2f" opacity="0.18"/>
<rect x="71.9" y="51.2" width="1.3" height="1.3" fill="#2fae2f" opacity="0.49"/>
<rect x="41.7" y="76.2" width="1.3" height="1.3" fill="#2fae2f" opacity="0.37"/>
<rect x="43.3" y="60.2" width="1.3" height="1.3" fill="#2fae2f" opacity="0.39"/>
<rect x="104.5" y="57.4" width="1.3" height="1.3" fill="#2fae2f" opacity="0.28"/>
<rect x="112.5" y="6.6" width="1.3" height="1.3" fill="#2fae2f" opacity="0.44"/>
<rect x="78.7" y="64.2" width="1.3" height="1.3" fill="#2fae2f" opacity="0.31"/>
<rect x="86.5" y="102.7" width="1.3" height="1.3" fill="#2fae2f" opacity="0.41"/>
<rect x="86.4" y="4.0" width="1.3" height="1.3" fill="#2fae2f" opacity="0.26"/>
<rect x="15.8" y="109.8" width="1.3" height="1.3" fill="#2fae2f" opacity="0.46"/>
<rect x="16.6" y="67.7" width="1.3" height="1.3" fill="#2fae2f" opacity="0.35"/>
<rect x="5.4" y="45.2" width="1.3" height="1.3" fill="#2fae2f" opacity="0.41"/>
<rect x="73.9" y="32.4" width="1.3" height="1.3" fill="#2fae2f" opacity="0.42"/>
<path d="M0.00,81.00 C6.67,82.83 26.67,88.17 40.00,92.00 C53.33,95.83 67.50,101.33 80.00,104.00 C92.50,106.67 109.17,107.33 115.00,108.00" fill="none" stroke="#48c83a" stroke-width="2.36" opacity="0.037" stroke-linecap="round"/>
<path d="M0.00,81.00 C6.67,82.83 26.67,88.17 40.00,92.00 C53.33,95.83 67.50,101.33 80.00,104.00 C92.50,106.67 109.17,107.33 115.00,108.00" fill="none" stroke="#48c83a" stroke-width="0.96" opacity="0.23" stroke-linecap="round" stroke-dasharray="6 1.2 3 1"/>
<path d="M51.60,28.70 C52.50,30.08 55.08,34.27 57.00,37.00 C58.92,39.73 62.08,43.75 63.10,45.10" fill="none" stroke="#48c83a" stroke-width="3.16" opacity="0.150" stroke-linecap="round"/>
<path d="M51.60,28.70 C52.50,30.08 55.08,34.27 57.00,37.00 C58.92,39.73 62.08,43.75 63.10,45.10" fill="none" stroke="#48c83a" stroke-width="1.76" opacity="0.92" stroke-linecap="round" stroke-dasharray="6 1.2 3 1"/>
<path d="M70.30,67.70 C70.75,69.42 72.68,73.80 73.00,78.00 C73.32,82.20 72.33,90.42 72.20,92.90" fill="none" stroke="#48c83a" stroke-width="3.16" opacity="0.150" stroke-linecap="round"/>
<path d="M70.30,67.70 C70.75,69.42 72.68,73.80 73.00,78.00 C73.32,82.20 72.33,90.42 72.20,92.90" fill="none" stroke="#48c83a" stroke-width="1.76" opacity="0.92" stroke-linecap="round" stroke-dasharray="6 1.2 3 1"/>
<path d="M63.10,45.10 C63.75,46.58 65.80,50.23 67.00,54.00 C68.20,57.77 69.75,65.42 70.30,67.70" fill="none" stroke="#48c83a" stroke-width="1.60" opacity="0.4" stroke-linecap="round"/>
</g></g>
<line x1="615.80" y1="617.70" x2="607.75" y2="619.99" stroke="#ffffff" stroke-width="2.0"/>
<path d="M600.30,622.10 L607.43,614.98 L607.75,619.99 L610.10,624.41 Z" fill="#ffffff"/>
<line x1="626.90" y1="648.70" x2="617.64" y2="649.08" stroke="#ffffff" stroke-width="2.0"/>
<path d="M609.90,649.40 L618.49,644.14 L617.64,649.08 L618.89,653.93 Z" fill="#ffffff"/>
<g transform="translate(656.00,577.90)">
<clipPath id="tc51"><rect width="115.2" height="115.2"/></clipPath><g clip-path="url(#tc51)">
<rect x="33.5" y="62.7" width="1.3" height="1.3" fill="#2fae2f" opacity="0.30"/>
<rect x="112.7" y="74.7" width="1.3" height="1.3" fill="#2fae2f" opacity="0.43"/>
<rect x="77.9" y="43.8" width="1.3" height="1.3" fill="#2fae2f" opacity="0.49"/>
<rect x="81.8" y="79.6" width="1.3" height="1.3" fill="#2fae2f" opacity="0.25"/>
<rect x="18.6" y="66.3" width="1.3" height="1.3" fill="#2fae2f" opacity="0.44"/>
<rect x="91.4" y="40.0" width="1.3" height="1.3" fill="#2fae2f" opacity="0.20"/>
<rect x="59.4" y="101.1" width="1.3" height="1.3" fill="#2fae2f" opacity="0.21"/>
<rect x="85.1" y="19.7" width="1.3" height="1.3" fill="#2fae2f" opacity="0.26"/>
<rect x="6.2" y="34.3" width="1.3" height="1.3" fill="#2fae2f" opacity="0.28"/>
<rect x="111.4" y="110.8" width="1.3" height="1.3" fill="#2fae2f" opacity="0.22"/>
<rect x="35.6" y="108.7" width="1.3" height="1.3" fill="#2fae2f" opacity="0.22"/>
<rect x="37.0" y="50.5" width="1.3" height="1.3" fill="#2fae2f" opacity="0.19"/>
<rect x="30.0" y="45.4" width="1.3" height="1.3" fill="#2fae2f" opacity="0.28"/>
<rect x="111.0" y="30.7" width="1.3" height="1.3" fill="#2fae2f" opacity="0.22"/>
<rect x="104.7" y="51.9" width="1.3" height="1.3" fill="#2fae2f" opacity="0.44"/>
<rect x="73.4" y="89.7" width="1.3" height="1.3" fill="#2fae2f" opacity="0.26"/>
<rect x="17.5" y="87.2" width="1.3" height="1.3" fill="#2fae2f" opacity="0.31"/>
<rect x="64.4" y="77.3" width="1.3" height="1.3" fill="#2fae2f" opacity="0.41"/>
<rect x="31.7" y="41.8" width="1.3" height="1.3" fill="#2fae2f" opacity="0.47"/>
<rect x="61.0" y="33.2" width="1.3" height="1.3" fill="#2fae2f" opacity="0.37"/>
<rect x="29.9" y="88.9" width="1.3" height="1.3" fill="#2fae2f" opacity="0.16"/>
<rect x="95.2" y="65.3" width="1.3" height="1.3" fill="#2fae2f" opacity="0.27"/>
<rect x="108.3" y="30.6" width="1.3" height="1.3" fill="#2fae2f" opacity="0.24"/>
<rect x="8.0" y="63.2" width="1.3" height="1.3" fill="#2fae2f" opacity="0.41"/>
<rect x="78.1" y="47.5" width="1.3" height="1.3" fill="#2fae2f" opacity="0.43"/>
<rect x="12.8" y="35.4" width="1.3" height="1.3" fill="#2fae2f" opacity="0.38"/>
<rect x="111.4" y="73.0" width="1.3" height="1.3" fill="#2fae2f" opacity="0.39"/>
<rect x="89.2" y="45.4" width="1.3" height="1.3" fill="#2fae2f" opacity="0.48"/>
<rect x="85.5" y="39.4" width="1.3" height="1.3" fill="#2fae2f" opacity="0.29"/>
<rect x="92.8" y="40.3" width="1.3" height="1.3" fill="#2fae2f" opacity="0.22"/>
<rect x="100.4" y="61.3" width="1.3" height="1.3" fill="#2fae2f" opacity="0.33"/>
<rect x="77.1" y="103.9" width="1.3" height="1.3" fill="#2fae2f" opacity="0.20"/>
<rect x="39.0" y="7.6" width="1.3" height="1.3" fill="#2fae2f" opacity="0.29"/>
<rect x="57.8" y="98.1" width="1.3" height="1.3" fill="#2fae2f" opacity="0.38"/>
<rect x="66.6" y="46.5" width="1.3" height="1.3" fill="#2fae2f" opacity="0.35"/>
<rect x="31.5" y="97.3" width="1.3" height="1.3" fill="#2fae2f" opacity="0.43"/>
<rect x="96.6" y="17.4" width="1.3" height="1.3" fill="#2fae2f" opacity="0.39"/>
<rect x="86.9" y="57.7" width="1.3" height="1.3" fill="#2fae2f" opacity="0.46"/>
<rect x="103.5" y="85.6" width="1.3" height="1.3" fill="#2fae2f" opacity="0.44"/>
<rect x="74.7" y="101.2" width="1.3" height="1.3" fill="#2fae2f" opacity="0.20"/>
<rect x="81.1" y="81.1" width="1.3" height="1.3" fill="#2fae2f" opacity="0.36"/>
<rect x="31.7" y="7.8" width="1.3" height="1.3" fill="#2fae2f" opacity="0.36"/>
<rect x="95.0" y="31.5" width="1.3" height="1.3" fill="#2fae2f" opacity="0.22"/>
<rect x="25.8" y="10.8" width="1.3" height="1.3" fill="#2fae2f" opacity="0.39"/>
<rect x="112.3" y="92.4" width="1.3" height="1.3" fill="#2fae2f" opacity="0.28"/>
<rect x="80.6" y="8.3" width="1.3" height="1.3" fill="#2fae2f" opacity="0.44"/>
<rect x="37.5" y="0.4" width="1.3" height="1.3" fill="#2fae2f" opacity="0.37"/>
<rect x="16.0" y="31.7" width="1.3" height="1.3" fill="#2fae2f" opacity="0.17"/>
<rect x="51.3" y="63.9" width="1.3" height="1.3" fill="#2fae2f" opacity="0.43"/>
<rect x="4.6" y="95.3" width="1.3" height="1.3" fill="#2fae2f" opacity="0.19"/>
<rect x="25.9" y="72.5" width="1.3" height="1.3" fill="#2fae2f" opacity="0.27"/>
<rect x="38.1" y="65.5" width="1.3" height="1.3" fill="#2fae2f" opacity="0.23"/>
<rect x="91.4" y="24.1" width="1.3" height="1.3" fill="#2fae2f" opacity="0.44"/>
<rect x="93.2" y="61.9" width="1.3" height="1.3" fill="#2fae2f" opacity="0.16"/>
<rect x="89.6" y="3.3" width="1.3" height="1.3" fill="#2fae2f" opacity="0.33"/>
<rect x="48.8" y="7.3" width="1.3" height="1.3" fill="#2fae2f" opacity="0.37"/>
<rect x="83.5" y="67.4" width="1.3" height="1.3" fill="#2fae2f" opacity="0.29"/>
<rect x="59.0" y="67.8" width="1.3" height="1.3" fill="#2fae2f" opacity="0.23"/>
<rect x="100.0" y="114.7" width="1.3" height="1.3" fill="#2fae2f" opacity="0.43"/>
<rect x="110.7" y="37.9" width="1.3" height="1.3" fill="#2fae2f" opacity="0.50"/>
<rect x="8.2" y="55.1" width="1.3" height="1.3" fill="#2fae2f" opacity="0.20"/>
<rect x="52.3" y="78.6" width="1.3" height="1.3" fill="#2fae2f" opacity="0.40"/>
<rect x="52.4" y="39.4" width="1.3" height="1.3" fill="#2fae2f" opacity="0.22"/>
<rect x="46.4" y="32.6" width="1.3" height="1.3" fill="#2fae2f" opacity="0.22"/>
<rect x="84.8" y="59.5" width="1.3" height="1.3" fill="#2fae2f" opacity="0.30"/>
<rect x="22.8" y="81.1" width="1.3" height="1.3" fill="#2fae2f" opacity="0.22"/>
<rect x="30.6" y="64.5" width="1.3" height="1.3" fill="#2fae2f" opacity="0.40"/>
<rect x="112.1" y="86.1" width="1.3" height="1.3" fill="#2fae2f" opacity="0.48"/>
<rect x="106.0" y="83.2" width="1.3" height="1.3" fill="#2fae2f" opacity="0.40"/>
<rect x="7.2" y="23.7" width="1.3" height="1.3" fill="#2fae2f" opacity="0.15"/>
<rect x="99.5" y="83.2" width="1.3" height="1.3" fill="#2fae2f" opacity="0.37"/>
<rect x="30.4" y="40.9" width="1.3" height="1.3" fill="#2fae2f" opacity="0.21"/>
<rect x="72.8" y="114.2" width="1.3" height="1.3" fill="#2fae2f" opacity="0.26"/>
<rect x="5.1" y="20.2" width="1.3" height="1.3" fill="#2fae2f" opacity="0.27"/>
<rect x="103.6" y="92.7" width="1.3" height="1.3" fill="#2fae2f" opacity="0.31"/>
<rect x="11.8" y="12.3" width="1.3" height="1.3" fill="#2fae2f" opacity="0.20"/>
<rect x="89.6" y="54.3" width="1.3" height="1.3" fill="#2fae2f" opacity="0.50"/>
<rect x="105.0" y="91.6" width="1.3" height="1.3" fill="#2fae2f" opacity="0.32"/>
<rect x="94.7" y="14.8" width="1.3" height="1.3" fill="#2fae2f" opacity="0.19"/>
<rect x="64.9" y="58.5" width="1.3" height="1.3" fill="#2fae2f" opacity="0.22"/>
<path d="M0.00,81.00 C6.67,82.83 26.67,88.17 40.00,92.00 C53.33,95.83 67.50,101.33 80.00,104.00 C92.50,106.67 109.17,107.33 115.00,108.00" fill="none" stroke="#48c83a" stroke-width="2.36" opacity="0.037" stroke-linecap="round"/>
<path d="M0.00,81.00 C6.67,82.83 26.67,88.17 40.00,92.00 C53.33,95.83 67.50,101.33 80.00,104.00 C92.50,106.67 109.17,107.33 115.00,108.00" fill="none" stroke="#48c83a" stroke-width="0.96" opacity="0.23" stroke-linecap="round" stroke-dasharray="6 1.2 3 1"/>
<path d="M51.60,28.70 C52.50,30.08 55.08,34.27 57.00,37.00 C58.92,39.73 62.08,43.75 63.10,45.10" fill="none" stroke="#48c83a" stroke-width="3.16" opacity="0.150" stroke-linecap="round"/>
<path d="M51.60,28.70 C52.50,30.08 55.08,34.27 57.00,37.00 C58.92,39.73 62.08,43.75 63.10,45.10" fill="none" stroke="#48c83a" stroke-width="1.76" opacity="0.92" stroke-linecap="round" stroke-dasharray="6 1.2 3 1"/>
<path d="M70.30,67.70 C70.75,69.42 72.68,73.80 73.00,78.00 C73.32,82.20 72.33,90.42 72.20,92.90" fill="none" stroke="#48c83a" stroke-width="3.16" opacity="0.150" stroke-linecap="round"/>
<path d="M70.30,67.70 C70.75,69.42 72.68,73.80 73.00,78.00 C73.32,82.20 72.33,90.42 72.20,92.90" fill="none" stroke="#48c83a" stroke-width="1.76" opacity="0.92" stroke-linecap="round" stroke-dasharray="6 1.2 3 1"/>
<path d="M63.10,45.10 C63.75,46.58 65.80,50.23 67.00,54.00 C68.20,57.77 69.75,65.42 70.30,67.70" fill="none" stroke="#48c83a" stroke-width="1.60" opacity="0.4" stroke-linecap="round"/>
</g></g>
<line x1="735.60" y1="617.70" x2="727.55" y2="619.99" stroke="#ffffff" stroke-width="2.0"/>
<path d="M720.10,622.10 L727.23,614.98 L727.55,619.99 L729.90,624.41 Z" fill="#ffffff"/>
<line x1="746.70" y1="648.70" x2="737.44" y2="649.08" stroke="#ffffff" stroke-width="2.0"/>
<path d="M729.70,649.40 L738.29,644.14 L737.44,649.08 L738.69,653.93 Z" fill="#ffffff"/>
<g transform="translate(176.80,697.80)">
<clipPath id="tc12"><rect width="115.2" height="115.2"/></clipPath><g clip-path="url(#tc12)">
<rect x="29.0" y="2.4" width="1.3" height="1.3" fill="#2fae2f" opacity="0.47"/>
<rect x="81.8" y="108.9" width="1.3" height="1.3" fill="#2fae2f" opacity="0.49"/>
<rect x="50.3" y="84.4" width="1.3" height="1.3" fill="#2fae2f" opacity="0.28"/>
<rect x="93.5" y="96.9" width="1.3" height="1.3" fill="#2fae2f" opacity="0.20"/>
<rect x="1.5" y="24.7" width="1.3" height="1.3" fill="#2fae2f" opacity="0.35"/>
<rect x="43.7" y="1.1" width="1.3" height="1.3" fill="#2fae2f" opacity="0.44"/>
<rect x="90.6" y="53.4" width="1.3" height="1.3" fill="#2fae2f" opacity="0.17"/>
<rect x="102.4" y="61.5" width="1.3" height="1.3" fill="#2fae2f" opacity="0.17"/>
<rect x="37.3" y="72.0" width="1.3" height="1.3" fill="#2fae2f" opacity="0.46"/>
<rect x="55.8" y="73.7" width="1.3" height="1.3" fill="#2fae2f" opacity="0.22"/>
<rect x="28.0" y="104.3" width="1.3" height="1.3" fill="#2fae2f" opacity="0.28"/>
<rect x="12.0" y="68.1" width="1.3" height="1.3" fill="#2fae2f" opacity="0.19"/>
<rect x="23.0" y="52.6" width="1.3" height="1.3" fill="#2fae2f" opacity="0.35"/>
<rect x="73.3" y="81.4" width="1.3" height="1.3" fill="#2fae2f" opacity="0.30"/>
<rect x="7.8" y="83.5" width="1.3" height="1.3" fill="#2fae2f" opacity="0.17"/>
<rect x="54.2" y="46.1" width="1.3" height="1.3" fill="#2fae2f" opacity="0.39"/>
<rect x="82.2" y="27.6" width="1.3" height="1.3" fill="#2fae2f" opacity="0.38"/>
<rect x="79.7" y="54.3" width="1.3" height="1.3" fill="#2fae2f" opacity="0.20"/>
<rect x="104.7" y="69.0" width="1.3" height="1.3" fill="#2fae2f" opacity="0.17"/>
<rect x="27.5" y="113.7" width="1.3" height="1.3" fill="#2fae2f" opacity="0.23"/>
<rect x="45.2" y="90.8" width="1.3" height="1.3" fill="#2fae2f" opacity="0.44"/>
<rect x="73.0" y="85.4" width="1.3" height="1.3" fill="#2fae2f" opacity="0.16"/>
<rect x="10.8" y="112.5" width="1.3" height="1.3" fill="#2fae2f" opacity="0.43"/>
<rect x="4.4" y="5.6" width="1.3" height="1.3" fill="#2fae2f" opacity="0.23"/>
<rect x="107.2" y="25.3" width="1.3" height="1.3" fill="#2fae2f" opacity="0.39"/>
<rect x="107.2" y="73.6" width="1.3" height="1.3" fill="#2fae2f" opacity="0.47"/>
<rect x="30.3" y="17.7" width="1.3" height="1.3" fill="#2fae2f" opacity="0.16"/>
<rect x="87.2" y="12.0" width="1.3" height="1.3" fill="#2fae2f" opacity="0.49"/>
<rect x="81.8" y="21.5" width="1.3" height="1.3" fill="#2fae2f" opacity="0.43"/>
<rect x="18.8" y="59.0" width="1.3" height="1.3" fill="#2fae2f" opacity="0.19"/>
<rect x="90.7" y="102.5" width="1.3" height="1.3" fill="#2fae2f" opacity="0.47"/>
<rect x="0.3" y="98.1" width="1.3" height="1.3" fill="#2fae2f" opacity="0.34"/>
<rect x="94.6" y="57.9" width="1.3" height="1.3" fill="#2fae2f" opacity="0.37"/>
<rect x="68.5" y="92.1" width="1.3" height="1.3" fill="#2fae2f" opacity="0.18"/>
<rect x="6.2" y="62.8" width="1.3" height="1.3" fill="#2fae2f" opacity="0.25"/>
<rect x="45.7" y="0.9" width="1.3" height="1.3" fill="#2fae2f" opacity="0.41"/>
<rect x="2.8" y="95.6" width="1.3" height="1.3" fill="#2fae2f" opacity="0.43"/>
<rect x="52.8" y="14.1" width="1.3" height="1.3" fill="#2fae2f" opacity="0.38"/>
<rect x="23.9" y="49.4" width="1.3" height="1.3" fill="#2fae2f" opacity="0.19"/>
<rect x="112.5" y="62.9" width="1.3" height="1.3" fill="#2fae2f" opacity="0.27"/>
<rect x="10.8" y="84.1" width="1.3" height="1.3" fill="#2fae2f" opacity="0.45"/>
<rect x="97.7" y="11.7" width="1.3" height="1.3" fill="#2fae2f" opacity="0.28"/>
<rect x="34.9" y="87.8" width="1.3" height="1.3" fill="#2fae2f" opacity="0.20"/>
<rect x="69.9" y="112.7" width="1.3" height="1.3" fill="#2fae2f" opacity="0.42"/>
<rect x="0.8" y="8.6" width="1.3" height="1.3" fill="#2fae2f" opacity="0.19"/>
<rect x="79.8" y="69.0" width="1.3" height="1.3" fill="#2fae2f" opacity="0.33"/>
<rect x="52.5" y="46.9" width="1.3" height="1.3" fill="#2fae2f" opacity="0.36"/>
<rect x="74.7" y="105.6" width="1.3" height="1.3" fill="#2fae2f" opacity="0.41"/>
<rect x="91.8" y="105.2" width="1.3" height="1.3" fill="#2fae2f" opacity="0.44"/>
<rect x="82.6" y="3.5" width="1.3" height="1.3" fill="#2fae2f" opacity="0.39"/>
<rect x="97.9" y="49.6" width="1.3" height="1.3" fill="#2fae2f" opacity="0.46"/>
<rect x="20.7" y="108.6" width="1.3" height="1.3" fill="#2fae2f" opacity="0.30"/>
<rect x="81.4" y="29.1" width="1.3" height="1.3" fill="#2fae2f" opacity="0.26"/>
<rect x="40.1" y="37.4" width="1.3" height="1.3" fill="#2fae2f" opacity="0.18"/>
<rect x="51.0" y="113.0" width="1.3" height="1.3" fill="#2fae2f" opacity="0.38"/>
<rect x="107.4" y="87.8" width="1.3" height="1.3" fill="#2fae2f" opacity="0.44"/>
<rect x="114.5" y="86.7" width="1.3" height="1.3" fill="#2fae2f" opacity="0.25"/>
<rect x="28.8" y="47.5" width="1.3" height="1.3" fill="#2fae2f" opacity="0.16"/>
<rect x="26.6" y="102.1" width="1.3" height="1.3" fill="#2fae2f" opacity="0.47"/>
<rect x="37.9" y="88.8" width="1.3" height="1.3" fill="#2fae2f" opacity="0.42"/>
<rect x="102.5" y="91.5" width="1.3" height="1.3" fill="#2fae2f" opacity="0.34"/>
<rect x="12.1" y="95.1" width="1.3" height="1.3" fill="#2fae2f" opacity="0.26"/>
<rect x="72.2" y="42.3" width="1.3" height="1.3" fill="#2fae2f" opacity="0.34"/>
<rect x="111.2" y="18.6" width="1.3" height="1.3" fill="#2fae2f" opacity="0.34"/>
<rect x="74.9" y="62.0" width="1.3" height="1.3" fill="#2fae2f" opacity="0.48"/>
<rect x="46.9" y="105.3" width="1.3" height="1.3" fill="#2fae2f" opacity="0.39"/>
<rect x="111.4" y="10.3" width="1.3" height="1.3" fill="#2fae2f" opacity="0.22"/>
<rect x="33.1" y="104.4" width="1.3" height="1.3" fill="#2fae2f" opacity="0.15"/>
<rect x="30.0" y="82.5" width="1.3" height="1.3" fill="#2fae2f" opacity="0.50"/>
<rect x="20.3" y="50.5" width="1.3" height="1.3" fill="#2fae2f" opacity="0.39"/>
<rect x="79.6" y="85.9" width="1.3" height="1.3" fill="#2fae2f" opacity="0.41"/>
<rect x="28.6" y="29.6" width="1.3" height="1.3" fill="#2fae2f" opacity="0.16"/>
<rect x="79.6" y="24.1" width="1.3" height="1.3" fill="#2fae2f" opacity="0.24"/>
<rect x="111.1" y="74.1" width="1.3" height="1.3" fill="#2fae2f" opacity="0.36"/>
<rect x="75.6" y="68.9" width="1.3" height="1.3" fill="#2fae2f" opacity="0.39"/>
<rect x="35.0" y="7.4" width="1.3" height="1.3" fill="#2fae2f" opacity="0.17"/>
<rect x="1.7" y="41.6" width="1.3" height="1.3" fill="#2fae2f" opacity="0.20"/>
<rect x="13.0" y="56.9" width="1.3" height="1.3" fill="#2fae2f" opacity="0.49"/>
<rect x="79.2" y="31.5" width="1.3" height="1.3" fill="#2fae2f" opacity="0.42"/>
<rect x="20.5" y="11.5" width="1.3" height="1.3" fill="#2fae2f" opacity="0.26"/>
<path d="M70.00,19.90 C70.37,22.23 71.95,29.85 72.20,33.90 C72.45,37.95 71.62,42.48 71.50,44.20" fill="none" stroke="#48c83a" stroke-width="2.92" opacity="0.150" stroke-linecap="round"/>
<path d="M70.00,19.90 C70.37,22.23 71.95,29.85 72.20,33.90 C72.45,37.95 71.62,42.48 71.50,44.20" fill="none" stroke="#48c83a" stroke-width="1.52" opacity="0.92" stroke-linecap="round" stroke-dasharray="6 1.2 3 1"/>
<path d="M55.30,73.70 C54.68,73.95 54.43,74.22 51.60,75.20 C48.77,76.18 42.23,78.62 38.30,79.60 C34.37,80.58 29.72,80.85 28.00,81.10" fill="none" stroke="#48c83a" stroke-width="3.16" opacity="0.150" stroke-linecap="round"/>
<path d="M55.30,73.70 C54.68,73.95 54.43,74.22 51.60,75.20 C48.77,76.18 42.23,78.62 38.30,79.60 C34.37,80.58 29.72,80.85 28.00,81.10" fill="none" stroke="#48c83a" stroke-width="1.76" opacity="0.92" stroke-linecap="round" stroke-dasharray="6 1.2 3 1"/>
<path d="M28.00,81.10 C26.28,81.58 21.88,82.40 17.70,84.00 C13.52,85.60 5.37,89.58 2.90,90.70" fill="none" stroke="#48c83a" stroke-width="2.68" opacity="0.112" stroke-linecap="round"/>
<path d="M28.00,81.10 C26.28,81.58 21.88,82.40 17.70,84.00 C13.52,85.60 5.37,89.58 2.90,90.70" fill="none" stroke="#48c83a" stroke-width="1.28" opacity="0.69" stroke-linecap="round" stroke-dasharray="6 1.2 3 1"/>
<path d="M33.90,87.70 C36.35,89.55 44.78,95.73 48.60,98.80 C52.42,101.87 55.43,104.88 56.80,106.10" fill="none" stroke="#48c83a" stroke-width="2.60" opacity="0.090" stroke-linecap="round"/>
<path d="M33.90,87.70 C36.35,89.55 44.78,95.73 48.60,98.80 C52.42,101.87 55.43,104.88 56.80,106.10" fill="none" stroke="#48c83a" stroke-width="1.20" opacity="0.55" stroke-linecap="round" stroke-dasharray="6 1.2 3 1"/>
<path d="M71.50,44.20 C71.13,45.43 70.90,47.92 69.30,51.60 C67.70,55.28 64.23,62.62 61.90,66.30 C59.57,69.98 56.40,72.47 55.30,73.70" fill="none" stroke="#48c83a" stroke-width="1.44" opacity="1.0" stroke-linecap="round"/>
</g></g>
<line x1="265.20" y1="744.70" x2="255.95" y2="743.22" stroke="#ffffff" stroke-width="2.0"/>
<path d="M248.30,742.00 L257.76,738.55 L255.95,743.22 L256.22,748.23 Z" fill="#ffffff"/>
<line x1="243.90" y1="782.60" x2="237.74" y2="776.81" stroke="#ffffff" stroke-width="2.0"/>
<path d="M232.10,771.50 L241.87,773.96 L237.74,776.81 L235.15,781.10 Z" fill="#ffffff"/>
<g transform="translate(296.60,697.80)">
<clipPath id="tc22"><rect width="115.2" height="115.2"/></clipPath><g clip-path="url(#tc22)">
<rect x="47.1" y="79.4" width="1.3" height="1.3" fill="#2fae2f" opacity="0.31"/>
<rect x="83.9" y="10.9" width="1.3" height="1.3" fill="#2fae2f" opacity="0.48"/>
<rect x="39.4" y="95.9" width="1.3" height="1.3" fill="#2fae2f" opacity="0.16"/>
<rect x="95.5" y="26.1" width="1.3" height="1.3" fill="#2fae2f" opacity="0.45"/>
<rect x="92.5" y="77.3" width="1.3" height="1.3" fill="#2fae2f" opacity="0.25"/>
<rect x="1.1" y="21.9" width="1.3" height="1.3" fill="#2fae2f" opacity="0.47"/>
<rect x="18.2" y="75.9" width="1.3" height="1.3" fill="#2fae2f" opacity="0.36"/>
<rect x="76.2" y="20.8" width="1.3" height="1.3" fill="#2fae2f" opacity="0.20"/>
<rect x="11.2" y="113.2" width="1.3" height="1.3" fill="#2fae2f" opacity="0.28"/>
<rect x="75.1" y="65.6" width="1.3" height="1.3" fill="#2fae2f" opacity="0.23"/>
<rect x="7.5" y="1.7" width="1.3" height="1.3" fill="#2fae2f" opacity="0.45"/>
<rect x="15.0" y="110.9" width="1.3" height="1.3" fill="#2fae2f" opacity="0.28"/>
<rect x="83.2" y="15.9" width="1.3" height="1.3" fill="#2fae2f" opacity="0.43"/>
<rect x="29.0" y="42.2" width="1.3" height="1.3" fill="#2fae2f" opacity="0.33"/>
<rect x="12.8" y="28.6" width="1.3" height="1.3" fill="#2fae2f" opacity="0.43"/>
<rect x="32.9" y="43.9" width="1.3" height="1.3" fill="#2fae2f" opacity="0.42"/>
<rect x="25.8" y="22.3" width="1.3" height="1.3" fill="#2fae2f" opacity="0.23"/>
<rect x="44.3" y="42.1" width="1.3" height="1.3" fill="#2fae2f" opacity="0.37"/>
<rect x="54.4" y="100.2" width="1.3" height="1.3" fill="#2fae2f" opacity="0.17"/>
<rect x="76.5" y="96.4" width="1.3" height="1.3" fill="#2fae2f" opacity="0.23"/>
<rect x="3.4" y="50.5" width="1.3" height="1.3" fill="#2fae2f" opacity="0.19"/>
<rect x="53.0" y="82.0" width="1.3" height="1.3" fill="#2fae2f" opacity="0.18"/>
<rect x="13.6" y="55.2" width="1.3" height="1.3" fill="#2fae2f" opacity="0.21"/>
<rect x="26.6" y="50.7" width="1.3" height="1.3" fill="#2fae2f" opacity="0.19"/>
<rect x="7.8" y="41.6" width="1.3" height="1.3" fill="#2fae2f" opacity="0.31"/>
<rect x="107.9" y="63.9" width="1.3" height="1.3" fill="#2fae2f" opacity="0.18"/>
<rect x="25.6" y="85.7" width="1.3" height="1.3" fill="#2fae2f" opacity="0.35"/>
<rect x="100.2" y="110.9" width="1.3" height="1.3" fill="#2fae2f" opacity="0.45"/>
<rect x="12.7" y="108.7" width="1.3" height="1.3" fill="#2fae2f" opacity="0.33"/>
<rect x="27.6" y="19.7" width="1.3" height="1.3" fill="#2fae2f" opacity="0.45"/>
<rect x="24.5" y="9.6" width="1.3" height="1.3" fill="#2fae2f" opacity="0.24"/>
<rect x="106.5" y="53.1" width="1.3" height="1.3" fill="#2fae2f" opacity="0.41"/>
<rect x="8.6" y="52.2" width="1.3" height="1.3" fill="#2fae2f" opacity="0.26"/>
<rect x="23.7" y="76.4" width="1.3" height="1.3" fill="#2fae2f" opacity="0.28"/>
<rect x="13.8" y="113.4" width="1.3" height="1.3" fill="#2fae2f" opacity="0.32"/>
<rect x="20.7" y="1.3" width="1.3" height="1.3" fill="#2fae2f" opacity="0.38"/>
<rect x="59.3" y="2.8" width="1.3" height="1.3" fill="#2fae2f" opacity="0.31"/>
<rect x="85.3" y="61.9" width="1.3" height="1.3" fill="#2fae2f" opacity="0.23"/>
<rect x="57.5" y="69.7" width="1.3" height="1.3" fill="#2fae2f" opacity="0.38"/>
<rect x="16.7" y="92.6" width="1.3" height="1.3" fill="#2fae2f" opacity="0.48"/>
<rect x="85.3" y="98.8" width="1.3" height="1.3" fill="#2fae2f" opacity="0.28"/>
<rect x="104.0" y="20.9" width="1.3" height="1.3" fill="#2fae2f" opacity="0.23"/>
<rect x="68.9" y="103.9" width="1.3" height="1.3" fill="#2fae2f" opacity="0.18"/>
<rect x="25.0" y="4.1" width="1.3" height="1.3" fill="#2fae2f" opacity="0.30"/>
<rect x="16.2" y="22.1" width="1.3" height="1.3" fill="#2fae2f" opacity="0.41"/>
<rect x="67.2" y="108.2" width="1.3" height="1.3" fill="#2fae2f" opacity="0.29"/>
<rect x="78.2" y="1.5" width="1.3" height="1.3" fill="#2fae2f" opacity="0.48"/>
<rect x="26.9" y="55.0" width="1.3" height="1.3" fill="#2fae2f" opacity="0.33"/>
<rect x="109.2" y="56.7" width="1.3" height="1.3" fill="#2fae2f" opacity="0.50"/>
<rect x="71.6" y="24.9" width="1.3" height="1.3" fill="#2fae2f" opacity="0.44"/>
<rect x="23.3" y="115.2" width="1.3" height="1.3" fill="#2fae2f" opacity="0.31"/>
<rect x="26.1" y="110.7" width="1.3" height="1.3" fill="#2fae2f" opacity="0.26"/>
<rect x="46.9" y="39.5" width="1.3" height="1.3" fill="#2fae2f" opacity="0.38"/>
<rect x="2.6" y="43.1" width="1.3" height="1.3" fill="#2fae2f" opacity="0.21"/>
<rect x="95.4" y="0.0" width="1.3" height="1.3" fill="#2fae2f" opacity="0.36"/>
<rect x="29.7" y="52.3" width="1.3" height="1.3" fill="#2fae2f" opacity="0.35"/>
<rect x="82.0" y="15.9" width="1.3" height="1.3" fill="#2fae2f" opacity="0.23"/>
<rect x="13.9" y="110.6" width="1.3" height="1.3" fill="#2fae2f" opacity="0.20"/>
<rect x="15.8" y="60.2" width="1.3" height="1.3" fill="#2fae2f" opacity="0.35"/>
<rect x="102.1" y="6.6" width="1.3" height="1.3" fill="#2fae2f" opacity="0.23"/>
<rect x="19.3" y="67.5" width="1.3" height="1.3" fill="#2fae2f" opacity="0.31"/>
<rect x="47.1" y="102.3" width="1.3" height="1.3" fill="#2fae2f" opacity="0.38"/>
<rect x="99.1" y="110.2" width="1.3" height="1.3" fill="#2fae2f" opacity="0.24"/>
<rect x="108.5" y="47.0" width="1.3" height="1.3" fill="#2fae2f" opacity="0.17"/>
<rect x="105.4" y="12.0" width="1.3" height="1.3" fill="#2fae2f" opacity="0.16"/>
<rect x="33.4" y="33.3" width="1.3" height="1.3" fill="#2fae2f" opacity="0.49"/>
<rect x="100.3" y="48.4" width="1.3" height="1.3" fill="#2fae2f" opacity="0.34"/>
<rect x="97.8" y="93.0" width="1.3" height="1.3" fill="#2fae2f" opacity="0.38"/>
<rect x="59.1" y="13.4" width="1.3" height="1.3" fill="#2fae2f" opacity="0.24"/>
<rect x="75.8" y="67.5" width="1.3" height="1.3" fill="#2fae2f" opacity="0.43"/>
<rect x="103.5" y="110.9" width="1.3" height="1.3" fill="#2fae2f" opacity="0.22"/>
<rect x="8.8" y="103.4" width="1.3" height="1.3" fill="#2fae2f" opacity="0.35"/>
<rect x="20.9" y="79.7" width="1.3" height="1.3" fill="#2fae2f" opacity="0.24"/>
<rect x="27.3" y="42.2" width="1.3" height="1.3" fill="#2fae2f" opacity="0.33"/>
<rect x="78.0" y="8.5" width="1.3" height="1.3" fill="#2fae2f" opacity="0.41"/>
<rect x="71.9" y="54.3" width="1.3" height="1.3" fill="#2fae2f" opacity="0.39"/>
<rect x="92.1" y="1.1" width="1.3" height="1.3" fill="#2fae2f" opacity="0.32"/>
<rect x="78.1" y="81.7" width="1.3" height="1.3" fill="#2fae2f" opacity="0.38"/>
<rect x="20.8" y="110.4" width="1.3" height="1.3" fill="#2fae2f" opacity="0.42"/>
<rect x="26.8" y="49.6" width="1.3" height="1.3" fill="#2fae2f" opacity="0.49"/>
<path d="M70.00,19.90 C70.37,22.23 71.95,29.85 72.20,33.90 C72.45,37.95 71.62,42.48 71.50,44.20" fill="none" stroke="#48c83a" stroke-width="2.92" opacity="0.150" stroke-linecap="round"/>
<path d="M70.00,19.90 C70.37,22.23 71.95,29.85 72.20,33.90 C72.45,37.95 71.62,42.48 71.50,44.20" fill="none" stroke="#48c83a" stroke-width="1.52" opacity="0.92" stroke-linecap="round" stroke-dasharray="6 1.2 3 1"/>
<path d="M55.30,73.70 C54.68,73.95 54.43,74.22 51.60,75.20 C48.77,76.18 42.23,78.62 38.30,79.60 C34.37,80.58 29.72,80.85 28.00,81.10" fill="none" stroke="#48c83a" stroke-width="3.16" opacity="0.150" stroke-linecap="round"/>
<path d="M55.30,73.70 C54.68,73.95 54.43,74.22 51.60,75.20 C48.77,76.18 42.23,78.62 38.30,79.60 C34.37,80.58 29.72,80.85 28.00,81.10" fill="none" stroke="#48c83a" stroke-width="1.76" opacity="0.92" stroke-linecap="round" stroke-dasharray="6 1.2 3 1"/>
<path d="M28.00,81.10 C26.28,81.58 21.88,82.40 17.70,84.00 C13.52,85.60 5.37,89.58 2.90,90.70" fill="none" stroke="#48c83a" stroke-width="2.68" opacity="0.112" stroke-linecap="round"/>
<path d="M28.00,81.10 C26.28,81.58 21.88,82.40 17.70,84.00 C13.52,85.60 5.37,89.58 2.90,90.70" fill="none" stroke="#48c83a" stroke-width="1.28" opacity="0.69" stroke-linecap="round" stroke-dasharray="6 1.2 3 1"/>
<path d="M33.90,87.70 C36.35,89.55 44.78,95.73 48.60,98.80 C52.42,101.87 55.43,104.88 56.80,106.10" fill="none" stroke="#48c83a" stroke-width="2.60" opacity="0.090" stroke-linecap="round"/>
<path d="M33.90,87.70 C36.35,89.55 44.78,95.73 48.60,98.80 C52.42,101.87 55.43,104.88 56.80,106.10" fill="none" stroke="#48c83a" stroke-width="1.20" opacity="0.55" stroke-linecap="round" stroke-dasharray="6 1.2 3 1"/>
<path d="M71.50,44.20 C71.13,45.43 70.90,47.92 69.30,51.60 C67.70,55.28 64.23,62.62 61.90,66.30 C59.57,69.98 56.40,72.47 55.30,73.70" fill="none" stroke="#48c83a" stroke-width="1.44" opacity="0.4" stroke-linecap="round"/>
</g></g>
<line x1="385.00" y1="744.70" x2="375.75" y2="743.22" stroke="#ffffff" stroke-width="2.0"/>
<path d="M368.10,742.00 L377.56,738.55 L375.75,743.22 L376.02,748.23 Z" fill="#ffffff"/>
<line x1="363.70" y1="782.60" x2="357.54" y2="776.81" stroke="#ffffff" stroke-width="2.0"/>
<path d="M351.90,771.50 L361.67,773.96 L357.54,776.81 L354.95,781.10 Z" fill="#ffffff"/>
<g transform="translate(416.40,697.80)">
<clipPath id="tc32"><rect width="115.2" height="115.2"/></clipPath><g clip-path="url(#tc32)">
<rect x="23.9" y="47.1" width="1.3" height="1.3" fill="#2fae2f" opacity="0.49"/>
<rect x="103.7" y="26.8" width="1.3" height="1.3" fill="#2fae2f" opacity="0.41"/>
<rect x="41.4" y="76.4" width="1.3" height="1.3" fill="#2fae2f" opacity="0.42"/>
<rect x="14.7" y="25.6" width="1.3" height="1.3" fill="#2fae2f" opacity="0.23"/>
<rect x="30.6" y="4.1" width="1.3" height="1.3" fill="#2fae2f" opacity="0.20"/>
<rect x="46.8" y="48.5" width="1.3" height="1.3" fill="#2fae2f" opacity="0.18"/>
<rect x="67.1" y="108.6" width="1.3" height="1.3" fill="#2fae2f" opacity="0.35"/>
<rect x="41.0" y="81.2" width="1.3" height="1.3" fill="#2fae2f" opacity="0.30"/>
<rect x="20.2" y="55.5" width="1.3" height="1.3" fill="#2fae2f" opacity="0.16"/>
<rect x="77.9" y="18.5" width="1.3" height="1.3" fill="#2fae2f" opacity="0.28"/>
<rect x="110.9" y="88.3" width="1.3" height="1.3" fill="#2fae2f" opacity="0.44"/>
<rect x="74.0" y="73.1" width="1.3" height="1.3" fill="#2fae2f" opacity="0.40"/>
<rect x="111.3" y="22.6" width="1.3" height="1.3" fill="#2fae2f" opacity="0.42"/>
<rect x="34.7" y="29.5" width="1.3" height="1.3" fill="#2fae2f" opacity="0.44"/>
<rect x="69.2" y="97.9" width="1.3" height="1.3" fill="#2fae2f" opacity="0.46"/>
<rect x="67.8" y="22.8" width="1.3" height="1.3" fill="#2fae2f" opacity="0.16"/>
<rect x="61.6" y="83.6" width="1.3" height="1.3" fill="#2fae2f" opacity="0.25"/>
<rect x="8.1" y="0.5" width="1.3" height="1.3" fill="#2fae2f" opacity="0.21"/>
<rect x="80.2" y="0.5" width="1.3" height="1.3" fill="#2fae2f" opacity="0.23"/>
<rect x="30.5" y="81.9" width="1.3" height="1.3" fill="#2fae2f" opacity="0.50"/>
<rect x="2.2" y="13.2" width="1.3" height="1.3" fill="#2fae2f" opacity="0.48"/>
<rect x="111.7" y="17.1" width="1.3" height="1.3" fill="#2fae2f" opacity="0.27"/>
<rect x="60.2" y="36.9" width="1.3" height="1.3" fill="#2fae2f" opacity="0.30"/>
<rect x="55.2" y="29.8" width="1.3" height="1.3" fill="#2fae2f" opacity="0.17"/>
<rect x="9.7" y="18.7" width="1.3" height="1.3" fill="#2fae2f" opacity="0.18"/>
<rect x="71.9" y="80.3" width="1.3" height="1.3" fill="#2fae2f" opacity="0.24"/>
<rect x="91.2" y="84.0" width="1.3" height="1.3" fill="#2fae2f" opacity="0.27"/>
<rect x="56.7" y="21.7" width="1.3" height="1.3" fill="#2fae2f" opacity="0.48"/>
<rect x="64.6" y="5.9" width="1.3" height="1.3" fill="#2fae2f" opacity="0.20"/>
<rect x="79.8" y="44.4" width="1.3" height="1.3" fill="#2fae2f" opacity="0.40"/>
<rect x="26.4" y="91.8" width="1.3" height="1.3" fill="#2fae2f" opacity="0.43"/>
<rect x="10.9" y="67.5" width="1.3" height="1.3" fill="#2fae2f" opacity="0.22"/>
<rect x="81.5" y="92.6" width="1.3" height="1.3" fill="#2fae2f" opacity="0.43"/>
<rect x="26.6" y="10.8" width="1.3" height="1.3" fill="#2fae2f" opacity="0.38"/>
<rect x="65.1" y="15.9" width="1.3" height="1.3" fill="#2fae2f" opacity="0.22"/>
<rect x="67.1" y="12.4" width="1.3" height="1.3" fill="#2fae2f" opacity="0.37"/>
<rect x="27.8" y="29.8" width="1.3" height="1.3" fill="#2fae2f" opacity="0.30"/>
<rect x="61.4" y="83.5" width="1.3" height="1.3" fill="#2fae2f" opacity="0.16"/>
<rect x="83.4" y="25.5" width="1.3" height="1.3" fill="#2fae2f" opacity="0.25"/>
<rect x="73.7" y="79.6" width="1.3" height="1.3" fill="#2fae2f" opacity="0.37"/>
<rect x="103.9" y="23.6" width="1.3" height="1.3" fill="#2fae2f" opacity="0.26"/>
<rect x="76.3" y="30.0" width="1.3" height="1.3" fill="#2fae2f" opacity="0.21"/>
<rect x="26.1" y="88.9" width="1.3" height="1.3" fill="#2fae2f" opacity="0.44"/>
<rect x="82.5" y="110.4" width="1.3" height="1.3" fill="#2fae2f" opacity="0.43"/>
<rect x="35.7" y="36.3" width="1.3" height="1.3" fill="#2fae2f" opacity="0.40"/>
<rect x="6.4" y="70.2" width="1.3" height="1.3" fill="#2fae2f" opacity="0.18"/>
<rect x="5.7" y="59.2" width="1.3" height="1.3" fill="#2fae2f" opacity="0.20"/>
<rect x="107.3" y="101.1" width="1.3" height="1.3" fill="#2fae2f" opacity="0.31"/>
<rect x="22.8" y="13.8" width="1.3" height="1.3" fill="#2fae2f" opacity="0.33"/>
<rect x="60.1" y="41.8" width="1.3" height="1.3" fill="#2fae2f" opacity="0.40"/>
<rect x="61.0" y="89.3" width="1.3" height="1.3" fill="#2fae2f" opacity="0.19"/>
<rect x="8.1" y="44.6" width="1.3" height="1.3" fill="#2fae2f" opacity="0.32"/>
<rect x="29.1" y="77.0" width="1.3" height="1.3" fill="#2fae2f" opacity="0.23"/>
<rect x="36.7" y="54.9" width="1.3" height="1.3" fill="#2fae2f" opacity="0.40"/>
<rect x="88.7" y="42.8" width="1.3" height="1.3" fill="#2fae2f" opacity="0.31"/>
<rect x="106.9" y="107.6" width="1.3" height="1.3" fill="#2fae2f" opacity="0.37"/>
<rect x="12.1" y="52.5" width="1.3" height="1.3" fill="#2fae2f" opacity="0.37"/>
<rect x="32.1" y="4.3" width="1.3" height="1.3" fill="#2fae2f" opacity="0.49"/>
<rect x="104.8" y="14.9" width="1.3" height="1.3" fill="#2fae2f" opacity="0.31"/>
<rect x="71.3" y="34.6" width="1.3" height="1.3" fill="#2fae2f" opacity="0.17"/>
<rect x="86.5" y="88.8" width="1.3" height="1.3" fill="#2fae2f" opacity="0.30"/>
<rect x="9.9" y="45.4" width="1.3" height="1.3" fill="#2fae2f" opacity="0.18"/>
<rect x="111.0" y="5.9" width="1.3" height="1.3" fill="#2fae2f" opacity="0.25"/>
<rect x="88.5" y="15.6" width="1.3" height="1.3" fill="#2fae2f" opacity="0.19"/>
<rect x="8.1" y="18.9" width="1.3" height="1.3" fill="#2fae2f" opacity="0.34"/>
<rect x="96.0" y="19.5" width="1.3" height="1.3" fill="#2fae2f" opacity="0.21"/>
<rect x="88.1" y="49.1" width="1.3" height="1.3" fill="#2fae2f" opacity="0.27"/>
<rect x="14.2" y="28.0" width="1.3" height="1.3" fill="#2fae2f" opacity="0.49"/>
<rect x="13.5" y="29.9" width="1.3" height="1.3" fill="#2fae2f" opacity="0.41"/>
<rect x="102.7" y="104.2" width="1.3" height="1.3" fill="#2fae2f" opacity="0.32"/>
<rect x="110.2" y="69.6" width="1.3" height="1.3" fill="#2fae2f" opacity="0.25"/>
<rect x="53.6" y="82.5" width="1.3" height="1.3" fill="#2fae2f" opacity="0.41"/>
<rect x="14.9" y="22.3" width="1.3" height="1.3" fill="#2fae2f" opacity="0.49"/>
<rect x="12.3" y="93.7" width="1.3" height="1.3" fill="#2fae2f" opacity="0.27"/>
<rect x="28.6" y="29.4" width="1.3" height="1.3" fill="#2fae2f" opacity="0.31"/>
<rect x="114.1" y="17.1" width="1.3" height="1.3" fill="#2fae2f" opacity="0.45"/>
<rect x="37.0" y="19.9" width="1.3" height="1.3" fill="#2fae2f" opacity="0.41"/>
<rect x="39.4" y="21.6" width="1.3" height="1.3" fill="#2fae2f" opacity="0.30"/>
<rect x="94.7" y="99.4" width="1.3" height="1.3" fill="#2fae2f" opacity="0.35"/>
<rect x="1.2" y="87.9" width="1.3" height="1.3" fill="#2fae2f" opacity="0.36"/>
<path d="M70.00,19.90 C70.37,22.23 71.95,29.85 72.20,33.90 C72.45,37.95 71.62,42.48 71.50,44.20" fill="none" stroke="#48c83a" stroke-width="2.92" opacity="0.150" stroke-linecap="round"/>
<path d="M70.00,19.90 C70.37,22.23 71.95,29.85 72.20,33.90 C72.45,37.95 71.62,42.48 71.50,44.20" fill="none" stroke="#48c83a" stroke-width="1.52" opacity="0.92" stroke-linecap="round" stroke-dasharray="6 1.2 3 1"/>
<path d="M55.30,73.70 C54.68,73.95 54.43,74.22 51.60,75.20 C48.77,76.18 42.23,78.62 38.30,79.60 C34.37,80.58 29.72,80.85 28.00,81.10" fill="none" stroke="#48c83a" stroke-width="3.16" opacity="0.150" stroke-linecap="round"/>
<path d="M55.30,73.70 C54.68,73.95 54.43,74.22 51.60,75.20 C48.77,76.18 42.23,78.62 38.30,79.60 C34.37,80.58 29.72,80.85 28.00,81.10" fill="none" stroke="#48c83a" stroke-width="1.76" opacity="0.92" stroke-linecap="round" stroke-dasharray="6 1.2 3 1"/>
<path d="M28.00,81.10 C26.28,81.58 21.88,82.40 17.70,84.00 C13.52,85.60 5.37,89.58 2.90,90.70" fill="none" stroke="#48c83a" stroke-width="2.68" opacity="0.112" stroke-linecap="round"/>
<path d="M28.00,81.10 C26.28,81.58 21.88,82.40 17.70,84.00 C13.52,85.60 5.37,89.58 2.90,90.70" fill="none" stroke="#48c83a" stroke-width="1.28" opacity="0.69" stroke-linecap="round" stroke-dasharray="6 1.2 3 1"/>
<path d="M33.90,87.70 C36.35,89.55 44.78,95.73 48.60,98.80 C52.42,101.87 55.43,104.88 56.80,106.10" fill="none" stroke="#48c83a" stroke-width="2.60" opacity="0.090" stroke-linecap="round"/>
<path d="M33.90,87.70 C36.35,89.55 44.78,95.73 48.60,98.80 C52.42,101.87 55.43,104.88 56.80,106.10" fill="none" stroke="#48c83a" stroke-width="1.20" opacity="0.55" stroke-linecap="round" stroke-dasharray="6 1.2 3 1"/>
<path d="M71.50,44.20 C71.13,45.43 70.90,47.92 69.30,51.60 C67.70,55.28 64.23,62.62 61.90,66.30 C59.57,69.98 56.40,72.47 55.30,73.70" fill="none" stroke="#48c83a" stroke-width="1.44" opacity="0.4" stroke-linecap="round"/>
</g></g>
<line x1="504.80" y1="744.70" x2="495.55" y2="743.22" stroke="#ffffff" stroke-width="2.0"/>
<path d="M487.90,742.00 L497.36,738.55 L495.55,743.22 L495.82,748.23 Z" fill="#ffffff"/>
<line x1="483.50" y1="782.60" x2="477.34" y2="776.81" stroke="#ffffff" stroke-width="2.0"/>
<path d="M471.70,771.50 L481.47,773.96 L477.34,776.81 L474.75,781.10 Z" fill="#ffffff"/>
<g transform="translate(536.20,697.80)">
<clipPath id="tc42"><rect width="115.2" height="115.2"/></clipPath><g clip-path="url(#tc42)">
<rect x="103.6" y="109.7" width="1.3" height="1.3" fill="#2fae2f" opacity="0.26"/>
<rect x="97.7" y="94.3" width="1.3" height="1.3" fill="#2fae2f" opacity="0.24"/>
<rect x="42.1" y="43.2" width="1.3" height="1.3" fill="#2fae2f" opacity="0.27"/>
<rect x="43.6" y="12.7" width="1.3" height="1.3" fill="#2fae2f" opacity="0.23"/>
<rect x="104.8" y="47.3" width="1.3" height="1.3" fill="#2fae2f" opacity="0.37"/>
<rect x="102.2" y="87.0" width="1.3" height="1.3" fill="#2fae2f" opacity="0.24"/>
<rect x="105.9" y="92.6" width="1.3" height="1.3" fill="#2fae2f" opacity="0.50"/>
<rect x="83.9" y="87.0" width="1.3" height="1.3" fill="#2fae2f" opacity="0.43"/>
<rect x="29.2" y="75.6" width="1.3" height="1.3" fill="#2fae2f" opacity="0.28"/>
<rect x="96.7" y="15.4" width="1.3" height="1.3" fill="#2fae2f" opacity="0.34"/>
<rect x="38.8" y="94.5" width="1.3" height="1.3" fill="#2fae2f" opacity="0.27"/>
<rect x="97.2" y="97.7" width="1.3" height="1.3" fill="#2fae2f" opacity="0.46"/>
<rect x="16.0" y="108.1" width="1.3" height="1.3" fill="#2fae2f" opacity="0.41"/>
<rect x="78.0" y="75.2" width="1.3" height="1.3" fill="#2fae2f" opacity="0.17"/>
<rect x="100.2" y="63.1" width="1.3" height="1.3" fill="#2fae2f" opacity="0.31"/>
<rect x="39.1" y="90.2" width="1.3" height="1.3" fill="#2fae2f" opacity="0.42"/>
<rect x="100.2" y="24.7" width="1.3" height="1.3" fill="#2fae2f" opacity="0.27"/>
<rect x="28.7" y="11.6" width="1.3" height="1.3" fill="#2fae2f" opacity="0.26"/>
<rect x="3.0" y="91.8" width="1.3" height="1.3" fill="#2fae2f" opacity="0.23"/>
<rect x="8.1" y="7.8" width="1.3" height="1.3" fill="#2fae2f" opacity="0.41"/>
<rect x="22.9" y="53.2" width="1.3" height="1.3" fill="#2fae2f" opacity="0.29"/>
<rect x="92.4" y="109.9" width="1.3" height="1.3" fill="#2fae2f" opacity="0.26"/>
<rect x="72.8" y="103.1" width="1.3" height="1.3" fill="#2fae2f" opacity="0.31"/>
<rect x="103.6" y="84.5" width="1.3" height="1.3" fill="#2fae2f" opacity="0.26"/>
<rect x="100.7" y="66.0" width="1.3" height="1.3" fill="#2fae2f" opacity="0.19"/>
<rect x="67.7" y="95.5" width="1.3" height="1.3" fill="#2fae2f" opacity="0.33"/>
<rect x="55.8" y="48.0" width="1.3" height="1.3" fill="#2fae2f" opacity="0.46"/>
<rect x="76.7" y="24.0" width="1.3" height="1.3" fill="#2fae2f" opacity="0.28"/>
<rect x="41.8" y="110.4" width="1.3" height="1.3" fill="#2fae2f" opacity="0.39"/>
<rect x="14.4" y="105.3" width="1.3" height="1.3" fill="#2fae2f" opacity="0.16"/>
<rect x="68.1" y="49.8" width="1.3" height="1.3" fill="#2fae2f" opacity="0.40"/>
<rect x="49.5" y="10.6" width="1.3" height="1.3" fill="#2fae2f" opacity="0.33"/>
<rect x="94.5" y="90.9" width="1.3" height="1.3" fill="#2fae2f" opacity="0.27"/>
<rect x="25.6" y="85.8" width="1.3" height="1.3" fill="#2fae2f" opacity="0.43"/>
<rect x="25.2" y="101.7" width="1.3" height="1.3" fill="#2fae2f" opacity="0.50"/>
<rect x="49.9" y="43.8" width="1.3" height="1.3" fill="#2fae2f" opacity="0.40"/>
<rect x="107.1" y="23.2" width="1.3" height="1.3" fill="#2fae2f" opacity="0.26"/>
<rect x="37.9" y="84.3" width="1.3" height="1.3" fill="#2fae2f" opacity="0.22"/>
<rect x="63.0" y="57.6" width="1.3" height="1.3" fill="#2fae2f" opacity="0.38"/>
<rect x="16.5" y="110.2" width="1.3" height="1.3" fill="#2fae2f" opacity="0.50"/>
<rect x="64.6" y="91.6" width="1.3" height="1.3" fill="#2fae2f" opacity="0.21"/>
<rect x="104.9" y="63.5" width="1.3" height="1.3" fill="#2fae2f" opacity="0.42"/>
<rect x="100.0" y="41.7" width="1.3" height="1.3" fill="#2fae2f" opacity="0.47"/>
<rect x="23.9" y="2.7" width="1.3" height="1.3" fill="#2fae2f" opacity="0.33"/>
<rect x="103.5" y="103.7" width="1.3" height="1.3" fill="#2fae2f" opacity="0.48"/>
<rect x="58.8" y="107.4" width="1.3" height="1.3" fill="#2fae2f" opacity="0.35"/>
<rect x="16.6" y="72.7" width="1.3" height="1.3" fill="#2fae2f" opacity="0.43"/>
<rect x="48.8" y="69.4" width="1.3" height="1.3" fill="#2fae2f" opacity="0.24"/>
<rect x="31.8" y="48.4" width="1.3" height="1.3" fill="#2fae2f" opacity="0.33"/>
<rect x="53.9" y="10.6" width="1.3" height="1.3" fill="#2fae2f" opacity="0.15"/>
<rect x="39.2" y="82.6" width="1.3" height="1.3" fill="#2fae2f" opacity="0.41"/>
<rect x="27.3" y="29.4" width="1.3" height="1.3" fill="#2fae2f" opacity="0.33"/>
<rect x="20.2" y="69.5" width="1.3" height="1.3" fill="#2fae2f" opacity="0.47"/>
<rect x="23.3" y="67.5" width="1.3" height="1.3" fill="#2fae2f" opacity="0.40"/>
<rect x="86.3" y="82.0" width="1.3" height="1.3" fill="#2fae2f" opacity="0.40"/>
<rect x="31.4" y="96.6" width="1.3" height="1.3" fill="#2fae2f" opacity="0.47"/>
<rect x="6.1" y="108.8" width="1.3" height="1.3" fill="#2fae2f" opacity="0.30"/>
<rect x="9.9" y="8.0" width="1.3" height="1.3" fill="#2fae2f" opacity="0.43"/>
<rect x="78.1" y="16.4" width="1.3" height="1.3" fill="#2fae2f" opacity="0.31"/>
<rect x="73.6" y="114.9" width="1.3" height="1.3" fill="#2fae2f" opacity="0.27"/>
<rect x="88.3" y="28.2" width="1.3" height="1.3" fill="#2fae2f" opacity="0.22"/>
<rect x="18.6" y="47.2" width="1.3" height="1.3" fill="#2fae2f" opacity="0.37"/>
<rect x="34.9" y="18.7" width="1.3" height="1.3" fill="#2fae2f" opacity="0.23"/>
<rect x="9.8" y="22.2" width="1.3" height="1.3" fill="#2fae2f" opacity="0.26"/>
<rect x="58.1" y="21.2" width="1.3" height="1.3" fill="#2fae2f" opacity="0.32"/>
<rect x="50.7" y="112.1" width="1.3" height="1.3" fill="#2fae2f" opacity="0.32"/>
<rect x="108.8" y="54.3" width="1.3" height="1.3" fill="#2fae2f" opacity="0.22"/>
<rect x="68.2" y="16.7" width="1.3" height="1.3" fill="#2fae2f" opacity="0.21"/>
<rect x="8.4" y="80.8" width="1.3" height="1.3" fill="#2fae2f" opacity="0.49"/>
<rect x="46.5" y="40.8" width="1.3" height="1.3" fill="#2fae2f" opacity="0.30"/>
<rect x="40.5" y="79.6" width="1.3" height="1.3" fill="#2fae2f" opacity="0.29"/>
<rect x="17.5" y="99.6" width="1.3" height="1.3" fill="#2fae2f" opacity="0.35"/>
<rect x="0.7" y="97.9" width="1.3" height="1.3" fill="#2fae2f" opacity="0.40"/>
<rect x="40.8" y="72.6" width="1.3" height="1.3" fill="#2fae2f" opacity="0.47"/>
<rect x="46.3" y="49.8" width="1.3" height="1.3" fill="#2fae2f" opacity="0.25"/>
<rect x="63.8" y="76.3" width="1.3" height="1.3" fill="#2fae2f" opacity="0.41"/>
<rect x="109.4" y="16.7" width="1.3" height="1.3" fill="#2fae2f" opacity="0.28"/>
<rect x="98.1" y="91.1" width="1.3" height="1.3" fill="#2fae2f" opacity="0.36"/>
<rect x="78.0" y="39.2" width="1.3" height="1.3" fill="#2fae2f" opacity="0.48"/>
<rect x="63.3" y="46.4" width="1.3" height="1.3" fill="#2fae2f" opacity="0.21"/>
<path d="M70.00,19.90 C70.37,22.23 71.95,29.85 72.20,33.90 C72.45,37.95 71.62,42.48 71.50,44.20" fill="none" stroke="#48c83a" stroke-width="2.92" opacity="0.150" stroke-linecap="round"/>
<path d="M70.00,19.90 C70.37,22.23 71.95,29.85 72.20,33.90 C72.45,37.95 71.62,42.48 71.50,44.20" fill="none" stroke="#48c83a" stroke-width="1.52" opacity="0.92" stroke-linecap="round" stroke-dasharray="6 1.2 3 1"/>
<path d="M55.30,73.70 C54.68,73.95 54.43,74.22 51.60,75.20 C48.77,76.18 42.23,78.62 38.30,79.60 C34.37,80.58 29.72,80.85 28.00,81.10" fill="none" stroke="#48c83a" stroke-width="3.16" opacity="0.150" stroke-linecap="round"/>
<path d="M55.30,73.70 C54.68,73.95 54.43,74.22 51.60,75.20 C48.77,76.18 42.23,78.62 38.30,79.60 C34.37,80.58 29.72,80.85 28.00,81.10" fill="none" stroke="#48c83a" stroke-width="1.76" opacity="0.92" stroke-linecap="round" stroke-dasharray="6 1.2 3 1"/>
<path d="M28.00,81.10 C26.28,81.58 21.88,82.40 17.70,84.00 C13.52,85.60 5.37,89.58 2.90,90.70" fill="none" stroke="#48c83a" stroke-width="2.68" opacity="0.112" stroke-linecap="round"/>
<path d="M28.00,81.10 C26.28,81.58 21.88,82.40 17.70,84.00 C13.52,85.60 5.37,89.58 2.90,90.70" fill="none" stroke="#48c83a" stroke-width="1.28" opacity="0.69" stroke-linecap="round" stroke-dasharray="6 1.2 3 1"/>
<path d="M33.90,87.70 C36.35,89.55 44.78,95.73 48.60,98.80 C52.42,101.87 55.43,104.88 56.80,106.10" fill="none" stroke="#48c83a" stroke-width="2.60" opacity="0.090" stroke-linecap="round"/>
<path d="M33.90,87.70 C36.35,89.55 44.78,95.73 48.60,98.80 C52.42,101.87 55.43,104.88 56.80,106.10" fill="none" stroke="#48c83a" stroke-width="1.20" opacity="0.55" stroke-linecap="round" stroke-dasharray="6 1.2 3 1"/>
<path d="M71.50,44.20 C71.13,45.43 70.90,47.92 69.30,51.60 C67.70,55.28 64.23,62.62 61.90,66.30 C59.57,69.98 56.40,72.47 55.30,73.70" fill="none" stroke="#48c83a" stroke-width="1.44" opacity="0.4" stroke-linecap="round"/>
</g></g>
<line x1="624.60" y1="744.70" x2="615.35" y2="743.22" stroke="#ffffff" stroke-width="2.0"/>
<path d="M607.70,742.00 L617.16,738.55 L615.35,743.22 L615.62,748.23 Z" fill="#ffffff"/>
<line x1="603.30" y1="782.60" x2="597.14" y2="776.81" stroke="#ffffff" stroke-width="2.0"/>
<path d="M591.50,771.50 L601.27,773.96 L597.14,776.81 L594.55,781.10 Z" fill="#ffffff"/>
<g transform="translate(656.00,697.80)">
<clipPath id="tc52"><rect width="115.2" height="115.2"/></clipPath><g clip-path="url(#tc52)">
<rect x="13.3" y="103.4" width="1.3" height="1.3" fill="#2fae2f" opacity="0.43"/>
<rect x="3.1" y="37.2" width="1.3" height="1.3" fill="#2fae2f" opacity="0.32"/>
<rect x="57.1" y="41.9" width="1.3" height="1.3" fill="#2fae2f" opacity="0.46"/>
<rect x="40.3" y="61.3" width="1.3" height="1.3" fill="#2fae2f" opacity="0.48"/>
<rect x="73.6" y="54.9" width="1.3" height="1.3" fill="#2fae2f" opacity="0.27"/>
<rect x="44.6" y="70.2" width="1.3" height="1.3" fill="#2fae2f" opacity="0.43"/>
<rect x="30.0" y="42.7" width="1.3" height="1.3" fill="#2fae2f" opacity="0.29"/>
<rect x="41.8" y="105.2" width="1.3" height="1.3" fill="#2fae2f" opacity="0.34"/>
<rect x="31.8" y="38.3" width="1.3" height="1.3" fill="#2fae2f" opacity="0.44"/>
<rect x="18.5" y="79.5" width="1.3" height="1.3" fill="#2fae2f" opacity="0.16"/>
<rect x="22.3" y="6.9" width="1.3" height="1.3" fill="#2fae2f" opacity="0.43"/>
<rect x="16.9" y="26.3" width="1.3" height="1.3" fill="#2fae2f" opacity="0.17"/>
<rect x="30.4" y="84.5" width="1.3" height="1.3" fill="#2fae2f" opacity="0.40"/>
<rect x="104.9" y="109.1" width="1.3" height="1.3" fill="#2fae2f" opacity="0.34"/>
<rect x="106.2" y="10.3" width="1.3" height="1.3" fill="#2fae2f" opacity="0.47"/>
<rect x="50.0" y="22.2" width="1.3" height="1.3" fill="#2fae2f" opacity="0.41"/>
<rect x="98.9" y="44.4" width="1.3" height="1.3" fill="#2fae2f" opacity="0.18"/>
<rect x="100.6" y="86.8" width="1.3" height="1.3" fill="#2fae2f" opacity="0.36"/>
<rect x="112.5" y="4.4" width="1.3" height="1.3" fill="#2fae2f" opacity="0.17"/>
<rect x="14.3" y="2.5" width="1.3" height="1.3" fill="#2fae2f" opacity="0.40"/>
<rect x="72.6" y="12.9" width="1.3" height="1.3" fill="#2fae2f" opacity="0.21"/>
<rect x="20.8" y="70.2" width="1.3" height="1.3" fill="#2fae2f" opacity="0.39"/>
<rect x="111.7" y="41.5" width="1.3" height="1.3" fill="#2fae2f" opacity="0.49"/>
<rect x="50.0" y="45.0" width="1.3" height="1.3" fill="#2fae2f" opacity="0.24"/>
<rect x="26.8" y="112.3" width="1.3" height="1.3" fill="#2fae2f" opacity="0.50"/>
<rect x="81.3" y="20.2" width="1.3" height="1.3" fill="#2fae2f" opacity="0.21"/>
<rect x="17.5" y="40.4" width="1.3" height="1.3" fill="#2fae2f" opacity="0.41"/>
<rect x="6.8" y="61.1" width="1.3" height="1.3" fill="#2fae2f" opacity="0.39"/>
<rect x="3.9" y="50.6" width="1.3" height="1.3" fill="#2fae2f" opacity="0.43"/>
<rect x="66.3" y="52.0" width="1.3" height="1.3" fill="#2fae2f" opacity="0.46"/>
<rect x="69.2" y="38.8" width="1.3" height="1.3" fill="#2fae2f" opacity="0.29"/>
<rect x="108.7" y="99.0" width="1.3" height="1.3" fill="#2fae2f" opacity="0.47"/>
<rect x="64.6" y="16.4" width="1.3" height="1.3" fill="#2fae2f" opacity="0.21"/>
<rect x="44.2" y="79.6" width="1.3" height="1.3" fill="#2fae2f" opacity="0.15"/>
<rect x="92.4" y="90.5" width="1.3" height="1.3" fill="#2fae2f" opacity="0.33"/>
<rect x="0.6" y="91.9" width="1.3" height="1.3" fill="#2fae2f" opacity="0.29"/>
<rect x="77.1" y="65.7" width="1.3" height="1.3" fill="#2fae2f" opacity="0.40"/>
<rect x="47.1" y="110.6" width="1.3" height="1.3" fill="#2fae2f" opacity="0.48"/>
<rect x="107.0" y="70.9" width="1.3" height="1.3" fill="#2fae2f" opacity="0.26"/>
<rect x="43.4" y="31.0" width="1.3" height="1.3" fill="#2fae2f" opacity="0.47"/>
<rect x="91.3" y="90.8" width="1.3" height="1.3" fill="#2fae2f" opacity="0.44"/>
<rect x="114.1" y="79.3" width="1.3" height="1.3" fill="#2fae2f" opacity="0.26"/>
<rect x="87.3" y="30.2" width="1.3" height="1.3" fill="#2fae2f" opacity="0.36"/>
<rect x="18.3" y="98.8" width="1.3" height="1.3" fill="#2fae2f" opacity="0.32"/>
<rect x="31.7" y="106.3" width="1.3" height="1.3" fill="#2fae2f" opacity="0.18"/>
<rect x="107.2" y="87.2" width="1.3" height="1.3" fill="#2fae2f" opacity="0.20"/>
<rect x="87.7" y="66.0" width="1.3" height="1.3" fill="#2fae2f" opacity="0.47"/>
<rect x="67.6" y="49.2" width="1.3" height="1.3" fill="#2fae2f" opacity="0.48"/>
<rect x="10.1" y="89.5" width="1.3" height="1.3" fill="#2fae2f" opacity="0.19"/>
<rect x="31.9" y="13.1" width="1.3" height="1.3" fill="#2fae2f" opacity="0.45"/>
<rect x="50.9" y="83.7" width="1.3" height="1.3" fill="#2fae2f" opacity="0.24"/>
<rect x="84.1" y="74.7" width="1.3" height="1.3" fill="#2fae2f" opacity="0.18"/>
<rect x="56.9" y="83.2" width="1.3" height="1.3" fill="#2fae2f" opacity="0.23"/>
<rect x="75.4" y="32.0" width="1.3" height="1.3" fill="#2fae2f" opacity="0.28"/>
<rect x="106.0" y="108.6" width="1.3" height="1.3" fill="#2fae2f" opacity="0.50"/>
<rect x="49.2" y="65.9" width="1.3" height="1.3" fill="#2fae2f" opacity="0.43"/>
<rect x="87.4" y="52.6" width="1.3" height="1.3" fill="#2fae2f" opacity="0.45"/>
<rect x="46.2" y="109.4" width="1.3" height="1.3" fill="#2fae2f" opacity="0.32"/>
<rect x="13.7" y="86.3" width="1.3" height="1.3" fill="#2fae2f" opacity="0.20"/>
<rect x="78.3" y="6.2" width="1.3" height="1.3" fill="#2fae2f" opacity="0.50"/>
<rect x="62.3" y="85.3" width="1.3" height="1.3" fill="#2fae2f" opacity="0.20"/>
<rect x="73.4" y="43.4" width="1.3" height="1.3" fill="#2fae2f" opacity="0.24"/>
<rect x="93.9" y="3.8" width="1.3" height="1.3" fill="#2fae2f" opacity="0.32"/>
<rect x="10.0" y="98.1" width="1.3" height="1.3" fill="#2fae2f" opacity="0.46"/>
<rect x="4.0" y="53.5" width="1.3" height="1.3" fill="#2fae2f" opacity="0.31"/>
<rect x="82.8" y="84.0" width="1.3" height="1.3" fill="#2fae2f" opacity="0.27"/>
<rect x="107.5" y="21.3" width="1.3" height="1.3" fill="#2fae2f" opacity="0.20"/>
<rect x="93.9" y="13.8" width="1.3" height="1.3" fill="#2fae2f" opacity="0.22"/>
<rect x="57.6" y="38.7" width="1.3" height="1.3" fill="#2fae2f" opacity="0.21"/>
<rect x="107.1" y="54.6" width="1.3" height="1.3" fill="#2fae2f" opacity="0.43"/>
<rect x="28.8" y="105.1" width="1.3" height="1.3" fill="#2fae2f" opacity="0.23"/>
<rect x="104.4" y="70.6" width="1.3" height="1.3" fill="#2fae2f" opacity="0.49"/>
<rect x="88.8" y="72.7" width="1.3" height="1.3" fill="#2fae2f" opacity="0.34"/>
<rect x="98.5" y="51.1" width="1.3" height="1.3" fill="#2fae2f" opacity="0.18"/>
<rect x="105.3" y="92.8" width="1.3" height="1.3" fill="#2fae2f" opacity="0.39"/>
<rect x="85.8" y="26.7" width="1.3" height="1.3" fill="#2fae2f" opacity="0.31"/>
<rect x="94.8" y="110.8" width="1.3" height="1.3" fill="#2fae2f" opacity="0.47"/>
<rect x="18.5" y="78.8" width="1.3" height="1.3" fill="#2fae2f" opacity="0.34"/>
<rect x="46.7" y="19.3" width="1.3" height="1.3" fill="#2fae2f" opacity="0.20"/>
<rect x="54.2" y="56.8" width="1.3" height="1.3" fill="#2fae2f" opacity="0.24"/>
<path d="M70.00,19.90 C70.37,22.23 71.95,29.85 72.20,33.90 C72.45,37.95 71.62,42.48 71.50,44.20" fill="none" stroke="#48c83a" stroke-width="2.92" opacity="0.150" stroke-linecap="round"/>
<path d="M70.00,19.90 C70.37,22.23 71.95,29.85 72.20,33.90 C72.45,37.95 71.62,42.48 71.50,44.20" fill="none" stroke="#48c83a" stroke-width="1.52" opacity="0.92" stroke-linecap="round" stroke-dasharray="6 1.2 3 1"/>
<path d="M55.30,73.70 C54.68,73.95 54.43,74.22 51.60,75.20 C48.77,76.18 42.23,78.62 38.30,79.60 C34.37,80.58 29.72,80.85 28.00,81.10" fill="none" stroke="#48c83a" stroke-width="3.16" opacity="0.150" stroke-linecap="round"/>
<path d="M55.30,73.70 C54.68,73.95 54.43,74.22 51.60,75.20 C48.77,76.18 42.23,78.62 38.30,79.60 C34.37,80.58 29.72,80.85 28.00,81.10" fill="none" stroke="#48c83a" stroke-width="1.76" opacity="0.92" stroke-linecap="round" stroke-dasharray="6 1.2 3 1"/>
<path d="M28.00,81.10 C26.28,81.58 21.88,82.40 17.70,84.00 C13.52,85.60 5.37,89.58 2.90,90.70" fill="none" stroke="#48c83a" stroke-width="2.68" opacity="0.112" stroke-linecap="round"/>
<path d="M28.00,81.10 C26.28,81.58 21.88,82.40 17.70,84.00 C13.52,85.60 5.37,89.58 2.90,90.70" fill="none" stroke="#48c83a" stroke-width="1.28" opacity="0.69" stroke-linecap="round" stroke-dasharray="6 1.2 3 1"/>
<path d="M33.90,87.70 C36.35,89.55 44.78,95.73 48.60,98.80 C52.42,101.87 55.43,104.88 56.80,106.10" fill="none" stroke="#48c83a" stroke-width="2.60" opacity="0.090" stroke-linecap="round"/>
<path d="M33.90,87.70 C36.35,89.55 44.78,95.73 48.60,98.80 C52.42,101.87 55.43,104.88 56.80,106.10" fill="none" stroke="#48c83a" stroke-width="1.20" opacity="0.55" stroke-linecap="round" stroke-dasharray="6 1.2 3 1"/>
<path d="M71.50,44.20 C71.13,45.43 70.90,47.92 69.30,51.60 C67.70,55.28 64.23,62.62 61.90,66.30 C59.57,69.98 56.40,72.47 55.30,73.70" fill="none" stroke="#48c83a" stroke-width="1.44" opacity="0.4" stroke-linecap="round"/>
</g></g>
<line x1="744.40" y1="744.70" x2="735.15" y2="743.22" stroke="#ffffff" stroke-width="2.0"/>
<path d="M727.50,742.00 L736.96,738.55 L735.15,743.22 L735.42,748.23 Z" fill="#ffffff"/>
<line x1="723.10" y1="782.60" x2="716.94" y2="776.81" stroke="#ffffff" stroke-width="2.0"/>
<path d="M711.30,771.50 L721.07,773.96 L716.94,776.81 L714.35,781.10 Z" fill="#ffffff"/>
<g transform="translate(176.80,817.70)">
<clipPath id="tc13"><rect width="115.2" height="115.2"/></clipPath><g clip-path="url(#tc13)">
<rect x="42.4" y="63.8" width="1.3" height="1.3" fill="#2fae2f" opacity="0.42"/>
<rect x="67.9" y="18.7" width="1.3" height="1.3" fill="#2fae2f" opacity="0.46"/>
<rect x="42.4" y="110.6" width="1.3" height="1.3" fill="#2fae2f" opacity="0.49"/>
<rect x="16.2" y="67.1" width="1.3" height="1.3" fill="#2fae2f" opacity="0.49"/>
<rect x="44.4" y="63.1" width="1.3" height="1.3" fill="#2fae2f" opacity="0.26"/>
<rect x="3.3" y="23.6" width="1.3" height="1.3" fill="#2fae2f" opacity="0.19"/>
<rect x="32.7" y="72.5" width="1.3" height="1.3" fill="#2fae2f" opacity="0.35"/>
<rect x="109.2" y="79.0" width="1.3" height="1.3" fill="#2fae2f" opacity="0.28"/>
<rect x="109.4" y="73.0" width="1.3" height="1.3" fill="#2fae2f" opacity="0.34"/>
<rect x="99.4" y="77.2" width="1.3" height="1.3" fill="#2fae2f" opacity="0.28"/>
<rect x="69.7" y="34.6" width="1.3" height="1.3" fill="#2fae2f" opacity="0.49"/>
<rect x="28.1" y="112.1" width="1.3" height="1.3" fill="#2fae2f" opacity="0.17"/>
<rect x="1.1" y="63.7" width="1.3" height="1.3" fill="#2fae2f" opacity="0.22"/>
<rect x="58.5" y="13.6" width="1.3" height="1.3" fill="#2fae2f" opacity="0.44"/>
<rect x="77.1" y="78.8" width="1.3" height="1.3" fill="#2fae2f" opacity="0.47"/>
<rect x="114.3" y="78.1" width="1.3" height="1.3" fill="#2fae2f" opacity="0.40"/>
<rect x="0.2" y="5.7" width="1.3" height="1.3" fill="#2fae2f" opacity="0.30"/>
<rect x="111.6" y="36.1" width="1.3" height="1.3" fill="#2fae2f" opacity="0.35"/>
<rect x="1.0" y="47.9" width="1.3" height="1.3" fill="#2fae2f" opacity="0.47"/>
<rect x="67.9" y="95.0" width="1.3" height="1.3" fill="#2fae2f" opacity="0.15"/>
<rect x="23.4" y="20.6" width="1.3" height="1.3" fill="#2fae2f" opacity="0.44"/>
<rect x="11.7" y="107.4" width="1.3" height="1.3" fill="#2fae2f" opacity="0.24"/>
<rect x="101.4" y="59.4" width="1.3" height="1.3" fill="#2fae2f" opacity="0.26"/>
<rect x="111.3" y="46.7" width="1.3" height="1.3" fill="#2fae2f" opacity="0.39"/>
<rect x="7.8" y="95.7" width="1.3" height="1.3" fill="#2fae2f" opacity="0.49"/>
<rect x="12.7" y="86.0" width="1.3" height="1.3" fill="#2fae2f" opacity="0.24"/>
<rect x="17.0" y="42.0" width="1.3" height="1.3" fill="#2fae2f" opacity="0.38"/>
<rect x="109.8" y="114.5" width="1.3" height="1.3" fill="#2fae2f" opacity="0.50"/>
<rect x="71.8" y="75.3" width="1.3" height="1.3" fill="#2fae2f" opacity="0.21"/>
<rect x="83.6" y="63.5" width="1.3" height="1.3" fill="#2fae2f" opacity="0.28"/>
<rect x="103.7" y="29.4" width="1.3" height="1.3" fill="#2fae2f" opacity="0.20"/>
<rect x="18.2" y="17.2" width="1.3" height="1.3" fill="#2fae2f" opacity="0.36"/>
<rect x="92.3" y="18.4" width="1.3" height="1.3" fill="#2fae2f" opacity="0.33"/>
<rect x="66.2" y="64.6" width="1.3" height="1.3" fill="#2fae2f" opacity="0.29"/>
<rect x="62.6" y="1.7" width="1.3" height="1.3" fill="#2fae2f" opacity="0.17"/>
<rect x="48.7" y="27.3" width="1.3" height="1.3" fill="#2fae2f" opacity="0.41"/>
<rect x="27.9" y="94.9" width="1.3" height="1.3" fill="#2fae2f" opacity="0.23"/>
<rect x="10.7" y="55.0" width="1.3" height="1.3" fill="#2fae2f" opacity="0.29"/>
<rect x="38.7" y="88.1" width="1.3" height="1.3" fill="#2fae2f" opacity="0.23"/>
<rect x="77.2" y="96.2" width="1.3" height="1.3" fill="#2fae2f" opacity="0.31"/>
<rect x="58.0" y="106.4" width="1.3" height="1.3" fill="#2fae2f" opacity="0.36"/>
<rect x="20.8" y="8.0" width="1.3" height="1.3" fill="#2fae2f" opacity="0.18"/>
<rect x="38.2" y="10.2" width="1.3" height="1.3" fill="#2fae2f" opacity="0.38"/>
<rect x="48.8" y="35.5" width="1.3" height="1.3" fill="#2fae2f" opacity="0.33"/>
<rect x="107.9" y="28.2" width="1.3" height="1.3" fill="#2fae2f" opacity="0.20"/>
<rect x="35.2" y="37.4" width="1.3" height="1.3" fill="#2fae2f" opacity="0.47"/>
<rect x="81.4" y="49.4" width="1.3" height="1.3" fill="#2fae2f" opacity="0.21"/>
<rect x="5.2" y="14.1" width="1.3" height="1.3" fill="#2fae2f" opacity="0.45"/>
<rect x="74.7" y="18.0" width="1.3" height="1.3" fill="#2fae2f" opacity="0.37"/>
<rect x="6.7" y="58.4" width="1.3" height="1.3" fill="#2fae2f" opacity="0.27"/>
<rect x="11.8" y="85.5" width="1.3" height="1.3" fill="#2fae2f" opacity="0.40"/>
<rect x="58.8" y="19.4" width="1.3" height="1.3" fill="#2fae2f" opacity="0.38"/>
<rect x="49.9" y="76.2" width="1.3" height="1.3" fill="#2fae2f" opacity="0.18"/>
<rect x="104.0" y="0.4" width="1.3" height="1.3" fill="#2fae2f" opacity="0.23"/>
<rect x="45.9" y="22.9" width="1.3" height="1.3" fill="#2fae2f" opacity="0.18"/>
<rect x="79.2" y="114.5" width="1.3" height="1.3" fill="#2fae2f" opacity="0.27"/>
<rect x="30.7" y="77.3" width="1.3" height="1.3" fill="#2fae2f" opacity="0.23"/>
<rect x="46.2" y="79.3" width="1.3" height="1.3" fill="#2fae2f" opacity="0.30"/>
<rect x="17.9" y="8.1" width="1.3" height="1.3" fill="#2fae2f" opacity="0.34"/>
<rect x="114.1" y="106.0" width="1.3" height="1.3" fill="#2fae2f" opacity="0.18"/>
<rect x="57.9" y="56.3" width="1.3" height="1.3" fill="#2fae2f" opacity="0.22"/>
<rect x="77.2" y="57.1" width="1.3" height="1.3" fill="#2fae2f" opacity="0.43"/>
<rect x="33.6" y="107.6" width="1.3" height="1.3" fill="#2fae2f" opacity="0.44"/>
<rect x="54.5" y="16.3" width="1.3" height="1.3" fill="#2fae2f" opacity="0.32"/>
<rect x="14.6" y="79.0" width="1.3" height="1.3" fill="#2fae2f" opacity="0.39"/>
<rect x="66.6" y="112.5" width="1.3" height="1.3" fill="#2fae2f" opacity="0.17"/>
<rect x="82.4" y="92.3" width="1.3" height="1.3" fill="#2fae2f" opacity="0.19"/>
<rect x="37.1" y="6.2" width="1.3" height="1.3" fill="#2fae2f" opacity="0.35"/>
<rect x="83.3" y="40.1" width="1.3" height="1.3" fill="#2fae2f" opacity="0.39"/>
<rect x="42.2" y="82.0" width="1.3" height="1.3" fill="#2fae2f" opacity="0.25"/>
<rect x="112.7" y="50.5" width="1.3" height="1.3" fill="#2fae2f" opacity="0.15"/>
<rect x="10.5" y="83.6" width="1.3" height="1.3" fill="#2fae2f" opacity="0.45"/>
<rect x="73.4" y="17.9" width="1.3" height="1.3" fill="#2fae2f" opacity="0.46"/>
<rect x="82.6" y="13.3" width="1.3" height="1.3" fill="#2fae2f" opacity="0.28"/>
<rect x="77.4" y="0.4" width="1.3" height="1.3" fill="#2fae2f" opacity="0.16"/>
<rect x="40.7" y="100.8" width="1.3" height="1.3" fill="#2fae2f" opacity="0.50"/>
<rect x="36.7" y="104.7" width="1.3" height="1.3" fill="#2fae2f" opacity="0.43"/>
<rect x="99.7" y="67.8" width="1.3" height="1.3" fill="#2fae2f" opacity="0.49"/>
<rect x="74.2" y="109.2" width="1.3" height="1.3" fill="#2fae2f" opacity="0.35"/>
<rect x="22.6" y="59.8" width="1.3" height="1.3" fill="#2fae2f" opacity="0.32"/>
<path d="M76.70,2.90 C77.18,4.87 78.38,10.02 79.60,14.70 C80.82,19.38 83.27,28.28 84.00,31.00" fill="none" stroke="#48c83a" stroke-width="3.40" opacity="0.150" stroke-linecap="round"/>
<path d="M76.70,2.90 C77.18,4.87 78.38,10.02 79.60,14.70 C80.82,19.38 83.27,28.28 84.00,31.00" fill="none" stroke="#48c83a" stroke-width="2.00" opacity="0.92" stroke-linecap="round" stroke-dasharray="6 1.2 3 1"/>
<path d="M36.90,61.90 C37.92,60.75 40.67,56.97 43.00,55.00 C45.33,53.03 49.58,50.92 50.90,50.10" fill="none" stroke="#48c83a" stroke-width="3.40" opacity="0.150" stroke-linecap="round"/>
<path d="M36.90,61.90 C37.92,60.75 40.67,56.97 43.00,55.00 C45.33,53.03 49.58,50.92 50.90,50.10" fill="none" stroke="#48c83a" stroke-width="2.00" opacity="0.92" stroke-linecap="round" stroke-dasharray="6 1.2 3 1"/>
<path d="M78.00,36.00 C79.00,35.90 83.00,35.50 84.00,35.40" fill="none" stroke="#48c83a" stroke-width="3.48" opacity="0.150" stroke-linecap="round"/>
<path d="M78.00,36.00 C79.00,35.90 83.00,35.50 84.00,35.40" fill="none" stroke="#48c83a" stroke-width="2.08" opacity="0.92" stroke-linecap="round" stroke-dasharray="6 1.2 3 1"/>
<path d="M0.00,81.00 C4.50,80.28 17.23,74.42 27.00,76.70 C36.77,78.98 48.10,88.68 58.60,94.70 C69.10,100.72 84.77,109.78 90.00,112.80" fill="none" stroke="#48c83a" stroke-width="2.44" opacity="0.045" stroke-linecap="round"/>
<path d="M0.00,81.00 C4.50,80.28 17.23,74.42 27.00,76.70 C36.77,78.98 48.10,88.68 58.60,94.70 C69.10,100.72 84.77,109.78 90.00,112.80" fill="none" stroke="#48c83a" stroke-width="1.04" opacity="0.28" stroke-linecap="round" stroke-dasharray="6 1.2 3 1"/>
<path d="M3.00,88.40 C3.73,92.10 6.67,106.90 7.40,110.60" fill="none" stroke="#48c83a" stroke-width="2.52" opacity="0.052" stroke-linecap="round"/>
<path d="M3.00,88.40 C3.73,92.10 6.67,106.90 7.40,110.60" fill="none" stroke="#48c83a" stroke-width="1.12" opacity="0.32" stroke-linecap="round" stroke-dasharray="6 1.2 3 1"/>
<path d="M50.90,50.10 C53.23,48.27 60.38,41.45 64.90,39.10 C69.42,36.75 75.82,36.52 78.00,36.00" fill="none" stroke="#48c83a" stroke-width="1.76" opacity="1.0" stroke-linecap="round"/>
<circle cx="47.2" cy="27.3" r="2.4" fill="#48c83a" opacity="0.75"/>
<circle cx="95.8" cy="46.4" r="1.2" fill="#48c83a" opacity="0.6"/>
<circle cx="103.2" cy="48.6" r="1.2" fill="#48c83a" opacity="0.5"/>
</g></g>
<line x1="265.20" y1="870.00" x2="261.90" y2="863.00" stroke="#ffffff" stroke-width="2.0"/>
<path d="M258.60,856.00 L266.78,861.87 L261.90,863.00 L257.92,866.05 Z" fill="#ffffff"/>
<line x1="238.00" y1="880.30" x2="232.62" y2="873.78" stroke="#ffffff" stroke-width="2.0"/>
<path d="M227.70,867.80 L237.08,871.48 L232.62,873.78 L229.51,877.71 Z" fill="#ffffff"/>
<g transform="translate(296.60,817.70)">
<clipPath id="tc23"><rect width="115.2" height="115.2"/></clipPath><g clip-path="url(#tc23)">
<rect x="38.9" y="43.1" width="1.3" height="1.3" fill="#2fae2f" opacity="0.33"/>
<rect x="67.7" y="25.6" width="1.3" height="1.3" fill="#2fae2f" opacity="0.25"/>
<rect x="57.9" y="58.0" width="1.3" height="1.3" fill="#2fae2f" opacity="0.30"/>
<rect x="76.5" y="21.4" width="1.3" height="1.3" fill="#2fae2f" opacity="0.34"/>
<rect x="31.8" y="88.7" width="1.3" height="1.3" fill="#2fae2f" opacity="0.40"/>
<rect x="90.0" y="59.6" width="1.3" height="1.3" fill="#2fae2f" opacity="0.24"/>
<rect x="106.6" y="58.8" width="1.3" height="1.3" fill="#2fae2f" opacity="0.28"/>
<rect x="33.5" y="46.3" width="1.3" height="1.3" fill="#2fae2f" opacity="0.40"/>
<rect x="94.3" y="55.6" width="1.3" height="1.3" fill="#2fae2f" opacity="0.41"/>
<rect x="24.5" y="52.1" width="1.3" height="1.3" fill="#2fae2f" opacity="0.28"/>
<rect x="35.3" y="41.4" width="1.3" height="1.3" fill="#2fae2f" opacity="0.41"/>
<rect x="84.5" y="23.9" width="1.3" height="1.3" fill="#2fae2f" opacity="0.23"/>
<rect x="90.4" y="75.4" width="1.3" height="1.3" fill="#2fae2f" opacity="0.39"/>
<rect x="73.2" y="79.9" width="1.3" height="1.3" fill="#2fae2f" opacity="0.25"/>
<rect x="7.0" y="41.5" width="1.3" height="1.3" fill="#2fae2f" opacity="0.16"/>
<rect x="110.8" y="60.5" width="1.3" height="1.3" fill="#2fae2f" opacity="0.38"/>
<rect x="111.3" y="92.7" width="1.3" height="1.3" fill="#2fae2f" opacity="0.23"/>
<rect x="38.8" y="12.5" width="1.3" height="1.3" fill="#2fae2f" opacity="0.43"/>
<rect x="84.9" y="56.2" width="1.3" height="1.3" fill="#2fae2f" opacity="0.28"/>
<rect x="31.1" y="56.1" width="1.3" height="1.3" fill="#2fae2f" opacity="0.40"/>
<rect x="103.1" y="97.8" width="1.3" height="1.3" fill="#2fae2f" opacity="0.45"/>
<rect x="50.6" y="48.5" width="1.3" height="1.3" fill="#2fae2f" opacity="0.26"/>
<rect x="112.2" y="21.1" width="1.3" height="1.3" fill="#2fae2f" opacity="0.21"/>
<rect x="32.4" y="106.2" width="1.3" height="1.3" fill="#2fae2f" opacity="0.45"/>
<rect x="38.2" y="98.1" width="1.3" height="1.3" fill="#2fae2f" opacity="0.46"/>
<rect x="49.2" y="22.2" width="1.3" height="1.3" fill="#2fae2f" opacity="0.42"/>
<rect x="43.2" y="13.7" width="1.3" height="1.3" fill="#2fae2f" opacity="0.47"/>
<rect x="50.6" y="45.8" width="1.3" height="1.3" fill="#2fae2f" opacity="0.36"/>
<rect x="29.4" y="2.3" width="1.3" height="1.3" fill="#2fae2f" opacity="0.29"/>
<rect x="43.7" y="1.3" width="1.3" height="1.3" fill="#2fae2f" opacity="0.28"/>
<rect x="87.7" y="38.4" width="1.3" height="1.3" fill="#2fae2f" opacity="0.39"/>
<rect x="72.0" y="21.7" width="1.3" height="1.3" fill="#2fae2f" opacity="0.16"/>
<rect x="77.7" y="70.4" width="1.3" height="1.3" fill="#2fae2f" opacity="0.25"/>
<rect x="23.1" y="98.5" width="1.3" height="1.3" fill="#2fae2f" opacity="0.47"/>
<rect x="26.9" y="67.5" width="1.3" height="1.3" fill="#2fae2f" opacity="0.35"/>
<rect x="37.1" y="4.2" width="1.3" height="1.3" fill="#2fae2f" opacity="0.26"/>
<rect x="74.2" y="69.3" width="1.3" height="1.3" fill="#2fae2f" opacity="0.33"/>
<rect x="14.1" y="24.5" width="1.3" height="1.3" fill="#2fae2f" opacity="0.26"/>
<rect x="48.0" y="41.8" width="1.3" height="1.3" fill="#2fae2f" opacity="0.47"/>
<rect x="13.4" y="113.6" width="1.3" height="1.3" fill="#2fae2f" opacity="0.23"/>
<rect x="98.7" y="28.1" width="1.3" height="1.3" fill="#2fae2f" opacity="0.36"/>
<rect x="43.5" y="4.4" width="1.3" height="1.3" fill="#2fae2f" opacity="0.43"/>
<rect x="93.4" y="31.0" width="1.3" height="1.3" fill="#2fae2f" opacity="0.42"/>
<rect x="55.2" y="113.7" width="1.3" height="1.3" fill="#2fae2f" opacity="0.17"/>
<rect x="43.8" y="26.2" width="1.3" height="1.3" fill="#2fae2f" opacity="0.37"/>
<rect x="89.6" y="97.0" width="1.3" height="1.3" fill="#2fae2f" opacity="0.34"/>
<rect x="44.6" y="92.1" width="1.3" height="1.3" fill="#2fae2f" opacity="0.19"/>
<rect x="30.0" y="86.7" width="1.3" height="1.3" fill="#2fae2f" opacity="0.30"/>
<rect x="114.4" y="10.5" width="1.3" height="1.3" fill="#2fae2f" opacity="0.31"/>
<rect x="24.5" y="0.2" width="1.3" height="1.3" fill="#2fae2f" opacity="0.18"/>
<rect x="10.5" y="42.5" width="1.3" height="1.3" fill="#2fae2f" opacity="0.30"/>
<rect x="58.5" y="33.3" width="1.3" height="1.3" fill="#2fae2f" opacity="0.40"/>
<rect x="59.5" y="113.1" width="1.3" height="1.3" fill="#2fae2f" opacity="0.21"/>
<rect x="58.8" y="56.9" width="1.3" height="1.3" fill="#2fae2f" opacity="0.28"/>
<rect x="99.2" y="24.1" width="1.3" height="1.3" fill="#2fae2f" opacity="0.46"/>
<rect x="41.2" y="38.6" width="1.3" height="1.3" fill="#2fae2f" opacity="0.37"/>
<rect x="64.9" y="32.7" width="1.3" height="1.3" fill="#2fae2f" opacity="0.18"/>
<rect x="110.0" y="42.6" width="1.3" height="1.3" fill="#2fae2f" opacity="0.19"/>
<rect x="75.6" y="61.3" width="1.3" height="1.3" fill="#2fae2f" opacity="0.26"/>
<rect x="37.8" y="97.3" width="1.3" height="1.3" fill="#2fae2f" opacity="0.27"/>
<rect x="48.1" y="110.2" width="1.3" height="1.3" fill="#2fae2f" opacity="0.28"/>
<rect x="46.3" y="18.7" width="1.3" height="1.3" fill="#2fae2f" opacity="0.38"/>
<rect x="76.6" y="51.4" width="1.3" height="1.3" fill="#2fae2f" opacity="0.29"/>
<rect x="26.8" y="91.0" width="1.3" height="1.3" fill="#2fae2f" opacity="0.31"/>
<rect x="95.8" y="43.2" width="1.3" height="1.3" fill="#2fae2f" opacity="0.41"/>
<rect x="3.3" y="25.3" width="1.3" height="1.3" fill="#2fae2f" opacity="0.49"/>
<rect x="78.6" y="77.8" width="1.3" height="1.3" fill="#2fae2f" opacity="0.32"/>
<rect x="54.4" y="22.8" width="1.3" height="1.3" fill="#2fae2f" opacity="0.21"/>
<rect x="74.3" y="79.9" width="1.3" height="1.3" fill="#2fae2f" opacity="0.24"/>
<rect x="74.3" y="15.7" width="1.3" height="1.3" fill="#2fae2f" opacity="0.36"/>
<rect x="19.8" y="58.7" width="1.3" height="1.3" fill="#2fae2f" opacity="0.26"/>
<rect x="63.4" y="15.4" width="1.3" height="1.3" fill="#2fae2f" opacity="0.32"/>
<rect x="71.0" y="15.5" width="1.3" height="1.3" fill="#2fae2f" opacity="0.26"/>
<rect x="78.2" y="62.9" width="1.3" height="1.3" fill="#2fae2f" opacity="0.37"/>
<rect x="89.8" y="65.8" width="1.3" height="1.3" fill="#2fae2f" opacity="0.23"/>
<rect x="51.0" y="95.6" width="1.3" height="1.3" fill="#2fae2f" opacity="0.35"/>
<rect x="86.8" y="41.9" width="1.3" height="1.3" fill="#2fae2f" opacity="0.31"/>
<rect x="111.7" y="94.7" width="1.3" height="1.3" fill="#2fae2f" opacity="0.38"/>
<rect x="12.3" y="70.5" width="1.3" height="1.3" fill="#2fae2f" opacity="0.16"/>
<rect x="107.6" y="112.0" width="1.3" height="1.3" fill="#2fae2f" opacity="0.40"/>
<path d="M76.70,2.90 C77.18,4.87 78.38,10.02 79.60,14.70 C80.82,19.38 83.27,28.28 84.00,31.00" fill="none" stroke="#48c83a" stroke-width="3.40" opacity="0.150" stroke-linecap="round"/>
<path d="M76.70,2.90 C77.18,4.87 78.38,10.02 79.60,14.70 C80.82,19.38 83.27,28.28 84.00,31.00" fill="none" stroke="#48c83a" stroke-width="2.00" opacity="0.92" stroke-linecap="round" stroke-dasharray="6 1.2 3 1"/>
<path d="M36.90,61.90 C37.92,60.75 40.67,56.97 43.00,55.00 C45.33,53.03 49.58,50.92 50.90,50.10" fill="none" stroke="#48c83a" stroke-width="3.40" opacity="0.150" stroke-linecap="round"/>
<path d="M36.90,61.90 C37.92,60.75 40.67,56.97 43.00,55.00 C45.33,53.03 49.58,50.92 50.90,50.10" fill="none" stroke="#48c83a" stroke-width="2.00" opacity="0.92" stroke-linecap="round" stroke-dasharray="6 1.2 3 1"/>
<path d="M78.00,36.00 C79.00,35.90 83.00,35.50 84.00,35.40" fill="none" stroke="#48c83a" stroke-width="3.48" opacity="0.150" stroke-linecap="round"/>
<path d="M78.00,36.00 C79.00,35.90 83.00,35.50 84.00,35.40" fill="none" stroke="#48c83a" stroke-width="2.08" opacity="0.92" stroke-linecap="round" stroke-dasharray="6 1.2 3 1"/>
<path d="M0.00,81.00 C4.50,80.28 17.23,74.42 27.00,76.70 C36.77,78.98 48.10,88.68 58.60,94.70 C69.10,100.72 84.77,109.78 90.00,112.80" fill="none" stroke="#48c83a" stroke-width="2.44" opacity="0.045" stroke-linecap="round"/>
<path d="M0.00,81.00 C4.50,80.28 17.23,74.42 27.00,76.70 C36.77,78.98 48.10,88.68 58.60,94.70 C69.10,100.72 84.77,109.78 90.00,112.80" fill="none" stroke="#48c83a" stroke-width="1.04" opacity="0.28" stroke-linecap="round" stroke-dasharray="6 1.2 3 1"/>
<path d="M3.00,88.40 C3.73,92.10 6.67,106.90 7.40,110.60" fill="none" stroke="#48c83a" stroke-width="2.52" opacity="0.052" stroke-linecap="round"/>
<path d="M3.00,88.40 C3.73,92.10 6.67,106.90 7.40,110.60" fill="none" stroke="#48c83a" stroke-width="1.12" opacity="0.32" stroke-linecap="round" stroke-dasharray="6 1.2 3 1"/>
<path d="M50.90,50.10 C53.23,48.27 60.38,41.45 64.90,39.10 C69.42,36.75 75.82,36.52 78.00,36.00" fill="none" stroke="#48c83a" stroke-width="1.76" opacity="0.4" stroke-linecap="round"/>
<circle cx="47.2" cy="27.3" r="2.4" fill="#48c83a" opacity="0.75"/>
<circle cx="95.8" cy="46.4" r="1.2" fill="#48c83a" opacity="0.6"/>
<circle cx="103.2" cy="48.6" r="1.2" fill="#48c83a" opacity="0.5"/>
</g></g>
<line x1="385.00" y1="870.00" x2="381.70" y2="863.00" stroke="#ffffff" stroke-width="2.0"/>
<path d="M378.40,856.00 L386.58,861.87 L381.70,863.00 L377.72,866.05 Z" fill="#ffffff"/>
<line x1="357.80" y1="880.30" x2="352.42" y2="873.78" stroke="#ffffff" stroke-width="2.0"/>
<path d="M347.50,867.80 L356.88,871.48 L352.42,873.78 L349.31,877.71 Z" fill="#ffffff"/>
<g transform="translate(416.40,817.70)">
<clipPath id="tc33"><rect width="115.2" height="115.2"/></clipPath><g clip-path="url(#tc33)">
<rect x="30.8" y="97.4" width="1.3" height="1.3" fill="#2fae2f" opacity="0.21"/>
<rect x="95.4" y="60.0" width="1.3" height="1.3" fill="#2fae2f" opacity="0.16"/>
<rect x="102.6" y="50.7" width="1.3" height="1.3" fill="#2fae2f" opacity="0.44"/>
<rect x="79.3" y="61.4" width="1.3" height="1.3" fill="#2fae2f" opacity="0.45"/>
<rect x="23.4" y="103.5" width="1.3" height="1.3" fill="#2fae2f" opacity="0.27"/>
<rect x="3.0" y="38.8" width="1.3" height="1.3" fill="#2fae2f" opacity="0.17"/>
<rect x="8.3" y="71.9" width="1.3" height="1.3" fill="#2fae2f" opacity="0.19"/>
<rect x="18.4" y="33.7" width="1.3" height="1.3" fill="#2fae2f" opacity="0.25"/>
<rect x="106.0" y="104.3" width="1.3" height="1.3" fill="#2fae2f" opacity="0.45"/>
<rect x="114.0" y="50.7" width="1.3" height="1.3" fill="#2fae2f" opacity="0.43"/>
<rect x="32.4" y="106.7" width="1.3" height="1.3" fill="#2fae2f" opacity="0.43"/>
<rect x="84.3" y="26.2" width="1.3" height="1.3" fill="#2fae2f" opacity="0.18"/>
<rect x="106.6" y="63.6" width="1.3" height="1.3" fill="#2fae2f" opacity="0.36"/>
<rect x="99.3" y="16.5" width="1.3" height="1.3" fill="#2fae2f" opacity="0.39"/>
<rect x="53.5" y="90.6" width="1.3" height="1.3" fill="#2fae2f" opacity="0.31"/>
<rect x="22.7" y="110.2" width="1.3" height="1.3" fill="#2fae2f" opacity="0.25"/>
<rect x="85.8" y="95.8" width="1.3" height="1.3" fill="#2fae2f" opacity="0.24"/>
<rect x="80.1" y="45.6" width="1.3" height="1.3" fill="#2fae2f" opacity="0.23"/>
<rect x="25.0" y="109.9" width="1.3" height="1.3" fill="#2fae2f" opacity="0.28"/>
<rect x="58.7" y="57.7" width="1.3" height="1.3" fill="#2fae2f" opacity="0.16"/>
<rect x="86.8" y="85.8" width="1.3" height="1.3" fill="#2fae2f" opacity="0.46"/>
<rect x="41.1" y="24.2" width="1.3" height="1.3" fill="#2fae2f" opacity="0.27"/>
<rect x="84.3" y="75.8" width="1.3" height="1.3" fill="#2fae2f" opacity="0.29"/>
<rect x="60.4" y="17.8" width="1.3" height="1.3" fill="#2fae2f" opacity="0.47"/>
<rect x="54.4" y="58.4" width="1.3" height="1.3" fill="#2fae2f" opacity="0.43"/>
<rect x="22.8" y="83.2" width="1.3" height="1.3" fill="#2fae2f" opacity="0.27"/>
<rect x="93.6" y="10.9" width="1.3" height="1.3" fill="#2fae2f" opacity="0.25"/>
<rect x="73.2" y="55.6" width="1.3" height="1.3" fill="#2fae2f" opacity="0.28"/>
<rect x="66.7" y="25.1" width="1.3" height="1.3" fill="#2fae2f" opacity="0.30"/>
<rect x="0.2" y="92.0" width="1.3" height="1.3" fill="#2fae2f" opacity="0.24"/>
<rect x="95.7" y="63.6" width="1.3" height="1.3" fill="#2fae2f" opacity="0.36"/>
<rect x="72.1" y="14.5" width="1.3" height="1.3" fill="#2fae2f" opacity="0.42"/>
<rect x="33.6" y="99.4" width="1.3" height="1.3" fill="#2fae2f" opacity="0.43"/>
<rect x="78.1" y="93.9" width="1.3" height="1.3" fill="#2fae2f" opacity="0.30"/>
<rect x="77.6" y="109.8" width="1.3" height="1.3" fill="#2fae2f" opacity="0.22"/>
<rect x="11.6" y="47.5" width="1.3" height="1.3" fill="#2fae2f" opacity="0.33"/>
<rect x="17.2" y="25.5" width="1.3" height="1.3" fill="#2fae2f" opacity="0.45"/>
<rect x="44.7" y="17.2" width="1.3" height="1.3" fill="#2fae2f" opacity="0.21"/>
<rect x="66.5" y="21.9" width="1.3" height="1.3" fill="#2fae2f" opacity="0.32"/>
<rect x="61.9" y="50.7" width="1.3" height="1.3" fill="#2fae2f" opacity="0.33"/>
<rect x="96.4" y="1.9" width="1.3" height="1.3" fill="#2fae2f" opacity="0.48"/>
<rect x="23.0" y="4.4" width="1.3" height="1.3" fill="#2fae2f" opacity="0.42"/>
<rect x="65.7" y="62.0" width="1.3" height="1.3" fill="#2fae2f" opacity="0.23"/>
<rect x="90.0" y="35.3" width="1.3" height="1.3" fill="#2fae2f" opacity="0.40"/>
<rect x="26.3" y="66.0" width="1.3" height="1.3" fill="#2fae2f" opacity="0.38"/>
<rect x="42.8" y="55.3" width="1.3" height="1.3" fill="#2fae2f" opacity="0.17"/>
<rect x="74.1" y="79.6" width="1.3" height="1.3" fill="#2fae2f" opacity="0.20"/>
<rect x="63.4" y="84.4" width="1.3" height="1.3" fill="#2fae2f" opacity="0.19"/>
<rect x="96.6" y="100.3" width="1.3" height="1.3" fill="#2fae2f" opacity="0.17"/>
<rect x="28.6" y="9.7" width="1.3" height="1.3" fill="#2fae2f" opacity="0.24"/>
<rect x="9.9" y="56.4" width="1.3" height="1.3" fill="#2fae2f" opacity="0.24"/>
<rect x="34.6" y="53.2" width="1.3" height="1.3" fill="#2fae2f" opacity="0.28"/>
<rect x="90.8" y="83.3" width="1.3" height="1.3" fill="#2fae2f" opacity="0.19"/>
<rect x="25.7" y="1.0" width="1.3" height="1.3" fill="#2fae2f" opacity="0.27"/>
<rect x="12.5" y="80.3" width="1.3" height="1.3" fill="#2fae2f" opacity="0.42"/>
<rect x="114.7" y="24.1" width="1.3" height="1.3" fill="#2fae2f" opacity="0.16"/>
<rect x="87.2" y="47.4" width="1.3" height="1.3" fill="#2fae2f" opacity="0.48"/>
<rect x="45.2" y="36.0" width="1.3" height="1.3" fill="#2fae2f" opacity="0.18"/>
<rect x="109.2" y="59.0" width="1.3" height="1.3" fill="#2fae2f" opacity="0.30"/>
<rect x="50.4" y="88.5" width="1.3" height="1.3" fill="#2fae2f" opacity="0.44"/>
<rect x="54.8" y="20.5" width="1.3" height="1.3" fill="#2fae2f" opacity="0.29"/>
<rect x="102.7" y="47.0" width="1.3" height="1.3" fill="#2fae2f" opacity="0.38"/>
<rect x="64.5" y="53.1" width="1.3" height="1.3" fill="#2fae2f" opacity="0.35"/>
<rect x="28.2" y="64.2" width="1.3" height="1.3" fill="#2fae2f" opacity="0.45"/>
<rect x="9.2" y="42.5" width="1.3" height="1.3" fill="#2fae2f" opacity="0.46"/>
<rect x="112.7" y="1.5" width="1.3" height="1.3" fill="#2fae2f" opacity="0.37"/>
<rect x="72.8" y="97.1" width="1.3" height="1.3" fill="#2fae2f" opacity="0.31"/>
<rect x="15.1" y="34.6" width="1.3" height="1.3" fill="#2fae2f" opacity="0.40"/>
<rect x="83.9" y="23.6" width="1.3" height="1.3" fill="#2fae2f" opacity="0.37"/>
<rect x="75.7" y="75.8" width="1.3" height="1.3" fill="#2fae2f" opacity="0.16"/>
<rect x="50.9" y="37.4" width="1.3" height="1.3" fill="#2fae2f" opacity="0.36"/>
<rect x="38.8" y="14.8" width="1.3" height="1.3" fill="#2fae2f" opacity="0.38"/>
<rect x="33.1" y="91.1" width="1.3" height="1.3" fill="#2fae2f" opacity="0.26"/>
<rect x="62.9" y="93.1" width="1.3" height="1.3" fill="#2fae2f" opacity="0.19"/>
<rect x="84.2" y="7.8" width="1.3" height="1.3" fill="#2fae2f" opacity="0.48"/>
<rect x="2.9" y="83.4" width="1.3" height="1.3" fill="#2fae2f" opacity="0.28"/>
<rect x="20.7" y="45.5" width="1.3" height="1.3" fill="#2fae2f" opacity="0.33"/>
<rect x="47.8" y="14.1" width="1.3" height="1.3" fill="#2fae2f" opacity="0.33"/>
<rect x="34.6" y="111.4" width="1.3" height="1.3" fill="#2fae2f" opacity="0.28"/>
<rect x="50.1" y="26.3" width="1.3" height="1.3" fill="#2fae2f" opacity="0.49"/>
<path d="M76.70,2.90 C77.18,4.87 78.38,10.02 79.60,14.70 C80.82,19.38 83.27,28.28 84.00,31.00" fill="none" stroke="#48c83a" stroke-width="3.40" opacity="0.150" stroke-linecap="round"/>
<path d="M76.70,2.90 C77.18,4.87 78.38,10.02 79.60,14.70 C80.82,19.38 83.27,28.28 84.00,31.00" fill="none" stroke="#48c83a" stroke-width="2.00" opacity="0.92" stroke-linecap="round" stroke-dasharray="6 1.2 3 1"/>
<path d="M36.90,61.90 C37.92,60.75 40.67,56.97 43.00,55.00 C45.33,53.03 49.58,50.92 50.90,50.10" fill="none" stroke="#48c83a" stroke-width="3.40" opacity="0.150" stroke-linecap="round"/>
<path d="M36.90,61.90 C37.92,60.75 40.67,56.97 43.00,55.00 C45.33,53.03 49.58,50.92 50.90,50.10" fill="none" stroke="#48c83a" stroke-width="2.00" opacity="0.92" stroke-linecap="round" stroke-dasharray="6 1.2 3 1"/>
<path d="M78.00,36.00 C79.00,35.90 83.00,35.50 84.00,35.40" fill="none" stroke="#48c83a" stroke-width="3.48" opacity="0.150" stroke-linecap="round"/>
<path d="M78.00,36.00 C79.00,35.90 83.00,35.50 84.00,35.40" fill="none" stroke="#48c83a" stroke-width="2.08" opacity="0.92" stroke-linecap="round" stroke-dasharray="6 1.2 3 1"/>
<path d="M0.00,81.00 C4.50,80.28 17.23,74.42 27.00,76.70 C36.77,78.98 48.10,88.68 58.60,94.70 C69.10,100.72 84.77,109.78 90.00,112.80" fill="none" stroke="#48c83a" stroke-width="2.44" opacity="0.045" stroke-linecap="round"/>
<path d="M0.00,81.00 C4.50,80.28 17.23,74.42 27.00,76.70 C36.77,78.98 48.10,88.68 58.60,94.70 C69.10,100.72 84.77,109.78 90.00,112.80" fill="none" stroke="#48c83a" stroke-width="1.04" opacity="0.28" stroke-linecap="round" stroke-dasharray="6 1.2 3 1"/>
<path d="M3.00,88.40 C3.73,92.10 6.67,106.90 7.40,110.60" fill="none" stroke="#48c83a" stroke-width="2.52" opacity="0.052" stroke-linecap="round"/>
<path d="M3.00,88.40 C3.73,92.10 6.67,106.90 7.40,110.60" fill="none" stroke="#48c83a" stroke-width="1.12" opacity="0.32" stroke-linecap="round" stroke-dasharray="6 1.2 3 1"/>
<path d="M50.90,50.10 C53.23,48.27 60.38,41.45 64.90,39.10 C69.42,36.75 75.82,36.52 78.00,36.00" fill="none" stroke="#48c83a" stroke-width="1.76" opacity="0.4" stroke-linecap="round"/>
<circle cx="47.2" cy="27.3" r="2.4" fill="#48c83a" opacity="0.75"/>
<circle cx="95.8" cy="46.4" r="1.2" fill="#48c83a" opacity="0.6"/>
<circle cx="103.2" cy="48.6" r="1.2" fill="#48c83a" opacity="0.5"/>
</g></g>
<line x1="504.80" y1="870.00" x2="501.50" y2="863.00" stroke="#ffffff" stroke-width="2.0"/>
<path d="M498.20,856.00 L506.38,861.87 L501.50,863.00 L497.52,866.05 Z" fill="#ffffff"/>
<line x1="477.60" y1="880.30" x2="472.22" y2="873.78" stroke="#ffffff" stroke-width="2.0"/>
<path d="M467.30,867.80 L476.68,871.48 L472.22,873.78 L469.11,877.71 Z" fill="#ffffff"/>
<g transform="translate(536.20,817.70)">
<clipPath id="tc43"><rect width="115.2" height="115.2"/></clipPath><g clip-path="url(#tc43)">
<rect x="37.1" y="74.4" width="1.3" height="1.3" fill="#2fae2f" opacity="0.44"/>
<rect x="45.3" y="87.0" width="1.3" height="1.3" fill="#2fae2f" opacity="0.25"/>
<rect x="12.6" y="4.9" width="1.3" height="1.3" fill="#2fae2f" opacity="0.31"/>
<rect x="100.7" y="23.4" width="1.3" height="1.3" fill="#2fae2f" opacity="0.30"/>
<rect x="87.9" y="31.8" width="1.3" height="1.3" fill="#2fae2f" opacity="0.20"/>
<rect x="59.8" y="49.0" width="1.3" height="1.3" fill="#2fae2f" opacity="0.48"/>
<rect x="103.4" y="27.4" width="1.3" height="1.3" fill="#2fae2f" opacity="0.35"/>
<rect x="47.9" y="3.9" width="1.3" height="1.3" fill="#2fae2f" opacity="0.31"/>
<rect x="105.5" y="34.9" width="1.3" height="1.3" fill="#2fae2f" opacity="0.36"/>
<rect x="81.8" y="7.3" width="1.3" height="1.3" fill="#2fae2f" opacity="0.47"/>
<rect x="12.6" y="34.7" width="1.3" height="1.3" fill="#2fae2f" opacity="0.40"/>
<rect x="2.2" y="43.3" width="1.3" height="1.3" fill="#2fae2f" opacity="0.19"/>
<rect x="54.5" y="1.8" width="1.3" height="1.3" fill="#2fae2f" opacity="0.20"/>
<rect x="25.6" y="9.4" width="1.3" height="1.3" fill="#2fae2f" opacity="0.18"/>
<rect x="22.4" y="59.6" width="1.3" height="1.3" fill="#2fae2f" opacity="0.20"/>
<rect x="94.6" y="48.0" width="1.3" height="1.3" fill="#2fae2f" opacity="0.24"/>
<rect x="27.8" y="96.7" width="1.3" height="1.3" fill="#2fae2f" opacity="0.17"/>
<rect x="85.5" y="11.2" width="1.3" height="1.3" fill="#2fae2f" opacity="0.48"/>
<rect x="47.0" y="68.8" width="1.3" height="1.3" fill="#2fae2f" opacity="0.45"/>
<rect x="11.6" y="7.4" width="1.3" height="1.3" fill="#2fae2f" opacity="0.39"/>
<rect x="67.7" y="83.1" width="1.3" height="1.3" fill="#2fae2f" opacity="0.25"/>
<rect x="57.2" y="21.5" width="1.3" height="1.3" fill="#2fae2f" opacity="0.30"/>
<rect x="32.4" y="67.5" width="1.3" height="1.3" fill="#2fae2f" opacity="0.25"/>
<rect x="31.7" y="74.0" width="1.3" height="1.3" fill="#2fae2f" opacity="0.18"/>
<rect x="92.3" y="57.1" width="1.3" height="1.3" fill="#2fae2f" opacity="0.23"/>
<rect x="13.2" y="58.6" width="1.3" height="1.3" fill="#2fae2f" opacity="0.33"/>
<rect x="82.9" y="43.1" width="1.3" height="1.3" fill="#2fae2f" opacity="0.29"/>
<rect x="102.8" y="31.5" width="1.3" height="1.3" fill="#2fae2f" opacity="0.49"/>
<rect x="102.8" y="114.1" width="1.3" height="1.3" fill="#2fae2f" opacity="0.48"/>
<rect x="29.6" y="93.8" width="1.3" height="1.3" fill="#2fae2f" opacity="0.36"/>
<rect x="23.5" y="114.9" width="1.3" height="1.3" fill="#2fae2f" opacity="0.38"/>
<rect x="93.3" y="64.3" width="1.3" height="1.3" fill="#2fae2f" opacity="0.18"/>
<rect x="99.5" y="20.2" width="1.3" height="1.3" fill="#2fae2f" opacity="0.24"/>
<rect x="71.0" y="22.3" width="1.3" height="1.3" fill="#2fae2f" opacity="0.31"/>
<rect x="82.2" y="11.1" width="1.3" height="1.3" fill="#2fae2f" opacity="0.38"/>
<rect x="12.0" y="54.8" width="1.3" height="1.3" fill="#2fae2f" opacity="0.38"/>
<rect x="79.2" y="5.0" width="1.3" height="1.3" fill="#2fae2f" opacity="0.22"/>
<rect x="110.6" y="45.0" width="1.3" height="1.3" fill="#2fae2f" opacity="0.30"/>
<rect x="43.2" y="80.2" width="1.3" height="1.3" fill="#2fae2f" opacity="0.41"/>
<rect x="74.9" y="46.4" width="1.3" height="1.3" fill="#2fae2f" opacity="0.35"/>
<rect x="59.4" y="21.6" width="1.3" height="1.3" fill="#2fae2f" opacity="0.48"/>
<rect x="111.2" y="89.6" width="1.3" height="1.3" fill="#2fae2f" opacity="0.50"/>
<rect x="53.6" y="96.7" width="1.3" height="1.3" fill="#2fae2f" opacity="0.23"/>
<rect x="85.6" y="82.4" width="1.3" height="1.3" fill="#2fae2f" opacity="0.48"/>
<rect x="96.0" y="101.3" width="1.3" height="1.3" fill="#2fae2f" opacity="0.24"/>
<rect x="90.7" y="54.8" width="1.3" height="1.3" fill="#2fae2f" opacity="0.26"/>
<rect x="42.4" y="92.0" width="1.3" height="1.3" fill="#2fae2f" opacity="0.44"/>
<rect x="97.3" y="77.1" width="1.3" height="1.3" fill="#2fae2f" opacity="0.21"/>
<rect x="17.9" y="65.4" width="1.3" height="1.3" fill="#2fae2f" opacity="0.22"/>
<rect x="38.8" y="11.8" width="1.3" height="1.3" fill="#2fae2f" opacity="0.20"/>
<rect x="82.6" y="25.8" width="1.3" height="1.3" fill="#2fae2f" opacity="0.45"/>
<rect x="37.9" y="97.8" width="1.3" height="1.3" fill="#2fae2f" opacity="0.26"/>
<rect x="30.8" y="45.5" width="1.3" height="1.3" fill="#2fae2f" opacity="0.15"/>
<rect x="50.2" y="43.8" width="1.3" height="1.3" fill="#2fae2f" opacity="0.15"/>
<rect x="99.2" y="43.2" width="1.3" height="1.3" fill="#2fae2f" opacity="0.15"/>
<rect x="110.6" y="26.3" width="1.3" height="1.3" fill="#2fae2f" opacity="0.24"/>
<rect x="2.8" y="11.5" width="1.3" height="1.3" fill="#2fae2f" opacity="0.40"/>
<rect x="67.0" y="58.1" width="1.3" height="1.3" fill="#2fae2f" opacity="0.24"/>
<rect x="33.0" y="111.8" width="1.3" height="1.3" fill="#2fae2f" opacity="0.28"/>
<rect x="114.0" y="102.1" width="1.3" height="1.3" fill="#2fae2f" opacity="0.19"/>
<rect x="97.7" y="2.4" width="1.3" height="1.3" fill="#2fae2f" opacity="0.40"/>
<rect x="93.3" y="80.1" width="1.3" height="1.3" fill="#2fae2f" opacity="0.34"/>
<rect x="93.6" y="17.8" width="1.3" height="1.3" fill="#2fae2f" opacity="0.34"/>
<rect x="30.6" y="46.0" width="1.3" height="1.3" fill="#2fae2f" opacity="0.22"/>
<rect x="81.6" y="66.0" width="1.3" height="1.3" fill="#2fae2f" opacity="0.42"/>
<rect x="72.4" y="69.0" width="1.3" height="1.3" fill="#2fae2f" opacity="0.47"/>
<rect x="93.6" y="65.3" width="1.3" height="1.3" fill="#2fae2f" opacity="0.26"/>
<rect x="106.9" y="42.8" width="1.3" height="1.3" fill="#2fae2f" opacity="0.19"/>
<rect x="38.4" y="81.4" width="1.3" height="1.3" fill="#2fae2f" opacity="0.48"/>
<rect x="74.4" y="76.3" width="1.3" height="1.3" fill="#2fae2f" opacity="0.48"/>
<rect x="89.6" y="51.3" width="1.3" height="1.3" fill="#2fae2f" opacity="0.31"/>
<rect x="87.5" y="36.6" width="1.3" height="1.3" fill="#2fae2f" opacity="0.19"/>
<rect x="71.4" y="93.2" width="1.3" height="1.3" fill="#2fae2f" opacity="0.24"/>
<rect x="78.8" y="102.8" width="1.3" height="1.3" fill="#2fae2f" opacity="0.19"/>
<rect x="15.6" y="56.8" width="1.3" height="1.3" fill="#2fae2f" opacity="0.27"/>
<rect x="109.4" y="114.8" width="1.3" height="1.3" fill="#2fae2f" opacity="0.31"/>
<rect x="91.4" y="72.8" width="1.3" height="1.3" fill="#2fae2f" opacity="0.21"/>
<rect x="112.0" y="20.1" width="1.3" height="1.3" fill="#2fae2f" opacity="0.18"/>
<rect x="52.1" y="2.1" width="1.3" height="1.3" fill="#2fae2f" opacity="0.32"/>
<rect x="47.5" y="109.9" width="1.3" height="1.3" fill="#2fae2f" opacity="0.29"/>
<path d="M76.70,2.90 C77.18,4.87 78.38,10.02 79.60,14.70 C80.82,19.38 83.27,28.28 84.00,31.00" fill="none" stroke="#48c83a" stroke-width="3.40" opacity="0.150" stroke-linecap="round"/>
<path d="M76.70,2.90 C77.18,4.87 78.38,10.02 79.60,14.70 C80.82,19.38 83.27,28.28 84.00,31.00" fill="none" stroke="#48c83a" stroke-width="2.00" opacity="0.92" stroke-linecap="round" stroke-dasharray="6 1.2 3 1"/>
<path d="M36.90,61.90 C37.92,60.75 40.67,56.97 43.00,55.00 C45.33,53.03 49.58,50.92 50.90,50.10" fill="none" stroke="#48c83a" stroke-width="3.40" opacity="0.150" stroke-linecap="round"/>
<path d="M36.90,61.90 C37.92,60.75 40.67,56.97 43.00,55.00 C45.33,53.03 49.58,50.92 50.90,50.10" fill="none" stroke="#48c83a" stroke-width="2.00" opacity="0.92" stroke-linecap="round" stroke-dasharray="6 1.2 3 1"/>
<path d="M78.00,36.00 C79.00,35.90 83.00,35.50 84.00,35.40" fill="none" stroke="#48c83a" stroke-width="3.48" opacity="0.150" stroke-linecap="round"/>
<path d="M78.00,36.00 C79.00,35.90 83.00,35.50 84.00,35.40" fill="none" stroke="#48c83a" stroke-width="2.08" opacity="0.92" stroke-linecap="round" stroke-dasharray="6 1.2 3 1"/>
<path d="M0.00,81.00 C4.50,80.28 17.23,74.42 27.00,76.70 C36.77,78.98 48.10,88.68 58.60,94.70 C69.10,100.72 84.77,109.78 90.00,112.80" fill="none" stroke="#48c83a" stroke-width="2.44" opacity="0.045" stroke-linecap="round"/>
<path d="M0.00,81.00 C4.50,80.28 17.23,74.42 27.00,76.70 C36.77,78.98 48.10,88.68 58.60,94.70 C69.10,100.72 84.77,109.78 90.00,112.80" fill="none" stroke="#48c83a" stroke-width="1.04" opacity="0.28" stroke-linecap="round" stroke-dasharray="6 1.2 3 1"/>
<path d="M3.00,88.40 C3.73,92.10 6.67,106.90 7.40,110.60" fill="none" stroke="#48c83a" stroke-width="2.52" opacity="0.052" stroke-linecap="round"/>
<path d="M3.00,88.40 C3.73,92.10 6.67,106.90 7.40,110.60" fill="none" stroke="#48c83a" stroke-width="1.12" opacity="0.32" stroke-linecap="round" stroke-dasharray="6 1.2 3 1"/>
<path d="M50.90,50.10 C53.23,48.27 60.38,41.45 64.90,39.10 C69.42,36.75 75.82,36.52 78.00,36.00" fill="none" stroke="#48c83a" stroke-width="1.76" opacity="0.4" stroke-linecap="round"/>
<circle cx="47.2" cy="27.3" r="2.4" fill="#48c83a" opacity="0.75"/>
<circle cx="95.8" cy="46.4" r="1.2" fill="#48c83a" opacity="0.6"/>
<circle cx="103.2" cy="48.6" r="1.2" fill="#48c83a" opacity="0.5"/>
</g></g>
<line x1="624.60" y1="870.00" x2="621.30" y2="863.00" stroke="#ffffff" stroke-width="2.0"/>
<path d="M618.00,856.00 L626.18,861.87 L621.30,863.00 L617.32,866.05 Z" fill="#ffffff"/>
<line x1="597.40" y1="880.30" x2="592.02" y2="873.78" stroke="#ffffff" stroke-width="2.0"/>
<path d="M587.10,867.80 L596.48,871.48 L592.02,873.78 L588.91,877.71 Z" fill="#ffffff"/>
<g transform="translate(656.00,817.70)">
<clipPath id="tc53"><rect width="115.2" height="115.2"/></clipPath><g clip-path="url(#tc53)">
<rect x="97.9" y="89.8" width="1.3" height="1.3" fill="#2fae2f" opacity="0.36"/>
<rect x="27.4" y="35.1" width="1.3" height="1.3" fill="#2fae2f" opacity="0.32"/>
<rect x="45.5" y="74.4" width="1.3" height="1.3" fill="#2fae2f" opacity="0.33"/>
<rect x="37.2" y="69.9" width="1.3" height="1.3" fill="#2fae2f" opacity="0.50"/>
<rect x="23.3" y="38.7" width="1.3" height="1.3" fill="#2fae2f" opacity="0.15"/>
<rect x="10.8" y="6.4" width="1.3" height="1.3" fill="#2fae2f" opacity="0.30"/>
<rect x="96.4" y="80.4" width="1.3" height="1.3" fill="#2fae2f" opacity="0.49"/>
<rect x="96.4" y="67.5" width="1.3" height="1.3" fill="#2fae2f" opacity="0.35"/>
<rect x="1.4" y="44.2" width="1.3" height="1.3" fill="#2fae2f" opacity="0.24"/>
<rect x="71.5" y="7.5" width="1.3" height="1.3" fill="#2fae2f" opacity="0.34"/>
<rect x="43.3" y="56.7" width="1.3" height="1.3" fill="#2fae2f" opacity="0.29"/>
<rect x="11.8" y="84.3" width="1.3" height="1.3" fill="#2fae2f" opacity="0.43"/>
<rect x="68.9" y="13.3" width="1.3" height="1.3" fill="#2fae2f" opacity="0.36"/>
<rect x="100.3" y="113.7" width="1.3" height="1.3" fill="#2fae2f" opacity="0.42"/>
<rect x="5.3" y="101.2" width="1.3" height="1.3" fill="#2fae2f" opacity="0.38"/>
<rect x="31.9" y="106.0" width="1.3" height="1.3" fill="#2fae2f" opacity="0.44"/>
<rect x="103.1" y="28.5" width="1.3" height="1.3" fill="#2fae2f" opacity="0.35"/>
<rect x="43.6" y="34.1" width="1.3" height="1.3" fill="#2fae2f" opacity="0.42"/>
<rect x="71.0" y="38.2" width="1.3" height="1.3" fill="#2fae2f" opacity="0.34"/>
<rect x="106.9" y="65.3" width="1.3" height="1.3" fill="#2fae2f" opacity="0.47"/>
<rect x="65.2" y="114.3" width="1.3" height="1.3" fill="#2fae2f" opacity="0.16"/>
<rect x="53.0" y="63.6" width="1.3" height="1.3" fill="#2fae2f" opacity="0.40"/>
<rect x="111.6" y="71.8" width="1.3" height="1.3" fill="#2fae2f" opacity="0.32"/>
<rect x="73.1" y="61.4" width="1.3" height="1.3" fill="#2fae2f" opacity="0.40"/>
<rect x="109.1" y="1.6" width="1.3" height="1.3" fill="#2fae2f" opacity="0.26"/>
<rect x="101.0" y="6.9" width="1.3" height="1.3" fill="#2fae2f" opacity="0.43"/>
<rect x="3.6" y="74.7" width="1.3" height="1.3" fill="#2fae2f" opacity="0.43"/>
<rect x="27.4" y="43.9" width="1.3" height="1.3" fill="#2fae2f" opacity="0.23"/>
<rect x="81.2" y="60.9" width="1.3" height="1.3" fill="#2fae2f" opacity="0.36"/>
<rect x="37.5" y="67.6" width="1.3" height="1.3" fill="#2fae2f" opacity="0.48"/>
<rect x="89.8" y="109.6" width="1.3" height="1.3" fill="#2fae2f" opacity="0.24"/>
<rect x="59.4" y="44.4" width="1.3" height="1.3" fill="#2fae2f" opacity="0.27"/>
<rect x="92.6" y="20.2" width="1.3" height="1.3" fill="#2fae2f" opacity="0.35"/>
<rect x="89.2" y="107.8" width="1.3" height="1.3" fill="#2fae2f" opacity="0.16"/>
<rect x="31.2" y="56.8" width="1.3" height="1.3" fill="#2fae2f" opacity="0.48"/>
<rect x="18.8" y="96.9" width="1.3" height="1.3" fill="#2fae2f" opacity="0.29"/>
<rect x="63.1" y="106.9" width="1.3" height="1.3" fill="#2fae2f" opacity="0.17"/>
<rect x="38.0" y="17.9" width="1.3" height="1.3" fill="#2fae2f" opacity="0.20"/>
<rect x="35.0" y="80.7" width="1.3" height="1.3" fill="#2fae2f" opacity="0.35"/>
<rect x="14.0" y="92.3" width="1.3" height="1.3" fill="#2fae2f" opacity="0.33"/>
<rect x="16.5" y="94.5" width="1.3" height="1.3" fill="#2fae2f" opacity="0.44"/>
<rect x="25.0" y="108.2" width="1.3" height="1.3" fill="#2fae2f" opacity="0.43"/>
<rect x="26.4" y="0.1" width="1.3" height="1.3" fill="#2fae2f" opacity="0.45"/>
<rect x="95.2" y="11.2" width="1.3" height="1.3" fill="#2fae2f" opacity="0.42"/>
<rect x="89.1" y="73.0" width="1.3" height="1.3" fill="#2fae2f" opacity="0.44"/>
<rect x="113.4" y="37.8" width="1.3" height="1.3" fill="#2fae2f" opacity="0.44"/>
<rect x="106.1" y="36.1" width="1.3" height="1.3" fill="#2fae2f" opacity="0.39"/>
<rect x="78.8" y="97.8" width="1.3" height="1.3" fill="#2fae2f" opacity="0.35"/>
<rect x="31.8" y="29.0" width="1.3" height="1.3" fill="#2fae2f" opacity="0.34"/>
<rect x="15.6" y="99.0" width="1.3" height="1.3" fill="#2fae2f" opacity="0.46"/>
<rect x="27.9" y="80.3" width="1.3" height="1.3" fill="#2fae2f" opacity="0.39"/>
<rect x="14.0" y="89.7" width="1.3" height="1.3" fill="#2fae2f" opacity="0.42"/>
<rect x="35.3" y="11.3" width="1.3" height="1.3" fill="#2fae2f" opacity="0.25"/>
<rect x="88.9" y="53.8" width="1.3" height="1.3" fill="#2fae2f" opacity="0.44"/>
<rect x="18.4" y="12.3" width="1.3" height="1.3" fill="#2fae2f" opacity="0.27"/>
<rect x="101.4" y="18.6" width="1.3" height="1.3" fill="#2fae2f" opacity="0.18"/>
<rect x="86.7" y="10.5" width="1.3" height="1.3" fill="#2fae2f" opacity="0.38"/>
<rect x="9.6" y="28.4" width="1.3" height="1.3" fill="#2fae2f" opacity="0.38"/>
<rect x="100.6" y="47.1" width="1.3" height="1.3" fill="#2fae2f" opacity="0.31"/>
<rect x="3.6" y="39.2" width="1.3" height="1.3" fill="#2fae2f" opacity="0.23"/>
<rect x="90.9" y="82.3" width="1.3" height="1.3" fill="#2fae2f" opacity="0.42"/>
<rect x="61.3" y="80.6" width="1.3" height="1.3" fill="#2fae2f" opacity="0.19"/>
<rect x="44.4" y="33.7" width="1.3" height="1.3" fill="#2fae2f" opacity="0.25"/>
<rect x="85.2" y="24.7" width="1.3" height="1.3" fill="#2fae2f" opacity="0.26"/>
<rect x="32.5" y="99.5" width="1.3" height="1.3" fill="#2fae2f" opacity="0.37"/>
<rect x="55.4" y="43.8" width="1.3" height="1.3" fill="#2fae2f" opacity="0.47"/>
<rect x="108.2" y="51.8" width="1.3" height="1.3" fill="#2fae2f" opacity="0.35"/>
<rect x="99.4" y="29.5" width="1.3" height="1.3" fill="#2fae2f" opacity="0.24"/>
<rect x="11.9" y="57.8" width="1.3" height="1.3" fill="#2fae2f" opacity="0.42"/>
<rect x="18.0" y="49.8" width="1.3" height="1.3" fill="#2fae2f" opacity="0.50"/>
<rect x="55.4" y="44.1" width="1.3" height="1.3" fill="#2fae2f" opacity="0.44"/>
<rect x="102.8" y="43.3" width="1.3" height="1.3" fill="#2fae2f" opacity="0.19"/>
<rect x="73.3" y="85.3" width="1.3" height="1.3" fill="#2fae2f" opacity="0.47"/>
<rect x="76.0" y="35.4" width="1.3" height="1.3" fill="#2fae2f" opacity="0.33"/>
<rect x="33.2" y="51.4" width="1.3" height="1.3" fill="#2fae2f" opacity="0.31"/>
<rect x="105.1" y="104.4" width="1.3" height="1.3" fill="#2fae2f" opacity="0.47"/>
<rect x="55.1" y="111.1" width="1.3" height="1.3" fill="#2fae2f" opacity="0.20"/>
<rect x="106.1" y="73.8" width="1.3" height="1.3" fill="#2fae2f" opacity="0.46"/>
<rect x="47.6" y="114.2" width="1.3" height="1.3" fill="#2fae2f" opacity="0.16"/>
<rect x="97.7" y="94.4" width="1.3" height="1.3" fill="#2fae2f" opacity="0.28"/>
<path d="M76.70,2.90 C77.18,4.87 78.38,10.02 79.60,14.70 C80.82,19.38 83.27,28.28 84.00,31.00" fill="none" stroke="#48c83a" stroke-width="3.40" opacity="0.150" stroke-linecap="round"/>
<path d="M76.70,2.90 C77.18,4.87 78.38,10.02 79.60,14.70 C80.82,19.38 83.27,28.28 84.00,31.00" fill="none" stroke="#48c83a" stroke-width="2.00" opacity="0.92" stroke-linecap="round" stroke-dasharray="6 1.2 3 1"/>
<path d="M36.90,61.90 C37.92,60.75 40.67,56.97 43.00,55.00 C45.33,53.03 49.58,50.92 50.90,50.10" fill="none" stroke="#48c83a" stroke-width="3.40" opacity="0.150" stroke-linecap="round"/>
<path d="M36.90,61.90 C37.92,60.75 40.67,56.97 43.00,55.00 C45.33,53.03 49.58,50.92 50.90,50.10" fill="none" stroke="#48c83a" stroke-width="2.00" opacity="0.92" stroke-linecap="round" stroke-dasharray="6 1.2 3 1"/>
<path d="M78.00,36.00 C79.00,35.90 83.00,35.50 84.00,35.40" fill="none" stroke="#48c83a" stroke-width="3.48" opacity="0.150" stroke-linecap="round"/>
<path d="M78.00,36.00 C79.00,35.90 83.00,35.50 84.00,35.40" fill="none" stroke="#48c83a" stroke-width="2.08" opacity="0.92" stroke-linecap="round" stroke-dasharray="6 1.2 3 1"/>
<path d="M0.00,81.00 C4.50,80.28 17.23,74.42 27.00,76.70 C36.77,78.98 48.10,88.68 58.60,94.70 C69.10,100.72 84.77,109.78 90.00,112.80" fill="none" stroke="#48c83a" stroke-width="2.44" opacity="0.045" stroke-linecap="round"/>
<path d="M0.00,81.00 C4.50,80.28 17.23,74.42 27.00,76.70 C36.77,78.98 48.10,88.68 58.60,94.70 C69.10,100.72 84.77,109.78 90.00,112.80" fill="none" stroke="#48c83a" stroke-width="1.04" opacity="0.28" stroke-linecap="round" stroke-dasharray="6 1.2 3 1"/>
<path d="M3.00,88.40 C3.73,92.10 6.67,106.90 7.40,110.60" fill="none" stroke="#48c83a" stroke-width="2.52" opacity="0.052" stroke-linecap="round"/>
<path d="M3.00,88.40 C3.73,92.10 6.67,106.90 7.40,110.60" fill="none" stroke="#48c83a" stroke-width="1.12" opacity="0.32" stroke-linecap="round" stroke-dasharray="6 1.2 3 1"/>
<path d="M50.90,50.10 C53.23,48.27 60.38,41.45 64.90,39.10 C69.42,36.75 75.82,36.52 78.00,36.00" fill="none" stroke="#48c83a" stroke-width="1.76" opacity="0.4" stroke-linecap="round"/>
<circle cx="47.2" cy="27.3" r="2.4" fill="#48c83a" opacity="0.75"/>
<circle cx="95.8" cy="46.4" r="1.2" fill="#48c83a" opacity="0.6"/>
<circle cx="103.2" cy="48.6" r="1.2" fill="#48c83a" opacity="0.5"/>
</g></g>
<line x1="744.40" y1="870.00" x2="741.10" y2="863.00" stroke="#ffffff" stroke-width="2.0"/>
<path d="M737.80,856.00 L745.98,861.87 L741.10,863.00 L737.12,866.05 Z" fill="#ffffff"/>
<line x1="717.20" y1="880.30" x2="711.82" y2="873.78" stroke="#ffffff" stroke-width="2.0"/>
<path d="M706.90,867.80 L716.28,871.48 L711.82,873.78 L708.71,877.71 Z" fill="#ffffff"/>
<rect x="108.8" y="521.8" width="1.2" height="1.2" fill="#8a1c1c" opacity="0.43"/>
<rect x="110.2" y="516.0" width="1.2" height="1.2" fill="#8a1c1c" opacity="0.33"/>
<rect x="78.7" y="516.4" width="1.2" height="1.2" fill="#8a1c1c" opacity="0.34"/>
<rect x="147.0" y="469.6" width="1.2" height="1.2" fill="#8a1c1c" opacity="0.24"/>
<rect x="68.2" y="549.8" width="1.2" height="1.2" fill="#8a1c1c" opacity="0.36"/>
<rect x="62.7" y="569.2" width="1.2" height="1.2" fill="#8a1c1c" opacity="0.44"/>
<rect x="131.4" y="528.1" width="1.2" height="1.2" fill="#8a1c1c" opacity="0.20"/>
<rect x="59.7" y="518.3" width="1.2" height="1.2" fill="#8a1c1c" opacity="0.17"/>
<rect x="79.3" y="486.1" width="1.2" height="1.2" fill="#8a1c1c" opacity="0.16"/>
<rect x="110.1" y="508.4" width="1.2" height="1.2" fill="#8a1c1c" opacity="0.40"/>
<rect x="116.2" y="530.8" width="1.2" height="1.2" fill="#8a1c1c" opacity="0.30"/>
<rect x="132.3" y="510.3" width="1.2" height="1.2" fill="#8a1c1c" opacity="0.23"/>
<rect x="169.9" y="570.7" width="1.2" height="1.2" fill="#8a1c1c" opacity="0.40"/>
<rect x="137.4" y="494.4" width="1.2" height="1.2" fill="#8a1c1c" opacity="0.22"/>
<rect x="90.4" y="466.9" width="1.2" height="1.2" fill="#8a1c1c" opacity="0.38"/>
<rect x="102.9" y="554.0" width="1.2" height="1.2" fill="#8a1c1c" opacity="0.27"/>
<rect x="165.5" y="554.1" width="1.2" height="1.2" fill="#8a1c1c" opacity="0.15"/>
<rect x="81.5" y="561.1" width="1.2" height="1.2" fill="#8a1c1c" opacity="0.29"/>
<rect x="168.0" y="503.6" width="1.2" height="1.2" fill="#8a1c1c" opacity="0.17"/>
<rect x="128.6" y="546.3" width="1.2" height="1.2" fill="#8a1c1c" opacity="0.23"/>
<rect x="67.8" y="496.3" width="1.2" height="1.2" fill="#8a1c1c" opacity="0.44"/>
<rect x="143.1" y="472.2" width="1.2" height="1.2" fill="#8a1c1c" opacity="0.22"/>
<rect x="69.3" y="465.7" width="1.2" height="1.2" fill="#8a1c1c" opacity="0.39"/>
<rect x="77.9" y="521.8" width="1.2" height="1.2" fill="#8a1c1c" opacity="0.28"/>
<rect x="79.4" y="541.1" width="1.2" height="1.2" fill="#8a1c1c" opacity="0.19"/>
<rect x="130.2" y="472.1" width="1.2" height="1.2" fill="#8a1c1c" opacity="0.28"/>
<rect x="81.9" y="489.3" width="1.2" height="1.2" fill="#8a1c1c" opacity="0.44"/>
<rect x="148.1" y="493.1" width="1.2" height="1.2" fill="#8a1c1c" opacity="0.42"/>
<rect x="81.6" y="503.2" width="1.2" height="1.2" fill="#8a1c1c" opacity="0.41"/>
<rect x="130.0" y="470.3" width="1.2" height="1.2" fill="#8a1c1c" opacity="0.45"/>
<rect x="81.9" y="488.0" width="1.2" height="1.2" fill="#8a1c1c" opacity="0.38"/>
<rect x="94.9" y="492.2" width="1.2" height="1.2" fill="#8a1c1c" opacity="0.17"/>
<rect x="68.1" y="524.4" width="1.2" height="1.2" fill="#8a1c1c" opacity="0.22"/>
<rect x="125.5" y="500.7" width="1.2" height="1.2" fill="#8a1c1c" opacity="0.29"/>
<rect x="165.6" y="513.3" width="1.2" height="1.2" fill="#8a1c1c" opacity="0.32"/>
<rect x="155.2" y="479.5" width="1.2" height="1.2" fill="#8a1c1c" opacity="0.20"/>
<rect x="159.9" y="550.8" width="1.2" height="1.2" fill="#8a1c1c" opacity="0.22"/>
<rect x="79.3" y="542.0" width="1.2" height="1.2" fill="#8a1c1c" opacity="0.43"/>
<rect x="80.1" y="565.6" width="1.2" height="1.2" fill="#8a1c1c" opacity="0.41"/>
<rect x="125.7" y="506.3" width="1.2" height="1.2" fill="#8a1c1c" opacity="0.18"/>
<rect x="62.3" y="567.0" width="1.2" height="1.2" fill="#8a1c1c" opacity="0.22"/>
<rect x="137.1" y="487.8" width="1.2" height="1.2" fill="#8a1c1c" opacity="0.40"/>
<rect x="124.9" y="491.9" width="1.2" height="1.2" fill="#8a1c1c" opacity="0.20"/>
<rect x="138.8" y="466.7" width="1.2" height="1.2" fill="#8a1c1c" opacity="0.22"/>
<rect x="120.8" y="554.6" width="1.2" height="1.2" fill="#8a1c1c" opacity="0.33"/>
<rect x="89.4" y="681.8" width="1.2" height="1.2" fill="#8a1c1c" opacity="0.21"/>
<rect x="59.9" y="609.1" width="1.2" height="1.2" fill="#8a1c1c" opacity="0.28"/>
<rect x="64.8" y="598.7" width="1.2" height="1.2" fill="#8a1c1c" opacity="0.26"/>
<rect x="122.2" y="593.7" width="1.2" height="1.2" fill="#8a1c1c" opacity="0.26"/>
<rect x="158.0" y="688.9" width="1.2" height="1.2" fill="#8a1c1c" opacity="0.35"/>
<rect x="135.6" y="644.5" width="1.2" height="1.2" fill="#8a1c1c" opacity="0.19"/>
<rect x="61.9" y="580.9" width="1.2" height="1.2" fill="#8a1c1c" opacity="0.42"/>
<rect x="136.6" y="686.9" width="1.2" height="1.2" fill="#8a1c1c" opacity="0.16"/>
<rect x="129.4" y="633.0" width="1.2" height="1.2" fill="#8a1c1c" opacity="0.37"/>
<rect x="93.8" y="691.0" width="1.2" height="1.2" fill="#8a1c1c" opacity="0.17"/>
<rect x="119.3" y="661.6" width="1.2" height="1.2" fill="#8a1c1c" opacity="0.42"/>
<rect x="140.7" y="657.9" width="1.2" height="1.2" fill="#8a1c1c" opacity="0.39"/>
<rect x="160.7" y="618.4" width="1.2" height="1.2" fill="#8a1c1c" opacity="0.36"/>
<rect x="159.1" y="676.6" width="1.2" height="1.2" fill="#8a1c1c" opacity="0.28"/>
<rect x="146.7" y="675.8" width="1.2" height="1.2" fill="#8a1c1c" opacity="0.32"/>
<rect x="128.1" y="621.8" width="1.2" height="1.2" fill="#8a1c1c" opacity="0.32"/>
<rect x="126.3" y="587.9" width="1.2" height="1.2" fill="#8a1c1c" opacity="0.34"/>
<rect x="169.5" y="677.6" width="1.2" height="1.2" fill="#8a1c1c" opacity="0.37"/>
<rect x="101.6" y="661.4" width="1.2" height="1.2" fill="#8a1c1c" opacity="0.32"/>
<rect x="107.4" y="673.0" width="1.2" height="1.2" fill="#8a1c1c" opacity="0.18"/>
<rect x="142.2" y="582.2" width="1.2" height="1.2" fill="#8a1c1c" opacity="0.33"/>
<rect x="112.0" y="604.7" width="1.2" height="1.2" fill="#8a1c1c" opacity="0.36"/>
<rect x="113.8" y="647.8" width="1.2" height="1.2" fill="#8a1c1c" opacity="0.43"/>
<rect x="86.7" y="580.2" width="1.2" height="1.2" fill="#8a1c1c" opacity="0.24"/>
<rect x="134.1" y="601.6" width="1.2" height="1.2" fill="#8a1c1c" opacity="0.20"/>
<rect x="159.6" y="653.0" width="1.2" height="1.2" fill="#8a1c1c" opacity="0.28"/>
<rect x="158.1" y="615.6" width="1.2" height="1.2" fill="#8a1c1c" opacity="0.35"/>
<rect x="80.3" y="627.2" width="1.2" height="1.2" fill="#8a1c1c" opacity="0.39"/>
<rect x="160.6" y="677.7" width="1.2" height="1.2" fill="#8a1c1c" opacity="0.27"/>
<rect x="123.4" y="614.4" width="1.2" height="1.2" fill="#8a1c1c" opacity="0.19"/>
<rect x="113.7" y="672.8" width="1.2" height="1.2" fill="#8a1c1c" opacity="0.40"/>
<rect x="137.8" y="685.5" width="1.2" height="1.2" fill="#8a1c1c" opacity="0.23"/>
<rect x="77.0" y="629.5" width="1.2" height="1.2" fill="#8a1c1c" opacity="0.23"/>
<rect x="82.0" y="625.3" width="1.2" height="1.2" fill="#8a1c1c" opacity="0.34"/>
<rect x="113.4" y="614.3" width="1.2" height="1.2" fill="#8a1c1c" opacity="0.40"/>
<rect x="168.2" y="629.7" width="1.2" height="1.2" fill="#8a1c1c" opacity="0.17"/>
<rect x="61.5" y="676.8" width="1.2" height="1.2" fill="#8a1c1c" opacity="0.16"/>
<rect x="137.5" y="642.9" width="1.2" height="1.2" fill="#8a1c1c" opacity="0.24"/>
<rect x="146.8" y="581.0" width="1.2" height="1.2" fill="#8a1c1c" opacity="0.19"/>
<rect x="109.0" y="581.7" width="1.2" height="1.2" fill="#8a1c1c" opacity="0.40"/>
<rect x="84.6" y="594.7" width="1.2" height="1.2" fill="#8a1c1c" opacity="0.16"/>
<rect x="128.6" y="629.0" width="1.2" height="1.2" fill="#8a1c1c" opacity="0.34"/>
<rect x="131.5" y="669.5" width="1.2" height="1.2" fill="#8a1c1c" opacity="0.44"/>
<rect x="134.8" y="601.3" width="1.2" height="1.2" fill="#8a1c1c" opacity="0.29"/>
<rect x="78.0" y="580.1" width="1.2" height="1.2" fill="#8a1c1c" opacity="0.29"/>
<rect x="138.1" y="718.9" width="1.2" height="1.2" fill="#8a1c1c" opacity="0.23"/>
<rect x="96.8" y="777.0" width="1.2" height="1.2" fill="#8a1c1c" opacity="0.31"/>
<rect x="126.9" y="783.6" width="1.2" height="1.2" fill="#8a1c1c" opacity="0.27"/>
<rect x="146.9" y="800.5" width="1.2" height="1.2" fill="#8a1c1c" opacity="0.18"/>
<rect x="162.6" y="779.9" width="1.2" height="1.2" fill="#8a1c1c" opacity="0.19"/>
<rect x="108.9" y="769.0" width="1.2" height="1.2" fill="#8a1c1c" opacity="0.42"/>
<rect x="100.3" y="762.6" width="1.2" height="1.2" fill="#8a1c1c" opacity="0.41"/>
<rect x="147.4" y="804.7" width="1.2" height="1.2" fill="#8a1c1c" opacity="0.29"/>
<rect x="131.1" y="721.8" width="1.2" height="1.2" fill="#8a1c1c" opacity="0.37"/>
<rect x="149.8" y="770.8" width="1.2" height="1.2" fill="#8a1c1c" opacity="0.37"/>
<rect x="81.9" y="799.8" width="1.2" height="1.2" fill="#8a1c1c" opacity="0.44"/>
<rect x="167.7" y="759.0" width="1.2" height="1.2" fill="#8a1c1c" opacity="0.39"/>
<rect x="93.9" y="800.9" width="1.2" height="1.2" fill="#8a1c1c" opacity="0.41"/>
<rect x="97.1" y="708.1" width="1.2" height="1.2" fill="#8a1c1c" opacity="0.28"/>
<rect x="119.7" y="785.0" width="1.2" height="1.2" fill="#8a1c1c" opacity="0.30"/>
<rect x="61.2" y="789.6" width="1.2" height="1.2" fill="#8a1c1c" opacity="0.17"/>
<rect x="147.7" y="718.2" width="1.2" height="1.2" fill="#8a1c1c" opacity="0.25"/>
<rect x="146.4" y="714.6" width="1.2" height="1.2" fill="#8a1c1c" opacity="0.19"/>
<rect x="116.0" y="780.0" width="1.2" height="1.2" fill="#8a1c1c" opacity="0.40"/>
<rect x="135.3" y="804.9" width="1.2" height="1.2" fill="#8a1c1c" opacity="0.30"/>
<rect x="164.5" y="708.5" width="1.2" height="1.2" fill="#8a1c1c" opacity="0.22"/>
<rect x="117.1" y="731.4" width="1.2" height="1.2" fill="#8a1c1c" opacity="0.37"/>
<rect x="129.7" y="757.5" width="1.2" height="1.2" fill="#8a1c1c" opacity="0.40"/>
<rect x="120.8" y="733.8" width="1.2" height="1.2" fill="#8a1c1c" opacity="0.26"/>
<rect x="152.8" y="799.8" width="1.2" height="1.2" fill="#8a1c1c" opacity="0.21"/>
<rect x="153.5" y="807.5" width="1.2" height="1.2" fill="#8a1c1c" opacity="0.31"/>
<rect x="122.3" y="721.3" width="1.2" height="1.2" fill="#8a1c1c" opacity="0.31"/>
<rect x="114.5" y="766.7" width="1.2" height="1.2" fill="#8a1c1c" opacity="0.16"/>
<rect x="166.8" y="756.7" width="1.2" height="1.2" fill="#8a1c1c" opacity="0.27"/>
<rect x="147.9" y="762.0" width="1.2" height="1.2" fill="#8a1c1c" opacity="0.30"/>
<rect x="135.5" y="706.2" width="1.2" height="1.2" fill="#8a1c1c" opacity="0.31"/>
<rect x="104.4" y="806.2" width="1.2" height="1.2" fill="#8a1c1c" opacity="0.43"/>
<rect x="88.2" y="751.9" width="1.2" height="1.2" fill="#8a1c1c" opacity="0.19"/>
<rect x="106.7" y="790.3" width="1.2" height="1.2" fill="#8a1c1c" opacity="0.42"/>
<rect x="111.5" y="734.4" width="1.2" height="1.2" fill="#8a1c1c" opacity="0.21"/>
<rect x="127.3" y="802.6" width="1.2" height="1.2" fill="#8a1c1c" opacity="0.19"/>
<rect x="145.4" y="701.4" width="1.2" height="1.2" fill="#8a1c1c" opacity="0.21"/>
<rect x="83.5" y="775.9" width="1.2" height="1.2" fill="#8a1c1c" opacity="0.25"/>
<rect x="97.9" y="768.3" width="1.2" height="1.2" fill="#8a1c1c" opacity="0.18"/>
<rect x="140.0" y="712.6" width="1.2" height="1.2" fill="#8a1c1c" opacity="0.30"/>
<rect x="86.1" y="721.0" width="1.2" height="1.2" fill="#8a1c1c" opacity="0.31"/>
<rect x="107.0" y="741.0" width="1.2" height="1.2" fill="#8a1c1c" opacity="0.27"/>
<rect x="117.4" y="716.7" width="1.2" height="1.2" fill="#8a1c1c" opacity="0.21"/>
<rect x="128.8" y="770.4" width="1.2" height="1.2" fill="#8a1c1c" opacity="0.31"/>
<rect x="153.5" y="767.4" width="1.2" height="1.2" fill="#8a1c1c" opacity="0.41"/>
<rect x="84.1" y="901.8" width="1.2" height="1.2" fill="#8a1c1c" opacity="0.39"/>
<rect x="159.3" y="854.1" width="1.2" height="1.2" fill="#8a1c1c" opacity="0.24"/>
<rect x="161.5" y="843.2" width="1.2" height="1.2" fill="#8a1c1c" opacity="0.45"/>
<rect x="157.6" y="833.7" width="1.2" height="1.2" fill="#8a1c1c" opacity="0.22"/>
<rect x="139.5" y="847.8" width="1.2" height="1.2" fill="#8a1c1c" opacity="0.18"/>
<rect x="151.4" y="866.0" width="1.2" height="1.2" fill="#8a1c1c" opacity="0.39"/>
<rect x="72.1" y="863.9" width="1.2" height="1.2" fill="#8a1c1c" opacity="0.36"/>
<rect x="60.0" y="841.2" width="1.2" height="1.2" fill="#8a1c1c" opacity="0.35"/>
<rect x="160.3" y="927.4" width="1.2" height="1.2" fill="#8a1c1c" opacity="0.18"/>
<rect x="114.7" y="903.8" width="1.2" height="1.2" fill="#8a1c1c" opacity="0.30"/>
<rect x="134.9" y="839.9" width="1.2" height="1.2" fill="#8a1c1c" opacity="0.17"/>
<rect x="69.9" y="822.9" width="1.2" height="1.2" fill="#8a1c1c" opacity="0.32"/>
<rect x="115.8" y="882.5" width="1.2" height="1.2" fill="#8a1c1c" opacity="0.19"/>
<rect x="78.7" y="841.6" width="1.2" height="1.2" fill="#8a1c1c" opacity="0.40"/>
<rect x="169.1" y="922.7" width="1.2" height="1.2" fill="#8a1c1c" opacity="0.18"/>
<rect x="65.0" y="925.5" width="1.2" height="1.2" fill="#8a1c1c" opacity="0.29"/>
<rect x="143.8" y="855.4" width="1.2" height="1.2" fill="#8a1c1c" opacity="0.29"/>
<rect x="115.8" y="867.0" width="1.2" height="1.2" fill="#8a1c1c" opacity="0.33"/>
<rect x="59.5" y="897.4" width="1.2" height="1.2" fill="#8a1c1c" opacity="0.40"/>
<rect x="78.3" y="869.6" width="1.2" height="1.2" fill="#8a1c1c" opacity="0.37"/>
<rect x="103.5" y="840.6" width="1.2" height="1.2" fill="#8a1c1c" opacity="0.20"/>
<rect x="115.5" y="820.4" width="1.2" height="1.2" fill="#8a1c1c" opacity="0.42"/>
<rect x="148.0" y="897.8" width="1.2" height="1.2" fill="#8a1c1c" opacity="0.41"/>
<rect x="128.6" y="864.1" width="1.2" height="1.2" fill="#8a1c1c" opacity="0.33"/>
<rect x="114.6" y="929.0" width="1.2" height="1.2" fill="#8a1c1c" opacity="0.39"/>
<rect x="87.0" y="920.9" width="1.2" height="1.2" fill="#8a1c1c" opacity="0.37"/>
<rect x="145.3" y="910.1" width="1.2" height="1.2" fill="#8a1c1c" opacity="0.27"/>
<rect x="158.6" y="917.4" width="1.2" height="1.2" fill="#8a1c1c" opacity="0.36"/>
<rect x="144.1" y="904.6" width="1.2" height="1.2" fill="#8a1c1c" opacity="0.27"/>
<rect x="139.1" y="826.6" width="1.2" height="1.2" fill="#8a1c1c" opacity="0.25"/>
<rect x="110.6" y="819.9" width="1.2" height="1.2" fill="#8a1c1c" opacity="0.26"/>
<rect x="129.7" y="888.7" width="1.2" height="1.2" fill="#8a1c1c" opacity="0.22"/>
<rect x="164.0" y="893.4" width="1.2" height="1.2" fill="#8a1c1c" opacity="0.25"/>
<rect x="132.0" y="882.6" width="1.2" height="1.2" fill="#8a1c1c" opacity="0.31"/>
<rect x="101.7" y="930.9" width="1.2" height="1.2" fill="#8a1c1c" opacity="0.34"/>
<rect x="136.7" y="904.2" width="1.2" height="1.2" fill="#8a1c1c" opacity="0.44"/>
<rect x="60.6" y="887.7" width="1.2" height="1.2" fill="#8a1c1c" opacity="0.37"/>
<rect x="86.8" y="863.8" width="1.2" height="1.2" fill="#8a1c1c" opacity="0.17"/>
<rect x="79.9" y="860.9" width="1.2" height="1.2" fill="#8a1c1c" opacity="0.18"/>
<rect x="86.1" y="920.3" width="1.2" height="1.2" fill="#8a1c1c" opacity="0.32"/>
<rect x="115.0" y="927.2" width="1.2" height="1.2" fill="#8a1c1c" opacity="0.32"/>
<rect x="169.7" y="890.3" width="1.2" height="1.2" fill="#8a1c1c" opacity="0.39"/>
<rect x="66.5" y="885.7" width="1.2" height="1.2" fill="#8a1c1c" opacity="0.38"/>
<rect x="63.1" y="923.1" width="1.2" height="1.2" fill="#8a1c1c" opacity="0.20"/>
<rect x="110.9" y="837.7" width="1.2" height="1.2" fill="#8a1c1c" opacity="0.30"/>
<path d="M104.20,614.00 C105.42,615.82 109.20,620.75 111.50,624.90 C113.80,629.05 116.33,634.40 118.00,638.90 C119.67,643.40 120.85,647.57 121.50,651.90 C122.15,656.23 121.83,662.73 121.90,664.90" fill="none" stroke="#d8242a" stroke-width="2.5" stroke-dasharray="3 0.8 5 1"/>
<path d="M91.60,881.80 C93.70,879.60 100.13,872.03 104.20,868.60 C108.27,865.17 112.32,863.17 116.00,861.20 C119.68,859.23 122.38,857.67 126.30,856.80 C130.22,855.93 137.30,856.13 139.50,856.00" fill="none" stroke="#d8242a" stroke-width="2.2" stroke-dasharray="5 3"/>
<path d="M132.2,818.2 L133.0,825.7 M133.5,830.7 L134.4,836.9000000000001 L141.0,851.6" fill="none" stroke="#d8242a" stroke-width="1.8" stroke-dasharray="4 1.5"/>
<circle cx="113.0" cy="855.3000000000001" r="2.6" fill="#d8242a"/>
<circle cx="153.6" cy="864.9000000000001" r="1.2" fill="#d8242a"/>
<line x1="105.50" y1="537.40" x2="102.04" y2="529.32" stroke="#ffffff" stroke-width="2.0"/>
<path d="M99.00,522.20 L106.97,528.36 L102.04,529.32 L97.95,532.22 Z" fill="#ffffff"/>
<line x1="133.50" y1="528.30" x2="130.27" y2="520.19" stroke="#ffffff" stroke-width="2.0"/>
<path d="M127.40,513.00 L135.21,519.36 L130.27,520.19 L126.11,522.99 Z" fill="#ffffff"/>
<line x1="126.30" y1="616.20" x2="118.92" y2="618.39" stroke="#ffffff" stroke-width="2.0"/>
<path d="M111.50,620.60 L118.54,613.40 L118.92,618.39 L121.33,622.79 Z" fill="#ffffff"/>
<line x1="137.30" y1="646.00" x2="129.64" y2="646.20" stroke="#ffffff" stroke-width="2.0"/>
<path d="M121.90,646.40 L130.57,641.27 L129.64,646.20 L130.82,651.07 Z" fill="#ffffff"/>
<line x1="142.50" y1="744.70" x2="133.94" y2="743.27" stroke="#ffffff" stroke-width="2.0"/>
<path d="M126.30,742.00 L135.79,738.61 L133.94,743.27 L134.17,748.28 Z" fill="#ffffff"/>
<line x1="121.90" y1="782.60" x2="114.95" y2="776.09" stroke="#ffffff" stroke-width="2.0"/>
<path d="M109.30,770.80 L119.07,773.24 L114.95,776.09 L112.37,780.39 Z" fill="#ffffff"/>
<line x1="142.50" y1="870.00" x2="139.26" y2="863.28" stroke="#ffffff" stroke-width="2.0"/>
<path d="M135.90,856.30 L144.13,862.10 L139.26,863.28 L135.30,866.35 Z" fill="#ffffff"/>
<line x1="114.50" y1="881.40" x2="109.22" y2="875.20" stroke="#ffffff" stroke-width="2.0"/>
<path d="M104.20,869.30 L113.64,872.82 L109.22,875.20 L106.17,879.18 Z" fill="#ffffff"/>
<rect x="70" y="998.9" width="438.55" height="37.40" fill="#9ad421" stroke="#231f20" stroke-width="1.8"/>
<line x1="367.4" y1="1017.60" x2="648.4" y2="1017.60" stroke="#231f20" stroke-width="1.5"/>
<line x1="367.4" y1="1014.90" x2="367.4" y2="1020.30" stroke="#231f20" stroke-width="2.5"/>
<line x1="648.4" y1="1014.90" x2="648.4" y2="1020.30" stroke="#231f20" stroke-width="2.5"/>
<rect x="70" y="1049.3" width="14.01" height="35.80" fill="#9ad421" stroke="#231f20" stroke-width="1.8"/>
<line x1="76.4" y1="1067.20" x2="92" y2="1067.20" stroke="#231f20" stroke-width="1.5"/>
<line x1="76.4" y1="1064.50" x2="76.4" y2="1069.90" stroke="#231f20" stroke-width="2.5"/>
<line x1="92" y1="1064.50" x2="92" y2="1069.90" stroke="#231f20" stroke-width="2.5"/>
<rect x="70" y="1098.6" width="79.75" height="36.10" fill="#9ad421" stroke="#231f20" stroke-width="1.8"/>
<line x1="118.7" y1="1116.65" x2="180.6" y2="1116.65" stroke="#231f20" stroke-width="1.5"/>
<line x1="118.7" y1="1113.95" x2="118.7" y2="1119.35" stroke="#231f20" stroke-width="2.5"/>
<line x1="180.6" y1="1113.95" x2="180.6" y2="1119.35" stroke="#231f20" stroke-width="2.5"/>
<rect x="70" y="1148.1" width="49.04" height="35.70" fill="#9ad421" stroke="#231f20" stroke-width="1.8"/>
<line x1="104.5" y1="1165.95" x2="132.9" y2="1165.95" stroke="#231f20" stroke-width="1.5"/>
<line x1="104.5" y1="1163.25" x2="104.5" y2="1168.65" stroke="#231f20" stroke-width="2.5"/>
<line x1="132.9" y1="1163.25" x2="132.9" y2="1168.65" stroke="#231f20" stroke-width="2.5"/>
<line x1="70" y1="988.4" x2="70" y2="1200.4" stroke="#231f20" stroke-width="2.5"/>
<line x1="68.75" y1="1199.2" x2="655.2" y2="1199.2" stroke="#231f20" stroke-width="2.5"/>
<line x1="186.76" y1="1192.8" x2="186.76" y2="1199" stroke="#231f20" stroke-width="2.4"/>
<line x1="303.52" y1="1192.8" x2="303.52" y2="1199" stroke="#231f20" stroke-width="2.4"/>
<line x1="420.28" y1="1192.8" x2="420.28" y2="1199" stroke="#231f20" stroke-width="2.4"/>
<line x1="537.04" y1="1192.8" x2="537.04" y2="1199" stroke="#231f20" stroke-width="2.4"/>
<line x1="653.80" y1="1192.8" x2="653.80" y2="1199" stroke="#231f20" stroke-width="2.4"/>
<text x="71.30" y="1222" font-size="16.5" fill="#231f20" text-anchor="middle">0</text>
<text x="188.06" y="1222" font-size="16.5" fill="#231f20" text-anchor="middle">1</text>
<text x="304.82" y="1222" font-size="16.5" fill="#231f20" text-anchor="middle">2</text>
<text x="421.58" y="1222" font-size="16.5" fill="#231f20" text-anchor="middle">3</text>
<text x="538.34" y="1222" font-size="16.5" fill="#231f20" text-anchor="middle">4</text>
<text x="655.10" y="1222" font-size="16.5" fill="#231f20" text-anchor="middle">5</text>
<text x="177.40" y="1023.00" font-size="23.15" fill="#231f20" >EGFP-Noggin4</text>
<text x="107.00" y="1077.70" font-size="23.15" fill="#231f20" >EGFP-Noggin4 + TagRFP-Wnt8</text>
<text x="200.80" y="1122.00" font-size="23.15" fill="#231f20" >EGFP-hep</text>
<text x="145.30" y="1172.70" font-size="23.15" fill="#231f20" >EGFP-hep + TagRFP-Wnt8</text>
<text x="169.28" y="1250.80" font-size="21" fill="#231f20" >Effective diffusion coefficient,</text>
<text x="454.57" y="1250.80" font-size="21" fill="#231f20" >µm²/s</text>
<path d="M661.7,1017 L706.2,1017 L706.2,1032.4 M706.2,1050.2 L706.2,1067.3 L443,1067.3" fill="none" stroke="#231f20" stroke-width="1.6"/>
<text x="702.8" y="1052.7" font-size="22" font-weight="bold" fill="#231f20">*</text>
</svg></body></html>
